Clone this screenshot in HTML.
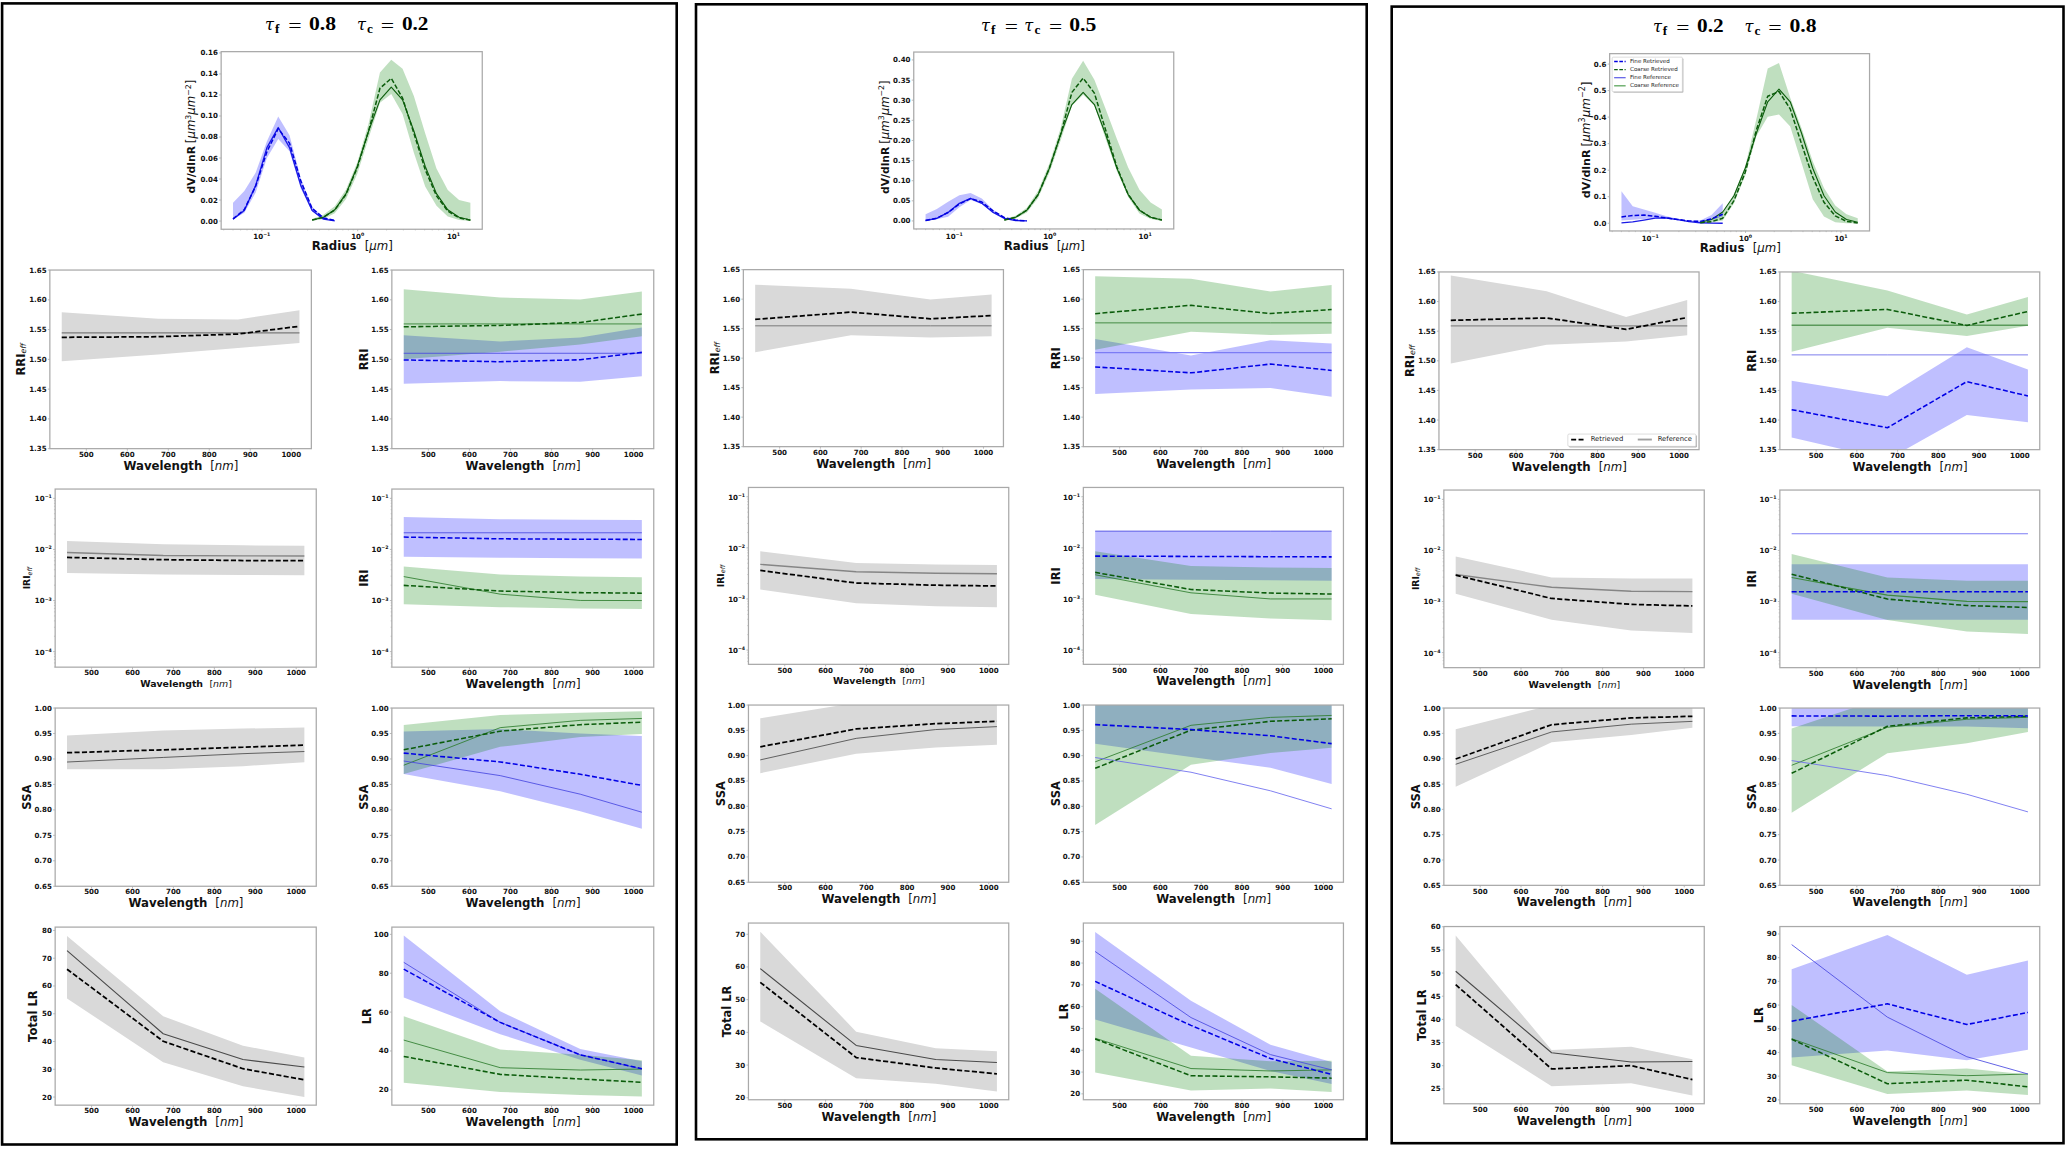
<!DOCTYPE html>
<html lang="en"><head><meta charset="utf-8"><title>Retrieval figure</title>
<style>html,body{margin:0;padding:0;background:#fff}svg{display:block}</style></head>
<body>
<svg width="2067" height="1149" viewBox="0 0 2067 1149">
<rect width="2067" height="1149" fill="#fff"/>
<defs><clipPath id="c1"><rect x="221.3" y="51.3" width="261.1" height="177.6"/></clipPath>
<clipPath id="c2"><rect x="50" y="269.7" width="261.5" height="178.6"/></clipPath>
<clipPath id="c3"><rect x="392" y="269.7" width="261.9" height="178.6"/></clipPath>
<clipPath id="c4"><rect x="55.3" y="488.7" width="261.1" height="178.1"/></clipPath>
<clipPath id="c5"><rect x="392" y="488.7" width="261.9" height="178.1"/></clipPath>
<clipPath id="c6"><rect x="55.3" y="707.7" width="261.1" height="178.2"/></clipPath>
<clipPath id="c7"><rect x="392" y="707.7" width="261.9" height="178.2"/></clipPath>
<clipPath id="c8"><rect x="55.3" y="926.75" width="261.1" height="178.05"/></clipPath>
<clipPath id="c9"><rect x="392" y="926.75" width="261.9" height="178.05"/></clipPath>
<clipPath id="c10"><rect x="913.9" y="51.7" width="260" height="176.9"/></clipPath>
<clipPath id="c11"><rect x="743.5" y="269.3" width="260.1" height="177"/></clipPath>
<clipPath id="c12"><rect x="1083.5" y="269.3" width="260.1" height="177"/></clipPath>
<clipPath id="c13"><rect x="748.6" y="487.1" width="260.3" height="176.9"/></clipPath>
<clipPath id="c14"><rect x="1083.5" y="487.1" width="260.1" height="176.9"/></clipPath>
<clipPath id="c15"><rect x="748.6" y="704.7" width="260.3" height="177.2"/></clipPath>
<clipPath id="c16"><rect x="1083.5" y="704.7" width="260.1" height="177.2"/></clipPath>
<clipPath id="c17"><rect x="748.6" y="922.7" width="260.3" height="176.7"/></clipPath>
<clipPath id="c18"><rect x="1083.5" y="922.7" width="260.1" height="176.7"/></clipPath>
<clipPath id="c19"><rect x="1609.8" y="53.3" width="259.9" height="177.3"/></clipPath>
<clipPath id="c20"><rect x="1439.1" y="271.6" width="260.1" height="177.7"/></clipPath>
<clipPath id="c21"><rect x="1780" y="271.6" width="259.9" height="177.7"/></clipPath>
<clipPath id="c22"><rect x="1444" y="489.7" width="260.4" height="177.6"/></clipPath>
<clipPath id="c23"><rect x="1780" y="489.7" width="259.9" height="177.6"/></clipPath>
<clipPath id="c24"><rect x="1444" y="707.7" width="260.4" height="177.3"/></clipPath>
<clipPath id="c25"><rect x="1780" y="707.7" width="259.9" height="177.3"/></clipPath>
<clipPath id="c26"><rect x="1444" y="926.2" width="260.4" height="177.2"/></clipPath>
<clipPath id="c27"><rect x="1780" y="926.2" width="259.9" height="177.2"/></clipPath></defs>
<rect x="2.1" y="3.4" width="674.6" height="1141.1" fill="none" stroke="#000" stroke-width="2.6"/>
<text x="265.1" y="30" font-family='"DejaVu Serif", "Liberation Serif", serif' font-size="16.8" font-weight="normal" font-style="italic" text-anchor="start" fill="#000" textLength="9.0" lengthAdjust="spacingAndGlyphs">τ</text>
<text x="275" y="33" font-family='"Liberation Serif", "DejaVu Serif", serif' font-size="13.2" font-weight="bold" font-style="normal" text-anchor="start" fill="#000">f</text>
<text x="288.2" y="31.6" font-family='"Liberation Serif", "DejaVu Serif", serif' font-size="19.5" font-weight="normal" font-style="normal" text-anchor="start" fill="#000" textLength="13.4" lengthAdjust="spacingAndGlyphs">=</text>
<text x="309" y="30" font-family='"Liberation Serif", "DejaVu Serif", serif' font-size="18.4" font-weight="bold" font-style="normal" text-anchor="start" fill="#000" textLength="27.1" lengthAdjust="spacingAndGlyphs">0.8</text>
<text x="357" y="30" font-family='"DejaVu Serif", "Liberation Serif", serif' font-size="16.8" font-weight="normal" font-style="italic" text-anchor="start" fill="#000" textLength="9.0" lengthAdjust="spacingAndGlyphs">τ</text>
<text x="367" y="33" font-family='"Liberation Serif", "DejaVu Serif", serif' font-size="13.2" font-weight="bold" font-style="normal" text-anchor="start" fill="#000">c</text>
<text x="380.7" y="31.6" font-family='"Liberation Serif", "DejaVu Serif", serif' font-size="19.5" font-weight="normal" font-style="normal" text-anchor="start" fill="#000" textLength="13.4" lengthAdjust="spacingAndGlyphs">=</text>
<text x="401.9" y="30" font-family='"Liberation Serif", "DejaVu Serif", serif' font-size="18.4" font-weight="bold" font-style="normal" text-anchor="start" fill="#000" textLength="26.6" lengthAdjust="spacingAndGlyphs">0.2</text>
<g transform="translate(-0.15 0.35)">
<g clip-path="url(#c1)"><polygon points="233.17,202.52 244.47,190.76 255.77,172.37 267.08,140.85 278.38,116.27 289.68,134.86 300.99,178.15 312.29,206.52 323.59,216.92 334.9,219.86 334.9,220.7 323.59,218.6 312.29,211.24 300.99,188.13 289.68,150.83 278.38,138.75 267.08,157.66 255.77,192.33 244.47,212.29 233.17,219.12" fill="#0000ff" fill-opacity="0.25"/><polygon points="312.29,218.6 323.59,214.4 334.9,205.99 346.2,189.18 357.5,161.86 368.8,122.99 380.11,72.14 391.41,59.43 402.71,68.36 414.02,95.68 425.32,132.87 436.62,168.17 447.93,189.71 459.23,199.69 470.53,202.52 470.53,220.7 459.23,219.65 447.93,216.18 436.62,205.47 425.32,186.03 414.02,152.41 402.71,113.54 391.41,93.57 380.11,102.5 368.8,137.7 357.5,173.42 346.2,198.64 334.9,212.82 323.59,218.6 312.29,220.38" fill="#008000" fill-opacity="0.25"/><polyline points="233.17,218.77 244.47,210.16 255.77,185.26 267.08,147.33 278.38,127.19 289.68,147.33 300.99,185.26 312.29,210.16 323.59,218.77 334.9,220.48" fill="none" stroke="#1a1ae6" stroke-width="1.3" stroke-linejoin="round"/><polyline points="312.29,219.66 323.59,216.93 334.9,209.47 346.2,193.3 357.5,165.85 368.8,130.66 380.11,99.48 391.41,86.85 402.71,99.48 414.02,130.66 425.32,165.85 436.62,193.3 447.93,209.47 459.23,216.93 470.53,219.66" fill="none" stroke="#0b5c0b" stroke-width="1.1" stroke-linejoin="round"/><polyline points="233.17,218.6 244.47,209.14 255.77,186.03 267.08,151.36 278.38,128.25 289.68,142.95 300.99,180.78 312.29,208.09 323.59,217.55 334.9,220.17" fill="none" stroke="#0000e0" stroke-width="1.5" stroke-linejoin="round" stroke-dasharray="4.6 2"/><polyline points="312.29,219.65 323.59,216.92 334.9,209.67 346.2,193.91 357.5,167.12 368.8,130.35 380.11,87.9 391.41,78.03 402.71,97.78 414.02,132.87 425.32,169.22 436.62,195.48 447.93,210.72 459.23,217.55 470.53,219.86" fill="none" stroke="#0b5c0b" stroke-width="1.5" stroke-linejoin="round" stroke-dasharray="4.6 2"/></g>
<rect x="221.3" y="51.3" width="261.1" height="177.6" fill="none" stroke="#a9a9a9" stroke-width="1.25"/>
<line x1="219.3" y1="220.7" x2="221.3" y2="220.7" stroke="#a9a9a9" stroke-width="0.8"/>
<text x="218" y="223.2" font-family='"DejaVu Sans", "Liberation Sans", sans-serif' font-size="7.05" font-weight="bold" font-style="normal" text-anchor="end" fill="#111">0.00</text>
<line x1="219.3" y1="199.69" x2="221.3" y2="199.69" stroke="#a9a9a9" stroke-width="0.8"/>
<text x="218" y="202.19" font-family='"DejaVu Sans", "Liberation Sans", sans-serif' font-size="7.05" font-weight="bold" font-style="normal" text-anchor="end" fill="#111">0.02</text>
<line x1="219.3" y1="178.67" x2="221.3" y2="178.67" stroke="#a9a9a9" stroke-width="0.8"/>
<text x="218" y="181.17" font-family='"DejaVu Sans", "Liberation Sans", sans-serif' font-size="7.05" font-weight="bold" font-style="normal" text-anchor="end" fill="#111">0.04</text>
<line x1="219.3" y1="157.66" x2="221.3" y2="157.66" stroke="#a9a9a9" stroke-width="0.8"/>
<text x="218" y="160.16" font-family='"DejaVu Sans", "Liberation Sans", sans-serif' font-size="7.05" font-weight="bold" font-style="normal" text-anchor="end" fill="#111">0.06</text>
<line x1="219.3" y1="136.65" x2="221.3" y2="136.65" stroke="#a9a9a9" stroke-width="0.8"/>
<text x="218" y="139.15" font-family='"DejaVu Sans", "Liberation Sans", sans-serif' font-size="7.05" font-weight="bold" font-style="normal" text-anchor="end" fill="#111">0.08</text>
<line x1="219.3" y1="115.64" x2="221.3" y2="115.64" stroke="#a9a9a9" stroke-width="0.8"/>
<text x="218" y="118.14" font-family='"DejaVu Sans", "Liberation Sans", sans-serif' font-size="7.05" font-weight="bold" font-style="normal" text-anchor="end" fill="#111">0.10</text>
<line x1="219.3" y1="94.62" x2="221.3" y2="94.62" stroke="#a9a9a9" stroke-width="0.8"/>
<text x="218" y="97.12" font-family='"DejaVu Sans", "Liberation Sans", sans-serif' font-size="7.05" font-weight="bold" font-style="normal" text-anchor="end" fill="#111">0.12</text>
<line x1="219.3" y1="73.61" x2="221.3" y2="73.61" stroke="#a9a9a9" stroke-width="0.8"/>
<text x="218" y="76.11" font-family='"DejaVu Sans", "Liberation Sans", sans-serif' font-size="7.05" font-weight="bold" font-style="normal" text-anchor="end" fill="#111">0.14</text>
<line x1="219.3" y1="52.6" x2="221.3" y2="52.6" stroke="#a9a9a9" stroke-width="0.8"/>
<text x="218" y="55.1" font-family='"DejaVu Sans", "Liberation Sans", sans-serif' font-size="7.05" font-weight="bold" font-style="normal" text-anchor="end" fill="#111">0.16</text>
<line x1="262.01" y1="228.9" x2="262.01" y2="230.9" stroke="#a9a9a9" stroke-width="0.8"/>
<text x="262.01" y="238.5" font-family='"DejaVu Sans", "Liberation Sans", sans-serif' font-size="7.05" font-weight="bold" font-style="normal" text-anchor="middle" fill="#111">10<tspan font-size="4.7" dy="-2.9">−1</tspan></text>
<line x1="357.84" y1="228.9" x2="357.84" y2="230.9" stroke="#a9a9a9" stroke-width="0.8"/>
<text x="357.84" y="238.5" font-family='"DejaVu Sans", "Liberation Sans", sans-serif' font-size="7.05" font-weight="bold" font-style="normal" text-anchor="middle" fill="#111">10<tspan font-size="4.7" dy="-2.9">0</tspan></text>
<line x1="453.66" y1="228.9" x2="453.66" y2="230.9" stroke="#a9a9a9" stroke-width="0.8"/>
<text x="453.66" y="238.5" font-family='"DejaVu Sans", "Liberation Sans", sans-serif' font-size="7.05" font-weight="bold" font-style="normal" text-anchor="middle" fill="#111">10<tspan font-size="4.7" dy="-2.9">1</tspan></text>
<line x1="223.88" y1="228.9" x2="223.88" y2="230.1" stroke="#a9a9a9" stroke-width="0.6"/>
<line x1="233.17" y1="228.9" x2="233.17" y2="230.1" stroke="#a9a9a9" stroke-width="0.6"/>
<line x1="240.76" y1="228.9" x2="240.76" y2="230.1" stroke="#a9a9a9" stroke-width="0.6"/>
<line x1="247.17" y1="228.9" x2="247.17" y2="230.1" stroke="#a9a9a9" stroke-width="0.6"/>
<line x1="252.73" y1="228.9" x2="252.73" y2="230.1" stroke="#a9a9a9" stroke-width="0.6"/>
<line x1="257.63" y1="228.9" x2="257.63" y2="230.1" stroke="#a9a9a9" stroke-width="0.6"/>
<line x1="290.86" y1="228.9" x2="290.86" y2="230.1" stroke="#a9a9a9" stroke-width="0.6"/>
<line x1="307.73" y1="228.9" x2="307.73" y2="230.1" stroke="#a9a9a9" stroke-width="0.6"/>
<line x1="319.7" y1="228.9" x2="319.7" y2="230.1" stroke="#a9a9a9" stroke-width="0.6"/>
<line x1="328.99" y1="228.9" x2="328.99" y2="230.1" stroke="#a9a9a9" stroke-width="0.6"/>
<line x1="336.58" y1="228.9" x2="336.58" y2="230.1" stroke="#a9a9a9" stroke-width="0.6"/>
<line x1="342.99" y1="228.9" x2="342.99" y2="230.1" stroke="#a9a9a9" stroke-width="0.6"/>
<line x1="348.55" y1="228.9" x2="348.55" y2="230.1" stroke="#a9a9a9" stroke-width="0.6"/>
<line x1="353.45" y1="228.9" x2="353.45" y2="230.1" stroke="#a9a9a9" stroke-width="0.6"/>
<line x1="386.68" y1="228.9" x2="386.68" y2="230.1" stroke="#a9a9a9" stroke-width="0.6"/>
<line x1="403.55" y1="228.9" x2="403.55" y2="230.1" stroke="#a9a9a9" stroke-width="0.6"/>
<line x1="415.53" y1="228.9" x2="415.53" y2="230.1" stroke="#a9a9a9" stroke-width="0.6"/>
<line x1="424.81" y1="228.9" x2="424.81" y2="230.1" stroke="#a9a9a9" stroke-width="0.6"/>
<line x1="432.4" y1="228.9" x2="432.4" y2="230.1" stroke="#a9a9a9" stroke-width="0.6"/>
<line x1="438.82" y1="228.9" x2="438.82" y2="230.1" stroke="#a9a9a9" stroke-width="0.6"/>
<line x1="444.37" y1="228.9" x2="444.37" y2="230.1" stroke="#a9a9a9" stroke-width="0.6"/>
<line x1="449.27" y1="228.9" x2="449.27" y2="230.1" stroke="#a9a9a9" stroke-width="0.6"/>
<text x="352.45" y="249.9" font-family='"DejaVu Sans", "Liberation Sans", sans-serif' font-size="11.75" font-weight="bold" font-style="normal" text-anchor="middle" fill="#111">Radius<tspan font-weight="normal" dx="8.2">[</tspan><tspan font-weight="normal" font-style="italic">µm</tspan><tspan font-weight="normal">]</tspan></text>
<text x="195.4" y="136.2" font-family='"DejaVu Sans", "Liberation Sans", sans-serif' font-size="11.75" font-weight="bold" font-style="normal" text-anchor="middle" fill="#111" transform="rotate(-90 195.4 136.2)"><tspan font-size="10.8">dV/dlnR</tspan> <tspan font-weight="normal" dx="-1.3">[</tspan><tspan font-weight="normal" font-style="italic">µm</tspan><tspan font-weight="normal" font-size="7.8" dy="-4.2">3</tspan><tspan font-weight="normal" font-style="italic" dy="4.2">µm</tspan><tspan font-weight="normal" font-size="7.8" dy="-4.2">−2</tspan><tspan font-weight="normal" dy="4.2">]</tspan></text>
<g clip-path="url(#c2)"><polygon points="61.89,311.97 158.21,318.52 238.13,319.11 299.61,309.83 299.61,342.57 238.13,347.69 158.21,354.24 61.89,360.79" fill="#d9d9d9"/><polyline points="61.89,332.51 158.21,332.51 238.13,332.51 299.61,332.51" fill="none" stroke="#7a7a7a" stroke-width="1.1" stroke-linejoin="round"/><polyline points="61.89,336.97 158.21,336.38 238.13,333.7 299.61,325.9" fill="none" stroke="#000" stroke-width="1.75" stroke-linejoin="round" stroke-dasharray="5.15 2.3"/></g>
<rect x="50" y="269.7" width="261.5" height="178.6" fill="none" stroke="#a9a9a9" stroke-width="1.25"/>
<line x1="48" y1="448.3" x2="50" y2="448.3" stroke="#a9a9a9" stroke-width="0.8"/>
<text x="46.7" y="450.8" font-family='"DejaVu Sans", "Liberation Sans", sans-serif' font-size="7.05" font-weight="bold" font-style="normal" text-anchor="end" fill="#111">1.35</text>
<line x1="48" y1="418.53" x2="50" y2="418.53" stroke="#a9a9a9" stroke-width="0.8"/>
<text x="46.7" y="421.03" font-family='"DejaVu Sans", "Liberation Sans", sans-serif' font-size="7.05" font-weight="bold" font-style="normal" text-anchor="end" fill="#111">1.40</text>
<line x1="48" y1="388.77" x2="50" y2="388.77" stroke="#a9a9a9" stroke-width="0.8"/>
<text x="46.7" y="391.27" font-family='"DejaVu Sans", "Liberation Sans", sans-serif' font-size="7.05" font-weight="bold" font-style="normal" text-anchor="end" fill="#111">1.45</text>
<line x1="48" y1="359" x2="50" y2="359" stroke="#a9a9a9" stroke-width="0.8"/>
<text x="46.7" y="361.5" font-family='"DejaVu Sans", "Liberation Sans", sans-serif' font-size="7.05" font-weight="bold" font-style="normal" text-anchor="end" fill="#111">1.50</text>
<line x1="48" y1="329.23" x2="50" y2="329.23" stroke="#a9a9a9" stroke-width="0.8"/>
<text x="46.7" y="331.73" font-family='"DejaVu Sans", "Liberation Sans", sans-serif' font-size="7.05" font-weight="bold" font-style="normal" text-anchor="end" fill="#111">1.55</text>
<line x1="48" y1="299.47" x2="50" y2="299.47" stroke="#a9a9a9" stroke-width="0.8"/>
<text x="46.7" y="301.97" font-family='"DejaVu Sans", "Liberation Sans", sans-serif' font-size="7.05" font-weight="bold" font-style="normal" text-anchor="end" fill="#111">1.60</text>
<line x1="48" y1="269.7" x2="50" y2="269.7" stroke="#a9a9a9" stroke-width="0.8"/>
<text x="46.7" y="272.2" font-family='"DejaVu Sans", "Liberation Sans", sans-serif' font-size="7.05" font-weight="bold" font-style="normal" text-anchor="end" fill="#111">1.65</text>
<line x1="86.48" y1="448.3" x2="86.48" y2="450.3" stroke="#a9a9a9" stroke-width="0.8"/>
<text x="86.48" y="456.5" font-family='"DejaVu Sans", "Liberation Sans", sans-serif' font-size="7.05" font-weight="bold" font-style="normal" text-anchor="middle" fill="#111">500</text>
<line x1="127.47" y1="448.3" x2="127.47" y2="450.3" stroke="#a9a9a9" stroke-width="0.8"/>
<text x="127.47" y="456.5" font-family='"DejaVu Sans", "Liberation Sans", sans-serif' font-size="7.05" font-weight="bold" font-style="normal" text-anchor="middle" fill="#111">600</text>
<line x1="168.45" y1="448.3" x2="168.45" y2="450.3" stroke="#a9a9a9" stroke-width="0.8"/>
<text x="168.45" y="456.5" font-family='"DejaVu Sans", "Liberation Sans", sans-serif' font-size="7.05" font-weight="bold" font-style="normal" text-anchor="middle" fill="#111">700</text>
<line x1="209.44" y1="448.3" x2="209.44" y2="450.3" stroke="#a9a9a9" stroke-width="0.8"/>
<text x="209.44" y="456.5" font-family='"DejaVu Sans", "Liberation Sans", sans-serif' font-size="7.05" font-weight="bold" font-style="normal" text-anchor="middle" fill="#111">800</text>
<line x1="250.43" y1="448.3" x2="250.43" y2="450.3" stroke="#a9a9a9" stroke-width="0.8"/>
<text x="250.43" y="456.5" font-family='"DejaVu Sans", "Liberation Sans", sans-serif' font-size="7.05" font-weight="bold" font-style="normal" text-anchor="middle" fill="#111">900</text>
<line x1="291.42" y1="448.3" x2="291.42" y2="450.3" stroke="#a9a9a9" stroke-width="0.8"/>
<text x="291.42" y="456.5" font-family='"DejaVu Sans", "Liberation Sans", sans-serif' font-size="7.05" font-weight="bold" font-style="normal" text-anchor="middle" fill="#111">1000</text>
<text x="181.05" y="469.4" font-family='"DejaVu Sans", "Liberation Sans", sans-serif' font-size="11.75" font-weight="bold" font-style="normal" text-anchor="middle" fill="#111">Wavelength<tspan font-weight="normal" dx="7.99">[</tspan><tspan font-weight="normal" font-style="italic">nm</tspan><tspan font-weight="normal">]</tspan></text>
<text x="24.7" y="359" font-family='"DejaVu Sans", "Liberation Sans", sans-serif' font-size="11.5" font-weight="bold" font-style="normal" text-anchor="middle" fill="#111" transform="rotate(-90 24.7 359)">RRI<tspan font-weight="normal" font-style="italic" font-size="7.8" dy="1.6">eff</tspan></text>
<g clip-path="url(#c3)"><polygon points="403.9,334.89 500.37,341.14 580.42,337.27 642,327.09 642,375.85 580.42,381.33 500.37,380.73 403.9,383.29" fill="#0000ff" fill-opacity="0.25"/><polygon points="403.9,288.87 500.37,297.09 580.42,299.05 642,291.25 642,335.9 580.42,344.12 500.37,351.38 403.9,358.82" fill="#008000" fill-opacity="0.25"/><polyline points="403.9,323.58 500.37,323.58 580.42,323.58 642,323.58" fill="none" stroke="#2e7d2e" stroke-width="0.85" stroke-linejoin="round"/><polyline points="403.9,352.93 500.37,352.93 580.42,352.93 642,352.93" fill="none" stroke="#4848e0" stroke-width="0.85" stroke-linejoin="round"/><polyline points="403.9,326.49 500.37,325.07 580.42,322.09 642,313.75" fill="none" stroke="#0b5c0b" stroke-width="1.55" stroke-linejoin="round" stroke-dasharray="5 2.3"/><polyline points="403.9,359.6 500.37,361.38 580.42,359.42 642,351.98" fill="none" stroke="#0000e6" stroke-width="1.55" stroke-linejoin="round" stroke-dasharray="5 2.3"/></g>
<rect x="392" y="269.7" width="261.9" height="178.6" fill="none" stroke="#a9a9a9" stroke-width="1.25"/>
<line x1="390" y1="448.3" x2="392" y2="448.3" stroke="#a9a9a9" stroke-width="0.8"/>
<text x="388.7" y="450.8" font-family='"DejaVu Sans", "Liberation Sans", sans-serif' font-size="7.05" font-weight="bold" font-style="normal" text-anchor="end" fill="#111">1.35</text>
<line x1="390" y1="418.53" x2="392" y2="418.53" stroke="#a9a9a9" stroke-width="0.8"/>
<text x="388.7" y="421.03" font-family='"DejaVu Sans", "Liberation Sans", sans-serif' font-size="7.05" font-weight="bold" font-style="normal" text-anchor="end" fill="#111">1.40</text>
<line x1="390" y1="388.77" x2="392" y2="388.77" stroke="#a9a9a9" stroke-width="0.8"/>
<text x="388.7" y="391.27" font-family='"DejaVu Sans", "Liberation Sans", sans-serif' font-size="7.05" font-weight="bold" font-style="normal" text-anchor="end" fill="#111">1.45</text>
<line x1="390" y1="359" x2="392" y2="359" stroke="#a9a9a9" stroke-width="0.8"/>
<text x="388.7" y="361.5" font-family='"DejaVu Sans", "Liberation Sans", sans-serif' font-size="7.05" font-weight="bold" font-style="normal" text-anchor="end" fill="#111">1.50</text>
<line x1="390" y1="329.23" x2="392" y2="329.23" stroke="#a9a9a9" stroke-width="0.8"/>
<text x="388.7" y="331.73" font-family='"DejaVu Sans", "Liberation Sans", sans-serif' font-size="7.05" font-weight="bold" font-style="normal" text-anchor="end" fill="#111">1.55</text>
<line x1="390" y1="299.47" x2="392" y2="299.47" stroke="#a9a9a9" stroke-width="0.8"/>
<text x="388.7" y="301.97" font-family='"DejaVu Sans", "Liberation Sans", sans-serif' font-size="7.05" font-weight="bold" font-style="normal" text-anchor="end" fill="#111">1.60</text>
<line x1="390" y1="269.7" x2="392" y2="269.7" stroke="#a9a9a9" stroke-width="0.8"/>
<text x="388.7" y="272.2" font-family='"DejaVu Sans", "Liberation Sans", sans-serif' font-size="7.05" font-weight="bold" font-style="normal" text-anchor="end" fill="#111">1.65</text>
<line x1="428.53" y1="448.3" x2="428.53" y2="450.3" stroke="#a9a9a9" stroke-width="0.8"/>
<text x="428.53" y="456.5" font-family='"DejaVu Sans", "Liberation Sans", sans-serif' font-size="7.05" font-weight="bold" font-style="normal" text-anchor="middle" fill="#111">500</text>
<line x1="469.58" y1="448.3" x2="469.58" y2="450.3" stroke="#a9a9a9" stroke-width="0.8"/>
<text x="469.58" y="456.5" font-family='"DejaVu Sans", "Liberation Sans", sans-serif' font-size="7.05" font-weight="bold" font-style="normal" text-anchor="middle" fill="#111">600</text>
<line x1="510.63" y1="448.3" x2="510.63" y2="450.3" stroke="#a9a9a9" stroke-width="0.8"/>
<text x="510.63" y="456.5" font-family='"DejaVu Sans", "Liberation Sans", sans-serif' font-size="7.05" font-weight="bold" font-style="normal" text-anchor="middle" fill="#111">700</text>
<line x1="551.69" y1="448.3" x2="551.69" y2="450.3" stroke="#a9a9a9" stroke-width="0.8"/>
<text x="551.69" y="456.5" font-family='"DejaVu Sans", "Liberation Sans", sans-serif' font-size="7.05" font-weight="bold" font-style="normal" text-anchor="middle" fill="#111">800</text>
<line x1="592.74" y1="448.3" x2="592.74" y2="450.3" stroke="#a9a9a9" stroke-width="0.8"/>
<text x="592.74" y="456.5" font-family='"DejaVu Sans", "Liberation Sans", sans-serif' font-size="7.05" font-weight="bold" font-style="normal" text-anchor="middle" fill="#111">900</text>
<line x1="633.79" y1="448.3" x2="633.79" y2="450.3" stroke="#a9a9a9" stroke-width="0.8"/>
<text x="633.79" y="456.5" font-family='"DejaVu Sans", "Liberation Sans", sans-serif' font-size="7.05" font-weight="bold" font-style="normal" text-anchor="middle" fill="#111">1000</text>
<text x="523.25" y="469.4" font-family='"DejaVu Sans", "Liberation Sans", sans-serif' font-size="11.75" font-weight="bold" font-style="normal" text-anchor="middle" fill="#111">Wavelength<tspan font-weight="normal" dx="7.99">[</tspan><tspan font-weight="normal" font-style="italic">nm</tspan><tspan font-weight="normal">]</tspan></text>
<text x="368" y="359" font-family='"DejaVu Sans", "Liberation Sans", sans-serif' font-size="11.5" font-weight="bold" font-style="normal" text-anchor="middle" fill="#111" transform="rotate(-90 368 359)">RRI</text>
<g clip-path="url(#c4)"><polygon points="67.17,540.67 163.34,543.99 243.14,545.01 304.53,545.52 304.53,574.85 243.14,574.65 163.34,574.09 67.17,572.71" fill="#d9d9d9"/><polyline points="67.17,552.17 163.34,555.08 243.14,555.49 304.53,555.69" fill="none" stroke="#858585" stroke-width="1.4" stroke-linejoin="round"/><polyline points="67.17,557.07 163.34,559.32 243.14,560.19 304.53,560.34" fill="none" stroke="#000" stroke-width="1.75" stroke-linejoin="round" stroke-dasharray="5.15 2.3"/></g>
<rect x="55.3" y="488.7" width="261.1" height="178.1" fill="none" stroke="#a9a9a9" stroke-width="1.25"/>
<line x1="53.3" y1="498" x2="55.3" y2="498" stroke="#a9a9a9" stroke-width="0.8"/>
<text x="52" y="500.9" font-family='"DejaVu Sans", "Liberation Sans", sans-serif' font-size="7.05" font-weight="bold" font-style="normal" text-anchor="end" fill="#111">10<tspan font-size="4.7" dy="-2.9">−1</tspan></text>
<line x1="53.3" y1="549.1" x2="55.3" y2="549.1" stroke="#a9a9a9" stroke-width="0.8"/>
<text x="52" y="552" font-family='"DejaVu Sans", "Liberation Sans", sans-serif' font-size="7.05" font-weight="bold" font-style="normal" text-anchor="end" fill="#111">10<tspan font-size="4.7" dy="-2.9">−2</tspan></text>
<line x1="53.3" y1="600.2" x2="55.3" y2="600.2" stroke="#a9a9a9" stroke-width="0.8"/>
<text x="52" y="603.1" font-family='"DejaVu Sans", "Liberation Sans", sans-serif' font-size="7.05" font-weight="bold" font-style="normal" text-anchor="end" fill="#111">10<tspan font-size="4.7" dy="-2.9">−3</tspan></text>
<line x1="53.3" y1="651.3" x2="55.3" y2="651.3" stroke="#a9a9a9" stroke-width="0.8"/>
<text x="52" y="654.2" font-family='"DejaVu Sans", "Liberation Sans", sans-serif' font-size="7.05" font-weight="bold" font-style="normal" text-anchor="end" fill="#111">10<tspan font-size="4.7" dy="-2.9">−4</tspan></text>
<line x1="54.1" y1="666.68" x2="55.3" y2="666.68" stroke="#a9a9a9" stroke-width="0.6"/>
<line x1="54.1" y1="662.64" x2="55.3" y2="662.64" stroke="#a9a9a9" stroke-width="0.6"/>
<line x1="54.1" y1="659.22" x2="55.3" y2="659.22" stroke="#a9a9a9" stroke-width="0.6"/>
<line x1="54.1" y1="656.25" x2="55.3" y2="656.25" stroke="#a9a9a9" stroke-width="0.6"/>
<line x1="54.1" y1="653.64" x2="55.3" y2="653.64" stroke="#a9a9a9" stroke-width="0.6"/>
<line x1="54.1" y1="635.92" x2="55.3" y2="635.92" stroke="#a9a9a9" stroke-width="0.6"/>
<line x1="54.1" y1="626.92" x2="55.3" y2="626.92" stroke="#a9a9a9" stroke-width="0.6"/>
<line x1="54.1" y1="620.53" x2="55.3" y2="620.53" stroke="#a9a9a9" stroke-width="0.6"/>
<line x1="54.1" y1="615.58" x2="55.3" y2="615.58" stroke="#a9a9a9" stroke-width="0.6"/>
<line x1="54.1" y1="611.54" x2="55.3" y2="611.54" stroke="#a9a9a9" stroke-width="0.6"/>
<line x1="54.1" y1="608.12" x2="55.3" y2="608.12" stroke="#a9a9a9" stroke-width="0.6"/>
<line x1="54.1" y1="605.15" x2="55.3" y2="605.15" stroke="#a9a9a9" stroke-width="0.6"/>
<line x1="54.1" y1="602.54" x2="55.3" y2="602.54" stroke="#a9a9a9" stroke-width="0.6"/>
<line x1="54.1" y1="584.82" x2="55.3" y2="584.82" stroke="#a9a9a9" stroke-width="0.6"/>
<line x1="54.1" y1="575.82" x2="55.3" y2="575.82" stroke="#a9a9a9" stroke-width="0.6"/>
<line x1="54.1" y1="569.43" x2="55.3" y2="569.43" stroke="#a9a9a9" stroke-width="0.6"/>
<line x1="54.1" y1="564.48" x2="55.3" y2="564.48" stroke="#a9a9a9" stroke-width="0.6"/>
<line x1="54.1" y1="560.44" x2="55.3" y2="560.44" stroke="#a9a9a9" stroke-width="0.6"/>
<line x1="54.1" y1="557.02" x2="55.3" y2="557.02" stroke="#a9a9a9" stroke-width="0.6"/>
<line x1="54.1" y1="554.05" x2="55.3" y2="554.05" stroke="#a9a9a9" stroke-width="0.6"/>
<line x1="54.1" y1="551.44" x2="55.3" y2="551.44" stroke="#a9a9a9" stroke-width="0.6"/>
<line x1="54.1" y1="533.72" x2="55.3" y2="533.72" stroke="#a9a9a9" stroke-width="0.6"/>
<line x1="54.1" y1="524.72" x2="55.3" y2="524.72" stroke="#a9a9a9" stroke-width="0.6"/>
<line x1="54.1" y1="518.33" x2="55.3" y2="518.33" stroke="#a9a9a9" stroke-width="0.6"/>
<line x1="54.1" y1="513.38" x2="55.3" y2="513.38" stroke="#a9a9a9" stroke-width="0.6"/>
<line x1="54.1" y1="509.34" x2="55.3" y2="509.34" stroke="#a9a9a9" stroke-width="0.6"/>
<line x1="54.1" y1="505.92" x2="55.3" y2="505.92" stroke="#a9a9a9" stroke-width="0.6"/>
<line x1="54.1" y1="502.95" x2="55.3" y2="502.95" stroke="#a9a9a9" stroke-width="0.6"/>
<line x1="54.1" y1="500.34" x2="55.3" y2="500.34" stroke="#a9a9a9" stroke-width="0.6"/>
<line x1="91.72" y1="666.8" x2="91.72" y2="668.8" stroke="#a9a9a9" stroke-width="0.8"/>
<text x="91.72" y="675" font-family='"DejaVu Sans", "Liberation Sans", sans-serif' font-size="7.05" font-weight="bold" font-style="normal" text-anchor="middle" fill="#111">500</text>
<line x1="132.65" y1="666.8" x2="132.65" y2="668.8" stroke="#a9a9a9" stroke-width="0.8"/>
<text x="132.65" y="675" font-family='"DejaVu Sans", "Liberation Sans", sans-serif' font-size="7.05" font-weight="bold" font-style="normal" text-anchor="middle" fill="#111">600</text>
<line x1="173.57" y1="666.8" x2="173.57" y2="668.8" stroke="#a9a9a9" stroke-width="0.8"/>
<text x="173.57" y="675" font-family='"DejaVu Sans", "Liberation Sans", sans-serif' font-size="7.05" font-weight="bold" font-style="normal" text-anchor="middle" fill="#111">700</text>
<line x1="214.5" y1="666.8" x2="214.5" y2="668.8" stroke="#a9a9a9" stroke-width="0.8"/>
<text x="214.5" y="675" font-family='"DejaVu Sans", "Liberation Sans", sans-serif' font-size="7.05" font-weight="bold" font-style="normal" text-anchor="middle" fill="#111">800</text>
<line x1="255.42" y1="666.8" x2="255.42" y2="668.8" stroke="#a9a9a9" stroke-width="0.8"/>
<text x="255.42" y="675" font-family='"DejaVu Sans", "Liberation Sans", sans-serif' font-size="7.05" font-weight="bold" font-style="normal" text-anchor="middle" fill="#111">900</text>
<line x1="296.35" y1="666.8" x2="296.35" y2="668.8" stroke="#a9a9a9" stroke-width="0.8"/>
<text x="296.35" y="675" font-family='"DejaVu Sans", "Liberation Sans", sans-serif' font-size="7.05" font-weight="bold" font-style="normal" text-anchor="middle" fill="#111">1000</text>
<text x="186.15" y="686.7" font-family='"DejaVu Sans", "Liberation Sans", sans-serif' font-size="9.4" font-weight="bold" font-style="normal" text-anchor="middle" fill="#111">Wavelength<tspan font-weight="normal" dx="6.39">[</tspan><tspan font-weight="normal" font-style="italic">nm</tspan><tspan font-weight="normal">]</tspan></text>
<text x="30.4" y="577.75" font-family='"DejaVu Sans", "Liberation Sans", sans-serif' font-size="9.2" font-weight="bold" font-style="normal" text-anchor="middle" fill="#111" transform="rotate(-90 30.4 577.75)">IRI<tspan font-weight="normal" font-style="italic" font-size="6.4" dy="1.3">eff</tspan></text>
<g clip-path="url(#c5)"><polygon points="403.9,516.58 500.37,518.95 580.42,519.51 642,519.72 642,558.04 580.42,557.84 500.37,557.43 403.9,556.46" fill="#0000ff" fill-opacity="0.25"/><polygon points="403.9,566.25 500.37,574.27 580.42,576.23 642,577 642,608.68 580.42,608.27 500.37,606.84 403.9,603.98" fill="#008000" fill-opacity="0.25"/><polyline points="403.9,576.23 500.37,593.81 580.42,600.1 642,600.2" fill="none" stroke="#2e7d2e" stroke-width="0.85" stroke-linejoin="round"/><polyline points="403.9,532.42 500.37,532.42 580.42,532.42 642,532.42" fill="none" stroke="#4848e0" stroke-width="0.85" stroke-linejoin="round"/><polyline points="403.9,585.02 500.37,590.7 580.42,592.28 642,592.84" fill="none" stroke="#0b5c0b" stroke-width="1.55" stroke-linejoin="round" stroke-dasharray="5 2.3"/><polyline points="403.9,536.73 500.37,538.47 580.42,538.88 642,539.08" fill="none" stroke="#0000e6" stroke-width="1.55" stroke-linejoin="round" stroke-dasharray="5 2.3"/></g>
<rect x="392" y="488.7" width="261.9" height="178.1" fill="none" stroke="#a9a9a9" stroke-width="1.25"/>
<line x1="390" y1="498" x2="392" y2="498" stroke="#a9a9a9" stroke-width="0.8"/>
<text x="388.7" y="500.9" font-family='"DejaVu Sans", "Liberation Sans", sans-serif' font-size="7.05" font-weight="bold" font-style="normal" text-anchor="end" fill="#111">10<tspan font-size="4.7" dy="-2.9">−1</tspan></text>
<line x1="390" y1="549.1" x2="392" y2="549.1" stroke="#a9a9a9" stroke-width="0.8"/>
<text x="388.7" y="552" font-family='"DejaVu Sans", "Liberation Sans", sans-serif' font-size="7.05" font-weight="bold" font-style="normal" text-anchor="end" fill="#111">10<tspan font-size="4.7" dy="-2.9">−2</tspan></text>
<line x1="390" y1="600.2" x2="392" y2="600.2" stroke="#a9a9a9" stroke-width="0.8"/>
<text x="388.7" y="603.1" font-family='"DejaVu Sans", "Liberation Sans", sans-serif' font-size="7.05" font-weight="bold" font-style="normal" text-anchor="end" fill="#111">10<tspan font-size="4.7" dy="-2.9">−3</tspan></text>
<line x1="390" y1="651.3" x2="392" y2="651.3" stroke="#a9a9a9" stroke-width="0.8"/>
<text x="388.7" y="654.2" font-family='"DejaVu Sans", "Liberation Sans", sans-serif' font-size="7.05" font-weight="bold" font-style="normal" text-anchor="end" fill="#111">10<tspan font-size="4.7" dy="-2.9">−4</tspan></text>
<line x1="390.8" y1="666.68" x2="392" y2="666.68" stroke="#a9a9a9" stroke-width="0.6"/>
<line x1="390.8" y1="662.64" x2="392" y2="662.64" stroke="#a9a9a9" stroke-width="0.6"/>
<line x1="390.8" y1="659.22" x2="392" y2="659.22" stroke="#a9a9a9" stroke-width="0.6"/>
<line x1="390.8" y1="656.25" x2="392" y2="656.25" stroke="#a9a9a9" stroke-width="0.6"/>
<line x1="390.8" y1="653.64" x2="392" y2="653.64" stroke="#a9a9a9" stroke-width="0.6"/>
<line x1="390.8" y1="635.92" x2="392" y2="635.92" stroke="#a9a9a9" stroke-width="0.6"/>
<line x1="390.8" y1="626.92" x2="392" y2="626.92" stroke="#a9a9a9" stroke-width="0.6"/>
<line x1="390.8" y1="620.53" x2="392" y2="620.53" stroke="#a9a9a9" stroke-width="0.6"/>
<line x1="390.8" y1="615.58" x2="392" y2="615.58" stroke="#a9a9a9" stroke-width="0.6"/>
<line x1="390.8" y1="611.54" x2="392" y2="611.54" stroke="#a9a9a9" stroke-width="0.6"/>
<line x1="390.8" y1="608.12" x2="392" y2="608.12" stroke="#a9a9a9" stroke-width="0.6"/>
<line x1="390.8" y1="605.15" x2="392" y2="605.15" stroke="#a9a9a9" stroke-width="0.6"/>
<line x1="390.8" y1="602.54" x2="392" y2="602.54" stroke="#a9a9a9" stroke-width="0.6"/>
<line x1="390.8" y1="584.82" x2="392" y2="584.82" stroke="#a9a9a9" stroke-width="0.6"/>
<line x1="390.8" y1="575.82" x2="392" y2="575.82" stroke="#a9a9a9" stroke-width="0.6"/>
<line x1="390.8" y1="569.43" x2="392" y2="569.43" stroke="#a9a9a9" stroke-width="0.6"/>
<line x1="390.8" y1="564.48" x2="392" y2="564.48" stroke="#a9a9a9" stroke-width="0.6"/>
<line x1="390.8" y1="560.44" x2="392" y2="560.44" stroke="#a9a9a9" stroke-width="0.6"/>
<line x1="390.8" y1="557.02" x2="392" y2="557.02" stroke="#a9a9a9" stroke-width="0.6"/>
<line x1="390.8" y1="554.05" x2="392" y2="554.05" stroke="#a9a9a9" stroke-width="0.6"/>
<line x1="390.8" y1="551.44" x2="392" y2="551.44" stroke="#a9a9a9" stroke-width="0.6"/>
<line x1="390.8" y1="533.72" x2="392" y2="533.72" stroke="#a9a9a9" stroke-width="0.6"/>
<line x1="390.8" y1="524.72" x2="392" y2="524.72" stroke="#a9a9a9" stroke-width="0.6"/>
<line x1="390.8" y1="518.33" x2="392" y2="518.33" stroke="#a9a9a9" stroke-width="0.6"/>
<line x1="390.8" y1="513.38" x2="392" y2="513.38" stroke="#a9a9a9" stroke-width="0.6"/>
<line x1="390.8" y1="509.34" x2="392" y2="509.34" stroke="#a9a9a9" stroke-width="0.6"/>
<line x1="390.8" y1="505.92" x2="392" y2="505.92" stroke="#a9a9a9" stroke-width="0.6"/>
<line x1="390.8" y1="502.95" x2="392" y2="502.95" stroke="#a9a9a9" stroke-width="0.6"/>
<line x1="390.8" y1="500.34" x2="392" y2="500.34" stroke="#a9a9a9" stroke-width="0.6"/>
<line x1="428.53" y1="666.8" x2="428.53" y2="668.8" stroke="#a9a9a9" stroke-width="0.8"/>
<text x="428.53" y="675" font-family='"DejaVu Sans", "Liberation Sans", sans-serif' font-size="7.05" font-weight="bold" font-style="normal" text-anchor="middle" fill="#111">500</text>
<line x1="469.58" y1="666.8" x2="469.58" y2="668.8" stroke="#a9a9a9" stroke-width="0.8"/>
<text x="469.58" y="675" font-family='"DejaVu Sans", "Liberation Sans", sans-serif' font-size="7.05" font-weight="bold" font-style="normal" text-anchor="middle" fill="#111">600</text>
<line x1="510.63" y1="666.8" x2="510.63" y2="668.8" stroke="#a9a9a9" stroke-width="0.8"/>
<text x="510.63" y="675" font-family='"DejaVu Sans", "Liberation Sans", sans-serif' font-size="7.05" font-weight="bold" font-style="normal" text-anchor="middle" fill="#111">700</text>
<line x1="551.69" y1="666.8" x2="551.69" y2="668.8" stroke="#a9a9a9" stroke-width="0.8"/>
<text x="551.69" y="675" font-family='"DejaVu Sans", "Liberation Sans", sans-serif' font-size="7.05" font-weight="bold" font-style="normal" text-anchor="middle" fill="#111">800</text>
<line x1="592.74" y1="666.8" x2="592.74" y2="668.8" stroke="#a9a9a9" stroke-width="0.8"/>
<text x="592.74" y="675" font-family='"DejaVu Sans", "Liberation Sans", sans-serif' font-size="7.05" font-weight="bold" font-style="normal" text-anchor="middle" fill="#111">900</text>
<line x1="633.79" y1="666.8" x2="633.79" y2="668.8" stroke="#a9a9a9" stroke-width="0.8"/>
<text x="633.79" y="675" font-family='"DejaVu Sans", "Liberation Sans", sans-serif' font-size="7.05" font-weight="bold" font-style="normal" text-anchor="middle" fill="#111">1000</text>
<text x="523.25" y="687.9" font-family='"DejaVu Sans", "Liberation Sans", sans-serif' font-size="11.75" font-weight="bold" font-style="normal" text-anchor="middle" fill="#111">Wavelength<tspan font-weight="normal" dx="7.99">[</tspan><tspan font-weight="normal" font-style="italic">nm</tspan><tspan font-weight="normal">]</tspan></text>
<text x="368" y="577.75" font-family='"DejaVu Sans", "Liberation Sans", sans-serif' font-size="11.5" font-weight="bold" font-style="normal" text-anchor="middle" fill="#111" transform="rotate(-90 368 577.75)">IRI</text>
<g clip-path="url(#c6)"><polygon points="67.17,735.19 163.34,730.2 243.14,728.27 304.53,727.05 304.53,761.92 243.14,765.84 163.34,768.8 67.17,768.8" fill="#d9d9d9"/><polyline points="67.17,761.67 163.34,757.09 243.14,753.32 304.53,751.18" fill="none" stroke="#5a5a5a" stroke-width="0.95" stroke-linejoin="round"/><polyline points="67.17,752.35 163.34,749.45 243.14,746.9 304.53,744.71" fill="none" stroke="#000" stroke-width="1.75" stroke-linejoin="round" stroke-dasharray="5.15 2.3"/></g>
<rect x="55.3" y="707.7" width="261.1" height="178.2" fill="none" stroke="#a9a9a9" stroke-width="1.25"/>
<line x1="53.3" y1="885.9" x2="55.3" y2="885.9" stroke="#a9a9a9" stroke-width="0.8"/>
<text x="52" y="888.4" font-family='"DejaVu Sans", "Liberation Sans", sans-serif' font-size="7.05" font-weight="bold" font-style="normal" text-anchor="end" fill="#111">0.65</text>
<line x1="53.3" y1="860.44" x2="55.3" y2="860.44" stroke="#a9a9a9" stroke-width="0.8"/>
<text x="52" y="862.94" font-family='"DejaVu Sans", "Liberation Sans", sans-serif' font-size="7.05" font-weight="bold" font-style="normal" text-anchor="end" fill="#111">0.70</text>
<line x1="53.3" y1="834.99" x2="55.3" y2="834.99" stroke="#a9a9a9" stroke-width="0.8"/>
<text x="52" y="837.49" font-family='"DejaVu Sans", "Liberation Sans", sans-serif' font-size="7.05" font-weight="bold" font-style="normal" text-anchor="end" fill="#111">0.75</text>
<line x1="53.3" y1="809.53" x2="55.3" y2="809.53" stroke="#a9a9a9" stroke-width="0.8"/>
<text x="52" y="812.03" font-family='"DejaVu Sans", "Liberation Sans", sans-serif' font-size="7.05" font-weight="bold" font-style="normal" text-anchor="end" fill="#111">0.80</text>
<line x1="53.3" y1="784.07" x2="55.3" y2="784.07" stroke="#a9a9a9" stroke-width="0.8"/>
<text x="52" y="786.57" font-family='"DejaVu Sans", "Liberation Sans", sans-serif' font-size="7.05" font-weight="bold" font-style="normal" text-anchor="end" fill="#111">0.85</text>
<line x1="53.3" y1="758.61" x2="55.3" y2="758.61" stroke="#a9a9a9" stroke-width="0.8"/>
<text x="52" y="761.11" font-family='"DejaVu Sans", "Liberation Sans", sans-serif' font-size="7.05" font-weight="bold" font-style="normal" text-anchor="end" fill="#111">0.90</text>
<line x1="53.3" y1="733.16" x2="55.3" y2="733.16" stroke="#a9a9a9" stroke-width="0.8"/>
<text x="52" y="735.66" font-family='"DejaVu Sans", "Liberation Sans", sans-serif' font-size="7.05" font-weight="bold" font-style="normal" text-anchor="end" fill="#111">0.95</text>
<line x1="53.3" y1="707.7" x2="55.3" y2="707.7" stroke="#a9a9a9" stroke-width="0.8"/>
<text x="52" y="710.2" font-family='"DejaVu Sans", "Liberation Sans", sans-serif' font-size="7.05" font-weight="bold" font-style="normal" text-anchor="end" fill="#111">1.00</text>
<line x1="91.72" y1="885.9" x2="91.72" y2="887.9" stroke="#a9a9a9" stroke-width="0.8"/>
<text x="91.72" y="894.1" font-family='"DejaVu Sans", "Liberation Sans", sans-serif' font-size="7.05" font-weight="bold" font-style="normal" text-anchor="middle" fill="#111">500</text>
<line x1="132.65" y1="885.9" x2="132.65" y2="887.9" stroke="#a9a9a9" stroke-width="0.8"/>
<text x="132.65" y="894.1" font-family='"DejaVu Sans", "Liberation Sans", sans-serif' font-size="7.05" font-weight="bold" font-style="normal" text-anchor="middle" fill="#111">600</text>
<line x1="173.57" y1="885.9" x2="173.57" y2="887.9" stroke="#a9a9a9" stroke-width="0.8"/>
<text x="173.57" y="894.1" font-family='"DejaVu Sans", "Liberation Sans", sans-serif' font-size="7.05" font-weight="bold" font-style="normal" text-anchor="middle" fill="#111">700</text>
<line x1="214.5" y1="885.9" x2="214.5" y2="887.9" stroke="#a9a9a9" stroke-width="0.8"/>
<text x="214.5" y="894.1" font-family='"DejaVu Sans", "Liberation Sans", sans-serif' font-size="7.05" font-weight="bold" font-style="normal" text-anchor="middle" fill="#111">800</text>
<line x1="255.42" y1="885.9" x2="255.42" y2="887.9" stroke="#a9a9a9" stroke-width="0.8"/>
<text x="255.42" y="894.1" font-family='"DejaVu Sans", "Liberation Sans", sans-serif' font-size="7.05" font-weight="bold" font-style="normal" text-anchor="middle" fill="#111">900</text>
<line x1="296.35" y1="885.9" x2="296.35" y2="887.9" stroke="#a9a9a9" stroke-width="0.8"/>
<text x="296.35" y="894.1" font-family='"DejaVu Sans", "Liberation Sans", sans-serif' font-size="7.05" font-weight="bold" font-style="normal" text-anchor="middle" fill="#111">1000</text>
<text x="186.15" y="907" font-family='"DejaVu Sans", "Liberation Sans", sans-serif' font-size="11.75" font-weight="bold" font-style="normal" text-anchor="middle" fill="#111">Wavelength<tspan font-weight="normal" dx="7.99">[</tspan><tspan font-weight="normal" font-style="italic">nm</tspan><tspan font-weight="normal">]</tspan></text>
<text x="30.8" y="796.8" font-family='"DejaVu Sans", "Liberation Sans", sans-serif' font-size="11.5" font-weight="bold" font-style="normal" text-anchor="middle" fill="#111" transform="rotate(-90 30.8 796.8)">SSA</text>
<g clip-path="url(#c7)"><polygon points="403.9,731.22 500.37,728.68 580.42,733.16 642,735.7 642,828.52 580.42,810.9 500.37,790.94 403.9,773.68" fill="#0000ff" fill-opacity="0.25"/><polygon points="403.9,724.76 500.37,714.57 580.42,712.28 642,711.01 642,733.56 580.42,736.72 500.37,746.5 403.9,773.68" fill="#008000" fill-opacity="0.25"/><polyline points="403.9,764.88 500.37,727.3 580.42,720.02 642,718.09" fill="none" stroke="#2e7d2e" stroke-width="0.85" stroke-linejoin="round"/><polyline points="403.9,760.65 500.37,775.26 580.42,793.85 642,811.87" fill="none" stroke="#4848e0" stroke-width="0.85" stroke-linejoin="round"/><polyline points="403.9,749.45 500.37,730.82 580.42,724.35 642,721.8" fill="none" stroke="#0b5c0b" stroke-width="1.55" stroke-linejoin="round" stroke-dasharray="5 2.3"/><polyline points="403.9,752.76 500.37,761.57 580.42,773.89 642,785.09" fill="none" stroke="#0000e6" stroke-width="1.55" stroke-linejoin="round" stroke-dasharray="5 2.3"/></g>
<rect x="392" y="707.7" width="261.9" height="178.2" fill="none" stroke="#a9a9a9" stroke-width="1.25"/>
<line x1="390" y1="885.9" x2="392" y2="885.9" stroke="#a9a9a9" stroke-width="0.8"/>
<text x="388.7" y="888.4" font-family='"DejaVu Sans", "Liberation Sans", sans-serif' font-size="7.05" font-weight="bold" font-style="normal" text-anchor="end" fill="#111">0.65</text>
<line x1="390" y1="860.44" x2="392" y2="860.44" stroke="#a9a9a9" stroke-width="0.8"/>
<text x="388.7" y="862.94" font-family='"DejaVu Sans", "Liberation Sans", sans-serif' font-size="7.05" font-weight="bold" font-style="normal" text-anchor="end" fill="#111">0.70</text>
<line x1="390" y1="834.99" x2="392" y2="834.99" stroke="#a9a9a9" stroke-width="0.8"/>
<text x="388.7" y="837.49" font-family='"DejaVu Sans", "Liberation Sans", sans-serif' font-size="7.05" font-weight="bold" font-style="normal" text-anchor="end" fill="#111">0.75</text>
<line x1="390" y1="809.53" x2="392" y2="809.53" stroke="#a9a9a9" stroke-width="0.8"/>
<text x="388.7" y="812.03" font-family='"DejaVu Sans", "Liberation Sans", sans-serif' font-size="7.05" font-weight="bold" font-style="normal" text-anchor="end" fill="#111">0.80</text>
<line x1="390" y1="784.07" x2="392" y2="784.07" stroke="#a9a9a9" stroke-width="0.8"/>
<text x="388.7" y="786.57" font-family='"DejaVu Sans", "Liberation Sans", sans-serif' font-size="7.05" font-weight="bold" font-style="normal" text-anchor="end" fill="#111">0.85</text>
<line x1="390" y1="758.61" x2="392" y2="758.61" stroke="#a9a9a9" stroke-width="0.8"/>
<text x="388.7" y="761.11" font-family='"DejaVu Sans", "Liberation Sans", sans-serif' font-size="7.05" font-weight="bold" font-style="normal" text-anchor="end" fill="#111">0.90</text>
<line x1="390" y1="733.16" x2="392" y2="733.16" stroke="#a9a9a9" stroke-width="0.8"/>
<text x="388.7" y="735.66" font-family='"DejaVu Sans", "Liberation Sans", sans-serif' font-size="7.05" font-weight="bold" font-style="normal" text-anchor="end" fill="#111">0.95</text>
<line x1="390" y1="707.7" x2="392" y2="707.7" stroke="#a9a9a9" stroke-width="0.8"/>
<text x="388.7" y="710.2" font-family='"DejaVu Sans", "Liberation Sans", sans-serif' font-size="7.05" font-weight="bold" font-style="normal" text-anchor="end" fill="#111">1.00</text>
<line x1="428.53" y1="885.9" x2="428.53" y2="887.9" stroke="#a9a9a9" stroke-width="0.8"/>
<text x="428.53" y="894.1" font-family='"DejaVu Sans", "Liberation Sans", sans-serif' font-size="7.05" font-weight="bold" font-style="normal" text-anchor="middle" fill="#111">500</text>
<line x1="469.58" y1="885.9" x2="469.58" y2="887.9" stroke="#a9a9a9" stroke-width="0.8"/>
<text x="469.58" y="894.1" font-family='"DejaVu Sans", "Liberation Sans", sans-serif' font-size="7.05" font-weight="bold" font-style="normal" text-anchor="middle" fill="#111">600</text>
<line x1="510.63" y1="885.9" x2="510.63" y2="887.9" stroke="#a9a9a9" stroke-width="0.8"/>
<text x="510.63" y="894.1" font-family='"DejaVu Sans", "Liberation Sans", sans-serif' font-size="7.05" font-weight="bold" font-style="normal" text-anchor="middle" fill="#111">700</text>
<line x1="551.69" y1="885.9" x2="551.69" y2="887.9" stroke="#a9a9a9" stroke-width="0.8"/>
<text x="551.69" y="894.1" font-family='"DejaVu Sans", "Liberation Sans", sans-serif' font-size="7.05" font-weight="bold" font-style="normal" text-anchor="middle" fill="#111">800</text>
<line x1="592.74" y1="885.9" x2="592.74" y2="887.9" stroke="#a9a9a9" stroke-width="0.8"/>
<text x="592.74" y="894.1" font-family='"DejaVu Sans", "Liberation Sans", sans-serif' font-size="7.05" font-weight="bold" font-style="normal" text-anchor="middle" fill="#111">900</text>
<line x1="633.79" y1="885.9" x2="633.79" y2="887.9" stroke="#a9a9a9" stroke-width="0.8"/>
<text x="633.79" y="894.1" font-family='"DejaVu Sans", "Liberation Sans", sans-serif' font-size="7.05" font-weight="bold" font-style="normal" text-anchor="middle" fill="#111">1000</text>
<text x="523.25" y="907" font-family='"DejaVu Sans", "Liberation Sans", sans-serif' font-size="11.75" font-weight="bold" font-style="normal" text-anchor="middle" fill="#111">Wavelength<tspan font-weight="normal" dx="7.99">[</tspan><tspan font-weight="normal" font-style="italic">nm</tspan><tspan font-weight="normal">]</tspan></text>
<text x="368" y="796.8" font-family='"DejaVu Sans", "Liberation Sans", sans-serif' font-size="11.5" font-weight="bold" font-style="normal" text-anchor="middle" fill="#111" transform="rotate(-90 368 796.8)">SSA</text>
<g clip-path="url(#c8)"><polygon points="67.17,935.65 163.34,1015.9 243.14,1045.33 304.53,1057.27 304.53,1096.7 243.14,1085.87 163.34,1061.85 67.17,998.13" fill="#d9d9d9"/><polyline points="67.17,950.23 163.34,1033.39 243.14,1059.22 304.53,1066.71" fill="none" stroke="#4a4a4a" stroke-width="1.1" stroke-linejoin="round"/><polyline points="67.17,968.83 163.34,1040.89 243.14,1068.38 304.53,1079.48" fill="none" stroke="#000" stroke-width="1.75" stroke-linejoin="round" stroke-dasharray="5.15 2.3"/></g>
<rect x="55.3" y="926.75" width="261.1" height="178.05" fill="none" stroke="#a9a9a9" stroke-width="1.25"/>
<line x1="53.3" y1="1096.7" x2="55.3" y2="1096.7" stroke="#a9a9a9" stroke-width="0.8"/>
<text x="52" y="1099.2" font-family='"DejaVu Sans", "Liberation Sans", sans-serif' font-size="7.05" font-weight="bold" font-style="normal" text-anchor="end" fill="#111">20</text>
<line x1="53.3" y1="1068.93" x2="55.3" y2="1068.93" stroke="#a9a9a9" stroke-width="0.8"/>
<text x="52" y="1071.43" font-family='"DejaVu Sans", "Liberation Sans", sans-serif' font-size="7.05" font-weight="bold" font-style="normal" text-anchor="end" fill="#111">30</text>
<line x1="53.3" y1="1041.17" x2="55.3" y2="1041.17" stroke="#a9a9a9" stroke-width="0.8"/>
<text x="52" y="1043.67" font-family='"DejaVu Sans", "Liberation Sans", sans-serif' font-size="7.05" font-weight="bold" font-style="normal" text-anchor="end" fill="#111">40</text>
<line x1="53.3" y1="1013.4" x2="55.3" y2="1013.4" stroke="#a9a9a9" stroke-width="0.8"/>
<text x="52" y="1015.9" font-family='"DejaVu Sans", "Liberation Sans", sans-serif' font-size="7.05" font-weight="bold" font-style="normal" text-anchor="end" fill="#111">50</text>
<line x1="53.3" y1="985.63" x2="55.3" y2="985.63" stroke="#a9a9a9" stroke-width="0.8"/>
<text x="52" y="988.13" font-family='"DejaVu Sans", "Liberation Sans", sans-serif' font-size="7.05" font-weight="bold" font-style="normal" text-anchor="end" fill="#111">60</text>
<line x1="53.3" y1="957.87" x2="55.3" y2="957.87" stroke="#a9a9a9" stroke-width="0.8"/>
<text x="52" y="960.37" font-family='"DejaVu Sans", "Liberation Sans", sans-serif' font-size="7.05" font-weight="bold" font-style="normal" text-anchor="end" fill="#111">70</text>
<line x1="53.3" y1="930.1" x2="55.3" y2="930.1" stroke="#a9a9a9" stroke-width="0.8"/>
<text x="52" y="932.6" font-family='"DejaVu Sans", "Liberation Sans", sans-serif' font-size="7.05" font-weight="bold" font-style="normal" text-anchor="end" fill="#111">80</text>
<line x1="91.72" y1="1104.8" x2="91.72" y2="1106.8" stroke="#a9a9a9" stroke-width="0.8"/>
<text x="91.72" y="1113" font-family='"DejaVu Sans", "Liberation Sans", sans-serif' font-size="7.05" font-weight="bold" font-style="normal" text-anchor="middle" fill="#111">500</text>
<line x1="132.65" y1="1104.8" x2="132.65" y2="1106.8" stroke="#a9a9a9" stroke-width="0.8"/>
<text x="132.65" y="1113" font-family='"DejaVu Sans", "Liberation Sans", sans-serif' font-size="7.05" font-weight="bold" font-style="normal" text-anchor="middle" fill="#111">600</text>
<line x1="173.57" y1="1104.8" x2="173.57" y2="1106.8" stroke="#a9a9a9" stroke-width="0.8"/>
<text x="173.57" y="1113" font-family='"DejaVu Sans", "Liberation Sans", sans-serif' font-size="7.05" font-weight="bold" font-style="normal" text-anchor="middle" fill="#111">700</text>
<line x1="214.5" y1="1104.8" x2="214.5" y2="1106.8" stroke="#a9a9a9" stroke-width="0.8"/>
<text x="214.5" y="1113" font-family='"DejaVu Sans", "Liberation Sans", sans-serif' font-size="7.05" font-weight="bold" font-style="normal" text-anchor="middle" fill="#111">800</text>
<line x1="255.42" y1="1104.8" x2="255.42" y2="1106.8" stroke="#a9a9a9" stroke-width="0.8"/>
<text x="255.42" y="1113" font-family='"DejaVu Sans", "Liberation Sans", sans-serif' font-size="7.05" font-weight="bold" font-style="normal" text-anchor="middle" fill="#111">900</text>
<line x1="296.35" y1="1104.8" x2="296.35" y2="1106.8" stroke="#a9a9a9" stroke-width="0.8"/>
<text x="296.35" y="1113" font-family='"DejaVu Sans", "Liberation Sans", sans-serif' font-size="7.05" font-weight="bold" font-style="normal" text-anchor="middle" fill="#111">1000</text>
<text x="186.15" y="1125.9" font-family='"DejaVu Sans", "Liberation Sans", sans-serif' font-size="11.75" font-weight="bold" font-style="normal" text-anchor="middle" fill="#111">Wavelength<tspan font-weight="normal" dx="7.99">[</tspan><tspan font-weight="normal" font-style="italic">nm</tspan><tspan font-weight="normal">]</tspan></text>
<text x="37.3" y="1015.77" font-family='"DejaVu Sans", "Liberation Sans", sans-serif' font-size="11.5" font-weight="bold" font-style="normal" text-anchor="middle" fill="#111" transform="rotate(-90 37.3 1015.77)">Total LR</text>
<g clip-path="url(#c9)"><polygon points="403.9,935.17 500.37,1010.97 580.42,1048.56 642,1060.93 642,1075.12 580.42,1059.37 500.37,1033.91 403.9,997.17" fill="#0000ff" fill-opacity="0.25"/><polygon points="403.9,1015.83 500.37,1049.15 580.42,1054.51 642,1059.95 642,1096.11 580.42,1094.75 500.37,1091.64 403.9,1082.5" fill="#008000" fill-opacity="0.25"/><polyline points="403.9,1039.74 500.37,1067.34 580.42,1069.67 642,1068.7" fill="none" stroke="#2e7d2e" stroke-width="0.85" stroke-linejoin="round"/><polyline points="403.9,961.99 500.37,1022.05 580.42,1054.51 642,1068.7" fill="none" stroke="#4848e0" stroke-width="0.85" stroke-linejoin="round"/><polyline points="403.9,1056.07 500.37,1074.03 580.42,1078.62 642,1081.92" fill="none" stroke="#0b5c0b" stroke-width="1.55" stroke-linejoin="round" stroke-dasharray="5 2.3"/><polyline points="403.9,968.79 500.37,1022.05 580.42,1054.51 642,1068.31" fill="none" stroke="#0000e6" stroke-width="1.55" stroke-linejoin="round" stroke-dasharray="5 2.3"/></g>
<rect x="392" y="926.75" width="261.9" height="178.05" fill="none" stroke="#a9a9a9" stroke-width="1.25"/>
<line x1="390" y1="1089.5" x2="392" y2="1089.5" stroke="#a9a9a9" stroke-width="0.8"/>
<text x="388.7" y="1092" font-family='"DejaVu Sans", "Liberation Sans", sans-serif' font-size="7.05" font-weight="bold" font-style="normal" text-anchor="end" fill="#111">20</text>
<line x1="390" y1="1050.62" x2="392" y2="1050.62" stroke="#a9a9a9" stroke-width="0.8"/>
<text x="388.7" y="1053.12" font-family='"DejaVu Sans", "Liberation Sans", sans-serif' font-size="7.05" font-weight="bold" font-style="normal" text-anchor="end" fill="#111">40</text>
<line x1="390" y1="1011.75" x2="392" y2="1011.75" stroke="#a9a9a9" stroke-width="0.8"/>
<text x="388.7" y="1014.25" font-family='"DejaVu Sans", "Liberation Sans", sans-serif' font-size="7.05" font-weight="bold" font-style="normal" text-anchor="end" fill="#111">60</text>
<line x1="390" y1="972.88" x2="392" y2="972.88" stroke="#a9a9a9" stroke-width="0.8"/>
<text x="388.7" y="975.38" font-family='"DejaVu Sans", "Liberation Sans", sans-serif' font-size="7.05" font-weight="bold" font-style="normal" text-anchor="end" fill="#111">80</text>
<line x1="390" y1="934" x2="392" y2="934" stroke="#a9a9a9" stroke-width="0.8"/>
<text x="388.7" y="936.5" font-family='"DejaVu Sans", "Liberation Sans", sans-serif' font-size="7.05" font-weight="bold" font-style="normal" text-anchor="end" fill="#111">100</text>
<line x1="428.53" y1="1104.8" x2="428.53" y2="1106.8" stroke="#a9a9a9" stroke-width="0.8"/>
<text x="428.53" y="1113" font-family='"DejaVu Sans", "Liberation Sans", sans-serif' font-size="7.05" font-weight="bold" font-style="normal" text-anchor="middle" fill="#111">500</text>
<line x1="469.58" y1="1104.8" x2="469.58" y2="1106.8" stroke="#a9a9a9" stroke-width="0.8"/>
<text x="469.58" y="1113" font-family='"DejaVu Sans", "Liberation Sans", sans-serif' font-size="7.05" font-weight="bold" font-style="normal" text-anchor="middle" fill="#111">600</text>
<line x1="510.63" y1="1104.8" x2="510.63" y2="1106.8" stroke="#a9a9a9" stroke-width="0.8"/>
<text x="510.63" y="1113" font-family='"DejaVu Sans", "Liberation Sans", sans-serif' font-size="7.05" font-weight="bold" font-style="normal" text-anchor="middle" fill="#111">700</text>
<line x1="551.69" y1="1104.8" x2="551.69" y2="1106.8" stroke="#a9a9a9" stroke-width="0.8"/>
<text x="551.69" y="1113" font-family='"DejaVu Sans", "Liberation Sans", sans-serif' font-size="7.05" font-weight="bold" font-style="normal" text-anchor="middle" fill="#111">800</text>
<line x1="592.74" y1="1104.8" x2="592.74" y2="1106.8" stroke="#a9a9a9" stroke-width="0.8"/>
<text x="592.74" y="1113" font-family='"DejaVu Sans", "Liberation Sans", sans-serif' font-size="7.05" font-weight="bold" font-style="normal" text-anchor="middle" fill="#111">900</text>
<line x1="633.79" y1="1104.8" x2="633.79" y2="1106.8" stroke="#a9a9a9" stroke-width="0.8"/>
<text x="633.79" y="1113" font-family='"DejaVu Sans", "Liberation Sans", sans-serif' font-size="7.05" font-weight="bold" font-style="normal" text-anchor="middle" fill="#111">1000</text>
<text x="523.25" y="1125.9" font-family='"DejaVu Sans", "Liberation Sans", sans-serif' font-size="11.75" font-weight="bold" font-style="normal" text-anchor="middle" fill="#111">Wavelength<tspan font-weight="normal" dx="7.99">[</tspan><tspan font-weight="normal" font-style="italic">nm</tspan><tspan font-weight="normal">]</tspan></text>
<text x="370.9" y="1015.77" font-family='"DejaVu Sans", "Liberation Sans", sans-serif' font-size="11.5" font-weight="bold" font-style="normal" text-anchor="middle" fill="#111" transform="rotate(-90 370.9 1015.77)">LR</text>
</g>
<rect x="696" y="4.3" width="670.7" height="1135" fill="none" stroke="#000" stroke-width="2.6"/>
<text x="981.1" y="31" font-family='"DejaVu Serif", "Liberation Serif", serif' font-size="16.8" font-weight="normal" font-style="italic" text-anchor="start" fill="#000" textLength="9.0" lengthAdjust="spacingAndGlyphs">τ</text>
<text x="991" y="34" font-family='"Liberation Serif", "DejaVu Serif", serif' font-size="13.2" font-weight="bold" font-style="normal" text-anchor="start" fill="#000">f</text>
<text x="1004.8" y="32.6" font-family='"Liberation Serif", "DejaVu Serif", serif' font-size="19.5" font-weight="normal" font-style="normal" text-anchor="start" fill="#000" textLength="13.2" lengthAdjust="spacingAndGlyphs">=</text>
<text x="1024.2" y="31" font-family='"DejaVu Serif", "Liberation Serif", serif' font-size="16.8" font-weight="normal" font-style="italic" text-anchor="start" fill="#000" textLength="9.0" lengthAdjust="spacingAndGlyphs">τ</text>
<text x="1034.5" y="34" font-family='"Liberation Serif", "DejaVu Serif", serif' font-size="13.2" font-weight="bold" font-style="normal" text-anchor="start" fill="#000">c</text>
<text x="1048.9" y="32.6" font-family='"Liberation Serif", "DejaVu Serif", serif' font-size="19.5" font-weight="normal" font-style="normal" text-anchor="start" fill="#000" textLength="13.2" lengthAdjust="spacingAndGlyphs">=</text>
<text x="1069.2" y="31" font-family='"Liberation Serif", "DejaVu Serif", serif' font-size="18.4" font-weight="bold" font-style="normal" text-anchor="start" fill="#000" textLength="27.1" lengthAdjust="spacingAndGlyphs">0.5</text>
<g transform="translate(-0.15 0.35)">
<g clip-path="url(#c10)"><polygon points="925.72,213.96 936.97,208.53 948.23,201.28 959.48,194.96 970.74,192.59 982,198.06 993.25,209.33 1004.51,216.78 1015.76,219.47 1027.02,220.28 1027.02,220.6 1015.76,220.2 1004.51,217.98 993.25,211.95 982,203.69 970.74,199.67 959.48,206.91 948.23,216.33 936.97,218.99 925.72,220.28" fill="#0000ff" fill-opacity="0.25"/><polygon points="1004.51,218.59 1015.76,215.37 1027.02,207.32 1038.27,190.41 1049.53,163.04 1060.78,128.02 1072.04,78.52 1083.29,60.4 1094.55,79.32 1105.8,108.7 1117.06,138.73 1128.32,167.23 1139.57,189.41 1150.83,202.08 1162.08,209.21 1162.08,220.6 1150.83,218.59 1139.57,213.15 1128.32,196.53 1117.06,170.85 1105.8,138.73 1094.55,105.48 1083.29,94.42 1072.04,105.48 1060.78,140.1 1049.53,172.3 1038.27,197.66 1027.02,212.15 1015.76,218.19 1004.51,220.2" fill="#008000" fill-opacity="0.25"/><polyline points="925.72,220.14 936.97,218.06 948.23,212.07 959.48,202.95 970.74,198.1 982,202.95 993.25,212.07 1004.51,218.06 1015.76,220.14 1027.02,220.55" fill="none" stroke="#1a1ae6" stroke-width="1.3" stroke-linejoin="round"/><polyline points="1004.51,219.6 1015.76,216.98 1027.02,209.82 1038.27,194.28 1049.53,167.92 1060.78,134.12 1072.04,104.17 1083.29,92.04 1094.55,104.17 1105.8,134.12 1117.06,167.92 1128.32,194.28 1139.57,209.82 1150.83,216.98 1162.08,219.6" fill="none" stroke="#0b5c0b" stroke-width="1.1" stroke-linejoin="round"/><polyline points="925.72,220.08 936.97,217.86 948.23,212.15 959.48,203.69 970.74,198.26 982,201.68 993.25,210.54 1004.51,217.18 1015.76,219.79 1027.02,220.48" fill="none" stroke="#0000e0" stroke-width="1.5" stroke-linejoin="round" stroke-dasharray="4.6 2"/><polyline points="1004.51,219.59 1015.76,216.98 1027.02,209.81 1038.27,194.28 1049.53,167.87 1060.78,134.06 1072.04,92.04 1083.29,77.79 1094.55,92.81 1105.8,129.63 1117.06,166.66 1128.32,194.03 1139.57,209.73 1150.83,216.98 1162.08,219.59" fill="none" stroke="#0b5c0b" stroke-width="1.5" stroke-linejoin="round" stroke-dasharray="4.6 2"/></g>
<rect x="913.9" y="51.7" width="260" height="176.9" fill="none" stroke="#a9a9a9" stroke-width="1.25"/>
<line x1="911.9" y1="220.6" x2="913.9" y2="220.6" stroke="#a9a9a9" stroke-width="0.8"/>
<text x="910.6" y="223.1" font-family='"DejaVu Sans", "Liberation Sans", sans-serif' font-size="7.05" font-weight="bold" font-style="normal" text-anchor="end" fill="#111">0.00</text>
<line x1="911.9" y1="200.47" x2="913.9" y2="200.47" stroke="#a9a9a9" stroke-width="0.8"/>
<text x="910.6" y="202.97" font-family='"DejaVu Sans", "Liberation Sans", sans-serif' font-size="7.05" font-weight="bold" font-style="normal" text-anchor="end" fill="#111">0.05</text>
<line x1="911.9" y1="180.35" x2="913.9" y2="180.35" stroke="#a9a9a9" stroke-width="0.8"/>
<text x="910.6" y="182.85" font-family='"DejaVu Sans", "Liberation Sans", sans-serif' font-size="7.05" font-weight="bold" font-style="normal" text-anchor="end" fill="#111">0.10</text>
<line x1="911.9" y1="160.22" x2="913.9" y2="160.22" stroke="#a9a9a9" stroke-width="0.8"/>
<text x="910.6" y="162.72" font-family='"DejaVu Sans", "Liberation Sans", sans-serif' font-size="7.05" font-weight="bold" font-style="normal" text-anchor="end" fill="#111">0.15</text>
<line x1="911.9" y1="140.1" x2="913.9" y2="140.1" stroke="#a9a9a9" stroke-width="0.8"/>
<text x="910.6" y="142.6" font-family='"DejaVu Sans", "Liberation Sans", sans-serif' font-size="7.05" font-weight="bold" font-style="normal" text-anchor="end" fill="#111">0.20</text>
<line x1="911.9" y1="119.97" x2="913.9" y2="119.97" stroke="#a9a9a9" stroke-width="0.8"/>
<text x="910.6" y="122.47" font-family='"DejaVu Sans", "Liberation Sans", sans-serif' font-size="7.05" font-weight="bold" font-style="normal" text-anchor="end" fill="#111">0.25</text>
<line x1="911.9" y1="99.85" x2="913.9" y2="99.85" stroke="#a9a9a9" stroke-width="0.8"/>
<text x="910.6" y="102.35" font-family='"DejaVu Sans", "Liberation Sans", sans-serif' font-size="7.05" font-weight="bold" font-style="normal" text-anchor="end" fill="#111">0.30</text>
<line x1="911.9" y1="79.72" x2="913.9" y2="79.72" stroke="#a9a9a9" stroke-width="0.8"/>
<text x="910.6" y="82.22" font-family='"DejaVu Sans", "Liberation Sans", sans-serif' font-size="7.05" font-weight="bold" font-style="normal" text-anchor="end" fill="#111">0.35</text>
<line x1="911.9" y1="59.6" x2="913.9" y2="59.6" stroke="#a9a9a9" stroke-width="0.8"/>
<text x="910.6" y="62.1" font-family='"DejaVu Sans", "Liberation Sans", sans-serif' font-size="7.05" font-weight="bold" font-style="normal" text-anchor="end" fill="#111">0.40</text>
<line x1="954.44" y1="228.6" x2="954.44" y2="230.6" stroke="#a9a9a9" stroke-width="0.8"/>
<text x="954.44" y="238.2" font-family='"DejaVu Sans", "Liberation Sans", sans-serif' font-size="7.05" font-weight="bold" font-style="normal" text-anchor="middle" fill="#111">10<tspan font-size="4.7" dy="-2.9">−1</tspan></text>
<line x1="1049.86" y1="228.6" x2="1049.86" y2="230.6" stroke="#a9a9a9" stroke-width="0.8"/>
<text x="1049.86" y="238.2" font-family='"DejaVu Sans", "Liberation Sans", sans-serif' font-size="7.05" font-weight="bold" font-style="normal" text-anchor="middle" fill="#111">10<tspan font-size="4.7" dy="-2.9">0</tspan></text>
<line x1="1145.28" y1="228.6" x2="1145.28" y2="230.6" stroke="#a9a9a9" stroke-width="0.8"/>
<text x="1145.28" y="238.2" font-family='"DejaVu Sans", "Liberation Sans", sans-serif' font-size="7.05" font-weight="bold" font-style="normal" text-anchor="middle" fill="#111">10<tspan font-size="4.7" dy="-2.9">1</tspan></text>
<line x1="916.47" y1="228.6" x2="916.47" y2="229.8" stroke="#a9a9a9" stroke-width="0.6"/>
<line x1="925.72" y1="228.6" x2="925.72" y2="229.8" stroke="#a9a9a9" stroke-width="0.6"/>
<line x1="933.27" y1="228.6" x2="933.27" y2="229.8" stroke="#a9a9a9" stroke-width="0.6"/>
<line x1="939.66" y1="228.6" x2="939.66" y2="229.8" stroke="#a9a9a9" stroke-width="0.6"/>
<line x1="945.2" y1="228.6" x2="945.2" y2="229.8" stroke="#a9a9a9" stroke-width="0.6"/>
<line x1="950.08" y1="228.6" x2="950.08" y2="229.8" stroke="#a9a9a9" stroke-width="0.6"/>
<line x1="983.17" y1="228.6" x2="983.17" y2="229.8" stroke="#a9a9a9" stroke-width="0.6"/>
<line x1="999.97" y1="228.6" x2="999.97" y2="229.8" stroke="#a9a9a9" stroke-width="0.6"/>
<line x1="1011.89" y1="228.6" x2="1011.89" y2="229.8" stroke="#a9a9a9" stroke-width="0.6"/>
<line x1="1021.14" y1="228.6" x2="1021.14" y2="229.8" stroke="#a9a9a9" stroke-width="0.6"/>
<line x1="1028.69" y1="228.6" x2="1028.69" y2="229.8" stroke="#a9a9a9" stroke-width="0.6"/>
<line x1="1035.08" y1="228.6" x2="1035.08" y2="229.8" stroke="#a9a9a9" stroke-width="0.6"/>
<line x1="1040.61" y1="228.6" x2="1040.61" y2="229.8" stroke="#a9a9a9" stroke-width="0.6"/>
<line x1="1045.49" y1="228.6" x2="1045.49" y2="229.8" stroke="#a9a9a9" stroke-width="0.6"/>
<line x1="1078.58" y1="228.6" x2="1078.58" y2="229.8" stroke="#a9a9a9" stroke-width="0.6"/>
<line x1="1095.39" y1="228.6" x2="1095.39" y2="229.8" stroke="#a9a9a9" stroke-width="0.6"/>
<line x1="1107.31" y1="228.6" x2="1107.31" y2="229.8" stroke="#a9a9a9" stroke-width="0.6"/>
<line x1="1116.56" y1="228.6" x2="1116.56" y2="229.8" stroke="#a9a9a9" stroke-width="0.6"/>
<line x1="1124.11" y1="228.6" x2="1124.11" y2="229.8" stroke="#a9a9a9" stroke-width="0.6"/>
<line x1="1130.5" y1="228.6" x2="1130.5" y2="229.8" stroke="#a9a9a9" stroke-width="0.6"/>
<line x1="1136.03" y1="228.6" x2="1136.03" y2="229.8" stroke="#a9a9a9" stroke-width="0.6"/>
<line x1="1140.91" y1="228.6" x2="1140.91" y2="229.8" stroke="#a9a9a9" stroke-width="0.6"/>
<text x="1044.5" y="249.6" font-family='"DejaVu Sans", "Liberation Sans", sans-serif' font-size="11.75" font-weight="bold" font-style="normal" text-anchor="middle" fill="#111">Radius<tspan font-weight="normal" dx="8.2">[</tspan><tspan font-weight="normal" font-style="italic">µm</tspan><tspan font-weight="normal">]</tspan></text>
<text x="888.7" y="136.85" font-family='"DejaVu Sans", "Liberation Sans", sans-serif' font-size="11.75" font-weight="bold" font-style="normal" text-anchor="middle" fill="#111" transform="rotate(-90 888.7 136.85)"><tspan font-size="10.8">dV/dlnR</tspan> <tspan font-weight="normal" dx="-1.3">[</tspan><tspan font-weight="normal" font-style="italic">µm</tspan><tspan font-weight="normal" font-size="7.8" dy="-4.2">3</tspan><tspan font-weight="normal" font-style="italic" dy="4.2">µm</tspan><tspan font-weight="normal" font-size="7.8" dy="-4.2">−2</tspan><tspan font-weight="normal" dy="4.2">]</tspan></text>
<g clip-path="url(#c11)"><polygon points="755.32,284.34 851.13,288.3 930.63,299.04 991.78,294.14 991.78,335.85 930.63,337.21 851.13,334.91 755.32,351.9" fill="#d9d9d9"/><polyline points="755.32,325.47 851.13,325.47 930.63,325.47 991.78,325.47" fill="none" stroke="#707070" stroke-width="0.9" stroke-linejoin="round"/><polyline points="755.32,319.04 851.13,311.78 930.63,318.45 991.78,315.32" fill="none" stroke="#000" stroke-width="1.75" stroke-linejoin="round" stroke-dasharray="5.15 2.3"/></g>
<rect x="743.5" y="269.3" width="260.1" height="177" fill="none" stroke="#a9a9a9" stroke-width="1.25"/>
<line x1="741.5" y1="446.3" x2="743.5" y2="446.3" stroke="#a9a9a9" stroke-width="0.8"/>
<text x="740.2" y="448.8" font-family='"DejaVu Sans", "Liberation Sans", sans-serif' font-size="7.05" font-weight="bold" font-style="normal" text-anchor="end" fill="#111">1.35</text>
<line x1="741.5" y1="416.8" x2="743.5" y2="416.8" stroke="#a9a9a9" stroke-width="0.8"/>
<text x="740.2" y="419.3" font-family='"DejaVu Sans", "Liberation Sans", sans-serif' font-size="7.05" font-weight="bold" font-style="normal" text-anchor="end" fill="#111">1.40</text>
<line x1="741.5" y1="387.3" x2="743.5" y2="387.3" stroke="#a9a9a9" stroke-width="0.8"/>
<text x="740.2" y="389.8" font-family='"DejaVu Sans", "Liberation Sans", sans-serif' font-size="7.05" font-weight="bold" font-style="normal" text-anchor="end" fill="#111">1.45</text>
<line x1="741.5" y1="357.8" x2="743.5" y2="357.8" stroke="#a9a9a9" stroke-width="0.8"/>
<text x="740.2" y="360.3" font-family='"DejaVu Sans", "Liberation Sans", sans-serif' font-size="7.05" font-weight="bold" font-style="normal" text-anchor="end" fill="#111">1.50</text>
<line x1="741.5" y1="328.3" x2="743.5" y2="328.3" stroke="#a9a9a9" stroke-width="0.8"/>
<text x="740.2" y="330.8" font-family='"DejaVu Sans", "Liberation Sans", sans-serif' font-size="7.05" font-weight="bold" font-style="normal" text-anchor="end" fill="#111">1.55</text>
<line x1="741.5" y1="298.8" x2="743.5" y2="298.8" stroke="#a9a9a9" stroke-width="0.8"/>
<text x="740.2" y="301.3" font-family='"DejaVu Sans", "Liberation Sans", sans-serif' font-size="7.05" font-weight="bold" font-style="normal" text-anchor="end" fill="#111">1.60</text>
<line x1="741.5" y1="269.3" x2="743.5" y2="269.3" stroke="#a9a9a9" stroke-width="0.8"/>
<text x="740.2" y="271.8" font-family='"DejaVu Sans", "Liberation Sans", sans-serif' font-size="7.05" font-weight="bold" font-style="normal" text-anchor="end" fill="#111">1.65</text>
<line x1="779.78" y1="446.3" x2="779.78" y2="448.3" stroke="#a9a9a9" stroke-width="0.8"/>
<text x="779.78" y="454.5" font-family='"DejaVu Sans", "Liberation Sans", sans-serif' font-size="7.05" font-weight="bold" font-style="normal" text-anchor="middle" fill="#111">500</text>
<line x1="820.55" y1="446.3" x2="820.55" y2="448.3" stroke="#a9a9a9" stroke-width="0.8"/>
<text x="820.55" y="454.5" font-family='"DejaVu Sans", "Liberation Sans", sans-serif' font-size="7.05" font-weight="bold" font-style="normal" text-anchor="middle" fill="#111">600</text>
<line x1="861.32" y1="446.3" x2="861.32" y2="448.3" stroke="#a9a9a9" stroke-width="0.8"/>
<text x="861.32" y="454.5" font-family='"DejaVu Sans", "Liberation Sans", sans-serif' font-size="7.05" font-weight="bold" font-style="normal" text-anchor="middle" fill="#111">700</text>
<line x1="902.09" y1="446.3" x2="902.09" y2="448.3" stroke="#a9a9a9" stroke-width="0.8"/>
<text x="902.09" y="454.5" font-family='"DejaVu Sans", "Liberation Sans", sans-serif' font-size="7.05" font-weight="bold" font-style="normal" text-anchor="middle" fill="#111">800</text>
<line x1="942.86" y1="446.3" x2="942.86" y2="448.3" stroke="#a9a9a9" stroke-width="0.8"/>
<text x="942.86" y="454.5" font-family='"DejaVu Sans", "Liberation Sans", sans-serif' font-size="7.05" font-weight="bold" font-style="normal" text-anchor="middle" fill="#111">900</text>
<line x1="983.62" y1="446.3" x2="983.62" y2="448.3" stroke="#a9a9a9" stroke-width="0.8"/>
<text x="983.62" y="454.5" font-family='"DejaVu Sans", "Liberation Sans", sans-serif' font-size="7.05" font-weight="bold" font-style="normal" text-anchor="middle" fill="#111">1000</text>
<text x="873.85" y="467.4" font-family='"DejaVu Sans", "Liberation Sans", sans-serif' font-size="11.75" font-weight="bold" font-style="normal" text-anchor="middle" fill="#111">Wavelength<tspan font-weight="normal" dx="7.99">[</tspan><tspan font-weight="normal" font-style="italic">nm</tspan><tspan font-weight="normal">]</tspan></text>
<text x="719" y="357.8" font-family='"DejaVu Sans", "Liberation Sans", sans-serif' font-size="11.5" font-weight="bold" font-style="normal" text-anchor="middle" fill="#111" transform="rotate(-90 719 357.8)">RRI<tspan font-weight="normal" font-style="italic" font-size="7.8" dy="1.6">eff</tspan></text>
<g clip-path="url(#c12)"><polygon points="1095.32,338.62 1191.13,355.26 1270.63,339.81 1331.78,343.11 1331.78,396.39 1270.63,387.54 1191.13,389.13 1095.32,393.61" fill="#0000ff" fill-opacity="0.25"/><polygon points="1095.32,275.91 1191.13,278.5 1270.63,291.19 1331.78,284.76 1331.78,333.31 1270.63,334.67 1191.13,331.37 1095.32,349.36" fill="#008000" fill-opacity="0.25"/><polyline points="1095.32,322.52 1191.13,322.52 1270.63,322.52 1331.78,322.52" fill="none" stroke="#2e7d2e" stroke-width="0.85" stroke-linejoin="round"/><polyline points="1095.32,352.31 1191.13,352.31 1270.63,352.31 1331.78,352.31" fill="none" stroke="#7c7cf5" stroke-width="1.2" stroke-linejoin="round"/><polyline points="1095.32,313.31 1191.13,304.94 1270.63,313.14 1331.78,309.24" fill="none" stroke="#0b5c0b" stroke-width="1.55" stroke-linejoin="round" stroke-dasharray="5 2.3"/><polyline points="1095.32,366.59 1191.13,372.49 1270.63,363.7 1331.78,370.13" fill="none" stroke="#0000e6" stroke-width="1.55" stroke-linejoin="round" stroke-dasharray="5 2.3"/></g>
<rect x="1083.5" y="269.3" width="260.1" height="177" fill="none" stroke="#a9a9a9" stroke-width="1.25"/>
<line x1="1081.5" y1="446.3" x2="1083.5" y2="446.3" stroke="#a9a9a9" stroke-width="0.8"/>
<text x="1080.2" y="448.8" font-family='"DejaVu Sans", "Liberation Sans", sans-serif' font-size="7.05" font-weight="bold" font-style="normal" text-anchor="end" fill="#111">1.35</text>
<line x1="1081.5" y1="416.8" x2="1083.5" y2="416.8" stroke="#a9a9a9" stroke-width="0.8"/>
<text x="1080.2" y="419.3" font-family='"DejaVu Sans", "Liberation Sans", sans-serif' font-size="7.05" font-weight="bold" font-style="normal" text-anchor="end" fill="#111">1.40</text>
<line x1="1081.5" y1="387.3" x2="1083.5" y2="387.3" stroke="#a9a9a9" stroke-width="0.8"/>
<text x="1080.2" y="389.8" font-family='"DejaVu Sans", "Liberation Sans", sans-serif' font-size="7.05" font-weight="bold" font-style="normal" text-anchor="end" fill="#111">1.45</text>
<line x1="1081.5" y1="357.8" x2="1083.5" y2="357.8" stroke="#a9a9a9" stroke-width="0.8"/>
<text x="1080.2" y="360.3" font-family='"DejaVu Sans", "Liberation Sans", sans-serif' font-size="7.05" font-weight="bold" font-style="normal" text-anchor="end" fill="#111">1.50</text>
<line x1="1081.5" y1="328.3" x2="1083.5" y2="328.3" stroke="#a9a9a9" stroke-width="0.8"/>
<text x="1080.2" y="330.8" font-family='"DejaVu Sans", "Liberation Sans", sans-serif' font-size="7.05" font-weight="bold" font-style="normal" text-anchor="end" fill="#111">1.55</text>
<line x1="1081.5" y1="298.8" x2="1083.5" y2="298.8" stroke="#a9a9a9" stroke-width="0.8"/>
<text x="1080.2" y="301.3" font-family='"DejaVu Sans", "Liberation Sans", sans-serif' font-size="7.05" font-weight="bold" font-style="normal" text-anchor="end" fill="#111">1.60</text>
<line x1="1081.5" y1="269.3" x2="1083.5" y2="269.3" stroke="#a9a9a9" stroke-width="0.8"/>
<text x="1080.2" y="271.8" font-family='"DejaVu Sans", "Liberation Sans", sans-serif' font-size="7.05" font-weight="bold" font-style="normal" text-anchor="end" fill="#111">1.65</text>
<line x1="1119.78" y1="446.3" x2="1119.78" y2="448.3" stroke="#a9a9a9" stroke-width="0.8"/>
<text x="1119.78" y="454.5" font-family='"DejaVu Sans", "Liberation Sans", sans-serif' font-size="7.05" font-weight="bold" font-style="normal" text-anchor="middle" fill="#111">500</text>
<line x1="1160.55" y1="446.3" x2="1160.55" y2="448.3" stroke="#a9a9a9" stroke-width="0.8"/>
<text x="1160.55" y="454.5" font-family='"DejaVu Sans", "Liberation Sans", sans-serif' font-size="7.05" font-weight="bold" font-style="normal" text-anchor="middle" fill="#111">600</text>
<line x1="1201.32" y1="446.3" x2="1201.32" y2="448.3" stroke="#a9a9a9" stroke-width="0.8"/>
<text x="1201.32" y="454.5" font-family='"DejaVu Sans", "Liberation Sans", sans-serif' font-size="7.05" font-weight="bold" font-style="normal" text-anchor="middle" fill="#111">700</text>
<line x1="1242.09" y1="446.3" x2="1242.09" y2="448.3" stroke="#a9a9a9" stroke-width="0.8"/>
<text x="1242.09" y="454.5" font-family='"DejaVu Sans", "Liberation Sans", sans-serif' font-size="7.05" font-weight="bold" font-style="normal" text-anchor="middle" fill="#111">800</text>
<line x1="1282.86" y1="446.3" x2="1282.86" y2="448.3" stroke="#a9a9a9" stroke-width="0.8"/>
<text x="1282.86" y="454.5" font-family='"DejaVu Sans", "Liberation Sans", sans-serif' font-size="7.05" font-weight="bold" font-style="normal" text-anchor="middle" fill="#111">900</text>
<line x1="1323.62" y1="446.3" x2="1323.62" y2="448.3" stroke="#a9a9a9" stroke-width="0.8"/>
<text x="1323.62" y="454.5" font-family='"DejaVu Sans", "Liberation Sans", sans-serif' font-size="7.05" font-weight="bold" font-style="normal" text-anchor="middle" fill="#111">1000</text>
<text x="1213.85" y="467.4" font-family='"DejaVu Sans", "Liberation Sans", sans-serif' font-size="11.75" font-weight="bold" font-style="normal" text-anchor="middle" fill="#111">Wavelength<tspan font-weight="normal" dx="7.99">[</tspan><tspan font-weight="normal" font-style="italic">nm</tspan><tspan font-weight="normal">]</tspan></text>
<text x="1060.1" y="357.8" font-family='"DejaVu Sans", "Liberation Sans", sans-serif' font-size="11.5" font-weight="bold" font-style="normal" text-anchor="middle" fill="#111" transform="rotate(-90 1060.1 357.8)">RRI</text>
<g clip-path="url(#c13)"><polygon points="760.43,550.82 856.31,562.63 935.87,564.21 997.07,564.62 997.07,606.88 935.87,605.86 856.31,602.94 760.43,589.15" fill="#d9d9d9"/><polyline points="760.43,564.01 856.31,571.47 935.87,572.85 997.07,573.46" fill="none" stroke="#858585" stroke-width="1.4" stroke-linejoin="round"/><polyline points="760.43,570.09 856.31,582.66 935.87,584.85 997.07,585.62" fill="none" stroke="#000" stroke-width="1.75" stroke-linejoin="round" stroke-dasharray="5.15 2.3"/></g>
<rect x="748.6" y="487.1" width="260.3" height="176.9" fill="none" stroke="#a9a9a9" stroke-width="1.25"/>
<line x1="746.6" y1="496.4" x2="748.6" y2="496.4" stroke="#a9a9a9" stroke-width="0.8"/>
<text x="745.3" y="499.3" font-family='"DejaVu Sans", "Liberation Sans", sans-serif' font-size="7.05" font-weight="bold" font-style="normal" text-anchor="end" fill="#111">10<tspan font-size="4.7" dy="-2.9">−1</tspan></text>
<line x1="746.6" y1="547.5" x2="748.6" y2="547.5" stroke="#a9a9a9" stroke-width="0.8"/>
<text x="745.3" y="550.4" font-family='"DejaVu Sans", "Liberation Sans", sans-serif' font-size="7.05" font-weight="bold" font-style="normal" text-anchor="end" fill="#111">10<tspan font-size="4.7" dy="-2.9">−2</tspan></text>
<line x1="746.6" y1="598.6" x2="748.6" y2="598.6" stroke="#a9a9a9" stroke-width="0.8"/>
<text x="745.3" y="601.5" font-family='"DejaVu Sans", "Liberation Sans", sans-serif' font-size="7.05" font-weight="bold" font-style="normal" text-anchor="end" fill="#111">10<tspan font-size="4.7" dy="-2.9">−3</tspan></text>
<line x1="746.6" y1="649.7" x2="748.6" y2="649.7" stroke="#a9a9a9" stroke-width="0.8"/>
<text x="745.3" y="652.6" font-family='"DejaVu Sans", "Liberation Sans", sans-serif' font-size="7.05" font-weight="bold" font-style="normal" text-anchor="end" fill="#111">10<tspan font-size="4.7" dy="-2.9">−4</tspan></text>
<line x1="747.4" y1="661.04" x2="748.6" y2="661.04" stroke="#a9a9a9" stroke-width="0.6"/>
<line x1="747.4" y1="657.62" x2="748.6" y2="657.62" stroke="#a9a9a9" stroke-width="0.6"/>
<line x1="747.4" y1="654.65" x2="748.6" y2="654.65" stroke="#a9a9a9" stroke-width="0.6"/>
<line x1="747.4" y1="652.04" x2="748.6" y2="652.04" stroke="#a9a9a9" stroke-width="0.6"/>
<line x1="747.4" y1="634.32" x2="748.6" y2="634.32" stroke="#a9a9a9" stroke-width="0.6"/>
<line x1="747.4" y1="625.32" x2="748.6" y2="625.32" stroke="#a9a9a9" stroke-width="0.6"/>
<line x1="747.4" y1="618.93" x2="748.6" y2="618.93" stroke="#a9a9a9" stroke-width="0.6"/>
<line x1="747.4" y1="613.98" x2="748.6" y2="613.98" stroke="#a9a9a9" stroke-width="0.6"/>
<line x1="747.4" y1="609.94" x2="748.6" y2="609.94" stroke="#a9a9a9" stroke-width="0.6"/>
<line x1="747.4" y1="606.52" x2="748.6" y2="606.52" stroke="#a9a9a9" stroke-width="0.6"/>
<line x1="747.4" y1="603.55" x2="748.6" y2="603.55" stroke="#a9a9a9" stroke-width="0.6"/>
<line x1="747.4" y1="600.94" x2="748.6" y2="600.94" stroke="#a9a9a9" stroke-width="0.6"/>
<line x1="747.4" y1="583.22" x2="748.6" y2="583.22" stroke="#a9a9a9" stroke-width="0.6"/>
<line x1="747.4" y1="574.22" x2="748.6" y2="574.22" stroke="#a9a9a9" stroke-width="0.6"/>
<line x1="747.4" y1="567.83" x2="748.6" y2="567.83" stroke="#a9a9a9" stroke-width="0.6"/>
<line x1="747.4" y1="562.88" x2="748.6" y2="562.88" stroke="#a9a9a9" stroke-width="0.6"/>
<line x1="747.4" y1="558.84" x2="748.6" y2="558.84" stroke="#a9a9a9" stroke-width="0.6"/>
<line x1="747.4" y1="555.42" x2="748.6" y2="555.42" stroke="#a9a9a9" stroke-width="0.6"/>
<line x1="747.4" y1="552.45" x2="748.6" y2="552.45" stroke="#a9a9a9" stroke-width="0.6"/>
<line x1="747.4" y1="549.84" x2="748.6" y2="549.84" stroke="#a9a9a9" stroke-width="0.6"/>
<line x1="747.4" y1="532.12" x2="748.6" y2="532.12" stroke="#a9a9a9" stroke-width="0.6"/>
<line x1="747.4" y1="523.12" x2="748.6" y2="523.12" stroke="#a9a9a9" stroke-width="0.6"/>
<line x1="747.4" y1="516.73" x2="748.6" y2="516.73" stroke="#a9a9a9" stroke-width="0.6"/>
<line x1="747.4" y1="511.78" x2="748.6" y2="511.78" stroke="#a9a9a9" stroke-width="0.6"/>
<line x1="747.4" y1="507.74" x2="748.6" y2="507.74" stroke="#a9a9a9" stroke-width="0.6"/>
<line x1="747.4" y1="504.32" x2="748.6" y2="504.32" stroke="#a9a9a9" stroke-width="0.6"/>
<line x1="747.4" y1="501.35" x2="748.6" y2="501.35" stroke="#a9a9a9" stroke-width="0.6"/>
<line x1="747.4" y1="498.74" x2="748.6" y2="498.74" stroke="#a9a9a9" stroke-width="0.6"/>
<line x1="784.91" y1="664" x2="784.91" y2="666" stroke="#a9a9a9" stroke-width="0.8"/>
<text x="784.91" y="672.2" font-family='"DejaVu Sans", "Liberation Sans", sans-serif' font-size="7.05" font-weight="bold" font-style="normal" text-anchor="middle" fill="#111">500</text>
<line x1="825.71" y1="664" x2="825.71" y2="666" stroke="#a9a9a9" stroke-width="0.8"/>
<text x="825.71" y="672.2" font-family='"DejaVu Sans", "Liberation Sans", sans-serif' font-size="7.05" font-weight="bold" font-style="normal" text-anchor="middle" fill="#111">600</text>
<line x1="866.51" y1="664" x2="866.51" y2="666" stroke="#a9a9a9" stroke-width="0.8"/>
<text x="866.51" y="672.2" font-family='"DejaVu Sans", "Liberation Sans", sans-serif' font-size="7.05" font-weight="bold" font-style="normal" text-anchor="middle" fill="#111">700</text>
<line x1="907.31" y1="664" x2="907.31" y2="666" stroke="#a9a9a9" stroke-width="0.8"/>
<text x="907.31" y="672.2" font-family='"DejaVu Sans", "Liberation Sans", sans-serif' font-size="7.05" font-weight="bold" font-style="normal" text-anchor="middle" fill="#111">800</text>
<line x1="948.11" y1="664" x2="948.11" y2="666" stroke="#a9a9a9" stroke-width="0.8"/>
<text x="948.11" y="672.2" font-family='"DejaVu Sans", "Liberation Sans", sans-serif' font-size="7.05" font-weight="bold" font-style="normal" text-anchor="middle" fill="#111">900</text>
<line x1="988.91" y1="664" x2="988.91" y2="666" stroke="#a9a9a9" stroke-width="0.8"/>
<text x="988.91" y="672.2" font-family='"DejaVu Sans", "Liberation Sans", sans-serif' font-size="7.05" font-weight="bold" font-style="normal" text-anchor="middle" fill="#111">1000</text>
<text x="879.05" y="683.9" font-family='"DejaVu Sans", "Liberation Sans", sans-serif' font-size="9.4" font-weight="bold" font-style="normal" text-anchor="middle" fill="#111">Wavelength<tspan font-weight="normal" dx="6.39">[</tspan><tspan font-weight="normal" font-style="italic">nm</tspan><tspan font-weight="normal">]</tspan></text>
<text x="723.7" y="575.55" font-family='"DejaVu Sans", "Liberation Sans", sans-serif' font-size="9.2" font-weight="bold" font-style="normal" text-anchor="middle" fill="#111" transform="rotate(-90 723.7 575.55)">IRI<tspan font-weight="normal" font-style="italic" font-size="6.4" dy="1.3">eff</tspan></text>
<g clip-path="url(#c14)"><polygon points="1095.32,530.53 1191.13,530.53 1270.63,530.53 1331.78,530.53 1331.78,580.31 1270.63,579.95 1191.13,579.34 1095.32,578.67" fill="#0000ff" fill-opacity="0.25"/><polygon points="1095.32,550.82 1191.13,565.59 1270.63,567.17 1331.78,567.53 1331.78,620.01 1270.63,618.27 1191.13,613.73 1095.32,594.46" fill="#008000" fill-opacity="0.25"/><polyline points="1095.32,574.43 1191.13,592.47 1270.63,598.6 1331.78,598.6" fill="none" stroke="#2e7d2e" stroke-width="0.85" stroke-linejoin="round"/><polyline points="1095.32,530.79 1191.13,530.79 1270.63,530.79 1331.78,530.79" fill="none" stroke="#4848e0" stroke-width="0.85" stroke-linejoin="round"/><polyline points="1095.32,572.03 1191.13,589.15 1270.63,592.72 1331.78,593.69" fill="none" stroke="#0b5c0b" stroke-width="1.55" stroke-linejoin="round" stroke-dasharray="5 2.3"/><polyline points="1095.32,555.75 1191.13,556.08 1270.63,556.34 1331.78,556.54" fill="none" stroke="#0000e6" stroke-width="1.55" stroke-linejoin="round" stroke-dasharray="5 2.3"/></g>
<rect x="1083.5" y="487.1" width="260.1" height="176.9" fill="none" stroke="#a9a9a9" stroke-width="1.25"/>
<line x1="1081.5" y1="496.4" x2="1083.5" y2="496.4" stroke="#a9a9a9" stroke-width="0.8"/>
<text x="1080.2" y="499.3" font-family='"DejaVu Sans", "Liberation Sans", sans-serif' font-size="7.05" font-weight="bold" font-style="normal" text-anchor="end" fill="#111">10<tspan font-size="4.7" dy="-2.9">−1</tspan></text>
<line x1="1081.5" y1="547.5" x2="1083.5" y2="547.5" stroke="#a9a9a9" stroke-width="0.8"/>
<text x="1080.2" y="550.4" font-family='"DejaVu Sans", "Liberation Sans", sans-serif' font-size="7.05" font-weight="bold" font-style="normal" text-anchor="end" fill="#111">10<tspan font-size="4.7" dy="-2.9">−2</tspan></text>
<line x1="1081.5" y1="598.6" x2="1083.5" y2="598.6" stroke="#a9a9a9" stroke-width="0.8"/>
<text x="1080.2" y="601.5" font-family='"DejaVu Sans", "Liberation Sans", sans-serif' font-size="7.05" font-weight="bold" font-style="normal" text-anchor="end" fill="#111">10<tspan font-size="4.7" dy="-2.9">−3</tspan></text>
<line x1="1081.5" y1="649.7" x2="1083.5" y2="649.7" stroke="#a9a9a9" stroke-width="0.8"/>
<text x="1080.2" y="652.6" font-family='"DejaVu Sans", "Liberation Sans", sans-serif' font-size="7.05" font-weight="bold" font-style="normal" text-anchor="end" fill="#111">10<tspan font-size="4.7" dy="-2.9">−4</tspan></text>
<line x1="1082.3" y1="661.04" x2="1083.5" y2="661.04" stroke="#a9a9a9" stroke-width="0.6"/>
<line x1="1082.3" y1="657.62" x2="1083.5" y2="657.62" stroke="#a9a9a9" stroke-width="0.6"/>
<line x1="1082.3" y1="654.65" x2="1083.5" y2="654.65" stroke="#a9a9a9" stroke-width="0.6"/>
<line x1="1082.3" y1="652.04" x2="1083.5" y2="652.04" stroke="#a9a9a9" stroke-width="0.6"/>
<line x1="1082.3" y1="634.32" x2="1083.5" y2="634.32" stroke="#a9a9a9" stroke-width="0.6"/>
<line x1="1082.3" y1="625.32" x2="1083.5" y2="625.32" stroke="#a9a9a9" stroke-width="0.6"/>
<line x1="1082.3" y1="618.93" x2="1083.5" y2="618.93" stroke="#a9a9a9" stroke-width="0.6"/>
<line x1="1082.3" y1="613.98" x2="1083.5" y2="613.98" stroke="#a9a9a9" stroke-width="0.6"/>
<line x1="1082.3" y1="609.94" x2="1083.5" y2="609.94" stroke="#a9a9a9" stroke-width="0.6"/>
<line x1="1082.3" y1="606.52" x2="1083.5" y2="606.52" stroke="#a9a9a9" stroke-width="0.6"/>
<line x1="1082.3" y1="603.55" x2="1083.5" y2="603.55" stroke="#a9a9a9" stroke-width="0.6"/>
<line x1="1082.3" y1="600.94" x2="1083.5" y2="600.94" stroke="#a9a9a9" stroke-width="0.6"/>
<line x1="1082.3" y1="583.22" x2="1083.5" y2="583.22" stroke="#a9a9a9" stroke-width="0.6"/>
<line x1="1082.3" y1="574.22" x2="1083.5" y2="574.22" stroke="#a9a9a9" stroke-width="0.6"/>
<line x1="1082.3" y1="567.83" x2="1083.5" y2="567.83" stroke="#a9a9a9" stroke-width="0.6"/>
<line x1="1082.3" y1="562.88" x2="1083.5" y2="562.88" stroke="#a9a9a9" stroke-width="0.6"/>
<line x1="1082.3" y1="558.84" x2="1083.5" y2="558.84" stroke="#a9a9a9" stroke-width="0.6"/>
<line x1="1082.3" y1="555.42" x2="1083.5" y2="555.42" stroke="#a9a9a9" stroke-width="0.6"/>
<line x1="1082.3" y1="552.45" x2="1083.5" y2="552.45" stroke="#a9a9a9" stroke-width="0.6"/>
<line x1="1082.3" y1="549.84" x2="1083.5" y2="549.84" stroke="#a9a9a9" stroke-width="0.6"/>
<line x1="1082.3" y1="532.12" x2="1083.5" y2="532.12" stroke="#a9a9a9" stroke-width="0.6"/>
<line x1="1082.3" y1="523.12" x2="1083.5" y2="523.12" stroke="#a9a9a9" stroke-width="0.6"/>
<line x1="1082.3" y1="516.73" x2="1083.5" y2="516.73" stroke="#a9a9a9" stroke-width="0.6"/>
<line x1="1082.3" y1="511.78" x2="1083.5" y2="511.78" stroke="#a9a9a9" stroke-width="0.6"/>
<line x1="1082.3" y1="507.74" x2="1083.5" y2="507.74" stroke="#a9a9a9" stroke-width="0.6"/>
<line x1="1082.3" y1="504.32" x2="1083.5" y2="504.32" stroke="#a9a9a9" stroke-width="0.6"/>
<line x1="1082.3" y1="501.35" x2="1083.5" y2="501.35" stroke="#a9a9a9" stroke-width="0.6"/>
<line x1="1082.3" y1="498.74" x2="1083.5" y2="498.74" stroke="#a9a9a9" stroke-width="0.6"/>
<line x1="1119.78" y1="664" x2="1119.78" y2="666" stroke="#a9a9a9" stroke-width="0.8"/>
<text x="1119.78" y="672.2" font-family='"DejaVu Sans", "Liberation Sans", sans-serif' font-size="7.05" font-weight="bold" font-style="normal" text-anchor="middle" fill="#111">500</text>
<line x1="1160.55" y1="664" x2="1160.55" y2="666" stroke="#a9a9a9" stroke-width="0.8"/>
<text x="1160.55" y="672.2" font-family='"DejaVu Sans", "Liberation Sans", sans-serif' font-size="7.05" font-weight="bold" font-style="normal" text-anchor="middle" fill="#111">600</text>
<line x1="1201.32" y1="664" x2="1201.32" y2="666" stroke="#a9a9a9" stroke-width="0.8"/>
<text x="1201.32" y="672.2" font-family='"DejaVu Sans", "Liberation Sans", sans-serif' font-size="7.05" font-weight="bold" font-style="normal" text-anchor="middle" fill="#111">700</text>
<line x1="1242.09" y1="664" x2="1242.09" y2="666" stroke="#a9a9a9" stroke-width="0.8"/>
<text x="1242.09" y="672.2" font-family='"DejaVu Sans", "Liberation Sans", sans-serif' font-size="7.05" font-weight="bold" font-style="normal" text-anchor="middle" fill="#111">800</text>
<line x1="1282.86" y1="664" x2="1282.86" y2="666" stroke="#a9a9a9" stroke-width="0.8"/>
<text x="1282.86" y="672.2" font-family='"DejaVu Sans", "Liberation Sans", sans-serif' font-size="7.05" font-weight="bold" font-style="normal" text-anchor="middle" fill="#111">900</text>
<line x1="1323.62" y1="664" x2="1323.62" y2="666" stroke="#a9a9a9" stroke-width="0.8"/>
<text x="1323.62" y="672.2" font-family='"DejaVu Sans", "Liberation Sans", sans-serif' font-size="7.05" font-weight="bold" font-style="normal" text-anchor="middle" fill="#111">1000</text>
<text x="1213.85" y="685.1" font-family='"DejaVu Sans", "Liberation Sans", sans-serif' font-size="11.75" font-weight="bold" font-style="normal" text-anchor="middle" fill="#111">Wavelength<tspan font-weight="normal" dx="7.99">[</tspan><tspan font-weight="normal" font-style="italic">nm</tspan><tspan font-weight="normal">]</tspan></text>
<text x="1060.1" y="575.55" font-family='"DejaVu Sans", "Liberation Sans", sans-serif' font-size="11.5" font-weight="bold" font-style="normal" text-anchor="middle" fill="#111" transform="rotate(-90 1060.1 575.55)">IRI</text>
<g clip-path="url(#c15)"><polygon points="760.43,718.02 856.31,702.37 935.87,698.62 997.07,697.11 997.07,744.29 935.87,747.23 856.31,753.3 760.43,772.85" fill="#d9d9d9"/><polyline points="760.43,759.53 856.31,738.01 935.87,729.2 997.07,726.27" fill="none" stroke="#5a5a5a" stroke-width="0.95" stroke-linejoin="round"/><polyline points="760.43,746.42 856.31,728.6 935.87,723.33 997.07,720.95" fill="none" stroke="#000" stroke-width="1.75" stroke-linejoin="round" stroke-dasharray="5.15 2.3"/></g>
<rect x="748.6" y="704.7" width="260.3" height="177.2" fill="none" stroke="#a9a9a9" stroke-width="1.25"/>
<line x1="746.6" y1="881.9" x2="748.6" y2="881.9" stroke="#a9a9a9" stroke-width="0.8"/>
<text x="745.3" y="884.4" font-family='"DejaVu Sans", "Liberation Sans", sans-serif' font-size="7.05" font-weight="bold" font-style="normal" text-anchor="end" fill="#111">0.65</text>
<line x1="746.6" y1="856.59" x2="748.6" y2="856.59" stroke="#a9a9a9" stroke-width="0.8"/>
<text x="745.3" y="859.09" font-family='"DejaVu Sans", "Liberation Sans", sans-serif' font-size="7.05" font-weight="bold" font-style="normal" text-anchor="end" fill="#111">0.70</text>
<line x1="746.6" y1="831.27" x2="748.6" y2="831.27" stroke="#a9a9a9" stroke-width="0.8"/>
<text x="745.3" y="833.77" font-family='"DejaVu Sans", "Liberation Sans", sans-serif' font-size="7.05" font-weight="bold" font-style="normal" text-anchor="end" fill="#111">0.75</text>
<line x1="746.6" y1="805.96" x2="748.6" y2="805.96" stroke="#a9a9a9" stroke-width="0.8"/>
<text x="745.3" y="808.46" font-family='"DejaVu Sans", "Liberation Sans", sans-serif' font-size="7.05" font-weight="bold" font-style="normal" text-anchor="end" fill="#111">0.80</text>
<line x1="746.6" y1="780.64" x2="748.6" y2="780.64" stroke="#a9a9a9" stroke-width="0.8"/>
<text x="745.3" y="783.14" font-family='"DejaVu Sans", "Liberation Sans", sans-serif' font-size="7.05" font-weight="bold" font-style="normal" text-anchor="end" fill="#111">0.85</text>
<line x1="746.6" y1="755.33" x2="748.6" y2="755.33" stroke="#a9a9a9" stroke-width="0.8"/>
<text x="745.3" y="757.83" font-family='"DejaVu Sans", "Liberation Sans", sans-serif' font-size="7.05" font-weight="bold" font-style="normal" text-anchor="end" fill="#111">0.90</text>
<line x1="746.6" y1="730.01" x2="748.6" y2="730.01" stroke="#a9a9a9" stroke-width="0.8"/>
<text x="745.3" y="732.51" font-family='"DejaVu Sans", "Liberation Sans", sans-serif' font-size="7.05" font-weight="bold" font-style="normal" text-anchor="end" fill="#111">0.95</text>
<line x1="746.6" y1="704.7" x2="748.6" y2="704.7" stroke="#a9a9a9" stroke-width="0.8"/>
<text x="745.3" y="707.2" font-family='"DejaVu Sans", "Liberation Sans", sans-serif' font-size="7.05" font-weight="bold" font-style="normal" text-anchor="end" fill="#111">1.00</text>
<line x1="784.91" y1="881.9" x2="784.91" y2="883.9" stroke="#a9a9a9" stroke-width="0.8"/>
<text x="784.91" y="890.1" font-family='"DejaVu Sans", "Liberation Sans", sans-serif' font-size="7.05" font-weight="bold" font-style="normal" text-anchor="middle" fill="#111">500</text>
<line x1="825.71" y1="881.9" x2="825.71" y2="883.9" stroke="#a9a9a9" stroke-width="0.8"/>
<text x="825.71" y="890.1" font-family='"DejaVu Sans", "Liberation Sans", sans-serif' font-size="7.05" font-weight="bold" font-style="normal" text-anchor="middle" fill="#111">600</text>
<line x1="866.51" y1="881.9" x2="866.51" y2="883.9" stroke="#a9a9a9" stroke-width="0.8"/>
<text x="866.51" y="890.1" font-family='"DejaVu Sans", "Liberation Sans", sans-serif' font-size="7.05" font-weight="bold" font-style="normal" text-anchor="middle" fill="#111">700</text>
<line x1="907.31" y1="881.9" x2="907.31" y2="883.9" stroke="#a9a9a9" stroke-width="0.8"/>
<text x="907.31" y="890.1" font-family='"DejaVu Sans", "Liberation Sans", sans-serif' font-size="7.05" font-weight="bold" font-style="normal" text-anchor="middle" fill="#111">800</text>
<line x1="948.11" y1="881.9" x2="948.11" y2="883.9" stroke="#a9a9a9" stroke-width="0.8"/>
<text x="948.11" y="890.1" font-family='"DejaVu Sans", "Liberation Sans", sans-serif' font-size="7.05" font-weight="bold" font-style="normal" text-anchor="middle" fill="#111">900</text>
<line x1="988.91" y1="881.9" x2="988.91" y2="883.9" stroke="#a9a9a9" stroke-width="0.8"/>
<text x="988.91" y="890.1" font-family='"DejaVu Sans", "Liberation Sans", sans-serif' font-size="7.05" font-weight="bold" font-style="normal" text-anchor="middle" fill="#111">1000</text>
<text x="879.05" y="903" font-family='"DejaVu Sans", "Liberation Sans", sans-serif' font-size="11.75" font-weight="bold" font-style="normal" text-anchor="middle" fill="#111">Wavelength<tspan font-weight="normal" dx="7.99">[</tspan><tspan font-weight="normal" font-style="italic">nm</tspan><tspan font-weight="normal">]</tspan></text>
<text x="725.2" y="793.3" font-family='"DejaVu Sans", "Liberation Sans", sans-serif' font-size="11.5" font-weight="bold" font-style="normal" text-anchor="middle" fill="#111" transform="rotate(-90 725.2 793.3)">SSA</text>
<g clip-path="url(#c16)"><polygon points="1095.32,699.64 1191.13,694.57 1270.63,694.57 1331.78,694.57 1331.78,783.63 1270.63,767.38 1191.13,756.59 1095.32,743.48" fill="#0000ff" fill-opacity="0.25"/><polygon points="1095.32,699.64 1191.13,694.57 1270.63,694.57 1331.78,694.57 1331.78,747.38 1270.63,752.7 1191.13,764.44 1095.32,824.74" fill="#008000" fill-opacity="0.25"/><polyline points="1095.32,761.51 1191.13,724.95 1270.63,717.05 1331.78,715.08" fill="none" stroke="#2e7d2e" stroke-width="0.85" stroke-linejoin="round"/><polyline points="1095.32,757.2 1191.13,771.88 1270.63,790.46 1331.78,808.49" fill="none" stroke="#6a6aee" stroke-width="0.85" stroke-linejoin="round"/><polyline points="1095.32,767.99 1191.13,729.76 1270.63,720.95 1331.78,718.42" fill="none" stroke="#0b5c0b" stroke-width="1.55" stroke-linejoin="round" stroke-dasharray="5 2.3"/><polyline points="1095.32,724.29 1191.13,729.2 1270.63,735.43 1331.78,743.28" fill="none" stroke="#0000e6" stroke-width="1.55" stroke-linejoin="round" stroke-dasharray="5 2.3"/></g>
<rect x="1083.5" y="704.7" width="260.1" height="177.2" fill="none" stroke="#a9a9a9" stroke-width="1.25"/>
<line x1="1081.5" y1="881.9" x2="1083.5" y2="881.9" stroke="#a9a9a9" stroke-width="0.8"/>
<text x="1080.2" y="884.4" font-family='"DejaVu Sans", "Liberation Sans", sans-serif' font-size="7.05" font-weight="bold" font-style="normal" text-anchor="end" fill="#111">0.65</text>
<line x1="1081.5" y1="856.59" x2="1083.5" y2="856.59" stroke="#a9a9a9" stroke-width="0.8"/>
<text x="1080.2" y="859.09" font-family='"DejaVu Sans", "Liberation Sans", sans-serif' font-size="7.05" font-weight="bold" font-style="normal" text-anchor="end" fill="#111">0.70</text>
<line x1="1081.5" y1="831.27" x2="1083.5" y2="831.27" stroke="#a9a9a9" stroke-width="0.8"/>
<text x="1080.2" y="833.77" font-family='"DejaVu Sans", "Liberation Sans", sans-serif' font-size="7.05" font-weight="bold" font-style="normal" text-anchor="end" fill="#111">0.75</text>
<line x1="1081.5" y1="805.96" x2="1083.5" y2="805.96" stroke="#a9a9a9" stroke-width="0.8"/>
<text x="1080.2" y="808.46" font-family='"DejaVu Sans", "Liberation Sans", sans-serif' font-size="7.05" font-weight="bold" font-style="normal" text-anchor="end" fill="#111">0.80</text>
<line x1="1081.5" y1="780.64" x2="1083.5" y2="780.64" stroke="#a9a9a9" stroke-width="0.8"/>
<text x="1080.2" y="783.14" font-family='"DejaVu Sans", "Liberation Sans", sans-serif' font-size="7.05" font-weight="bold" font-style="normal" text-anchor="end" fill="#111">0.85</text>
<line x1="1081.5" y1="755.33" x2="1083.5" y2="755.33" stroke="#a9a9a9" stroke-width="0.8"/>
<text x="1080.2" y="757.83" font-family='"DejaVu Sans", "Liberation Sans", sans-serif' font-size="7.05" font-weight="bold" font-style="normal" text-anchor="end" fill="#111">0.90</text>
<line x1="1081.5" y1="730.01" x2="1083.5" y2="730.01" stroke="#a9a9a9" stroke-width="0.8"/>
<text x="1080.2" y="732.51" font-family='"DejaVu Sans", "Liberation Sans", sans-serif' font-size="7.05" font-weight="bold" font-style="normal" text-anchor="end" fill="#111">0.95</text>
<line x1="1081.5" y1="704.7" x2="1083.5" y2="704.7" stroke="#a9a9a9" stroke-width="0.8"/>
<text x="1080.2" y="707.2" font-family='"DejaVu Sans", "Liberation Sans", sans-serif' font-size="7.05" font-weight="bold" font-style="normal" text-anchor="end" fill="#111">1.00</text>
<line x1="1119.78" y1="881.9" x2="1119.78" y2="883.9" stroke="#a9a9a9" stroke-width="0.8"/>
<text x="1119.78" y="890.1" font-family='"DejaVu Sans", "Liberation Sans", sans-serif' font-size="7.05" font-weight="bold" font-style="normal" text-anchor="middle" fill="#111">500</text>
<line x1="1160.55" y1="881.9" x2="1160.55" y2="883.9" stroke="#a9a9a9" stroke-width="0.8"/>
<text x="1160.55" y="890.1" font-family='"DejaVu Sans", "Liberation Sans", sans-serif' font-size="7.05" font-weight="bold" font-style="normal" text-anchor="middle" fill="#111">600</text>
<line x1="1201.32" y1="881.9" x2="1201.32" y2="883.9" stroke="#a9a9a9" stroke-width="0.8"/>
<text x="1201.32" y="890.1" font-family='"DejaVu Sans", "Liberation Sans", sans-serif' font-size="7.05" font-weight="bold" font-style="normal" text-anchor="middle" fill="#111">700</text>
<line x1="1242.09" y1="881.9" x2="1242.09" y2="883.9" stroke="#a9a9a9" stroke-width="0.8"/>
<text x="1242.09" y="890.1" font-family='"DejaVu Sans", "Liberation Sans", sans-serif' font-size="7.05" font-weight="bold" font-style="normal" text-anchor="middle" fill="#111">800</text>
<line x1="1282.86" y1="881.9" x2="1282.86" y2="883.9" stroke="#a9a9a9" stroke-width="0.8"/>
<text x="1282.86" y="890.1" font-family='"DejaVu Sans", "Liberation Sans", sans-serif' font-size="7.05" font-weight="bold" font-style="normal" text-anchor="middle" fill="#111">900</text>
<line x1="1323.62" y1="881.9" x2="1323.62" y2="883.9" stroke="#a9a9a9" stroke-width="0.8"/>
<text x="1323.62" y="890.1" font-family='"DejaVu Sans", "Liberation Sans", sans-serif' font-size="7.05" font-weight="bold" font-style="normal" text-anchor="middle" fill="#111">1000</text>
<text x="1213.85" y="903" font-family='"DejaVu Sans", "Liberation Sans", sans-serif' font-size="11.75" font-weight="bold" font-style="normal" text-anchor="middle" fill="#111">Wavelength<tspan font-weight="normal" dx="7.99">[</tspan><tspan font-weight="normal" font-style="italic">nm</tspan><tspan font-weight="normal">]</tspan></text>
<text x="1060.1" y="793.3" font-family='"DejaVu Sans", "Liberation Sans", sans-serif' font-size="11.5" font-weight="bold" font-style="normal" text-anchor="middle" fill="#111" transform="rotate(-90 1060.1 793.3)">SSA</text>
<g clip-path="url(#c17)"><polygon points="760.43,931.28 856.31,1031.35 935.87,1048.02 997.07,1050.97 997.07,1091.19 935.87,1083.34 856.31,1077.78 760.43,1021.05" fill="#d9d9d9"/><polyline points="760.43,968.24 856.31,1045.08 935.87,1059.14 997.07,1062.08" fill="none" stroke="#4a4a4a" stroke-width="1.1" stroke-linejoin="round"/><polyline points="760.43,981.97 856.31,1057.18 935.87,1067.64 997.07,1073.53" fill="none" stroke="#000" stroke-width="1.75" stroke-linejoin="round" stroke-dasharray="5.15 2.3"/></g>
<rect x="748.6" y="922.7" width="260.3" height="176.7" fill="none" stroke="#a9a9a9" stroke-width="1.25"/>
<line x1="746.6" y1="1097.4" x2="748.6" y2="1097.4" stroke="#a9a9a9" stroke-width="0.8"/>
<text x="745.3" y="1099.9" font-family='"DejaVu Sans", "Liberation Sans", sans-serif' font-size="7.05" font-weight="bold" font-style="normal" text-anchor="end" fill="#111">20</text>
<line x1="746.6" y1="1064.7" x2="748.6" y2="1064.7" stroke="#a9a9a9" stroke-width="0.8"/>
<text x="745.3" y="1067.2" font-family='"DejaVu Sans", "Liberation Sans", sans-serif' font-size="7.05" font-weight="bold" font-style="normal" text-anchor="end" fill="#111">30</text>
<line x1="746.6" y1="1032" x2="748.6" y2="1032" stroke="#a9a9a9" stroke-width="0.8"/>
<text x="745.3" y="1034.5" font-family='"DejaVu Sans", "Liberation Sans", sans-serif' font-size="7.05" font-weight="bold" font-style="normal" text-anchor="end" fill="#111">40</text>
<line x1="746.6" y1="999.3" x2="748.6" y2="999.3" stroke="#a9a9a9" stroke-width="0.8"/>
<text x="745.3" y="1001.8" font-family='"DejaVu Sans", "Liberation Sans", sans-serif' font-size="7.05" font-weight="bold" font-style="normal" text-anchor="end" fill="#111">50</text>
<line x1="746.6" y1="966.6" x2="748.6" y2="966.6" stroke="#a9a9a9" stroke-width="0.8"/>
<text x="745.3" y="969.1" font-family='"DejaVu Sans", "Liberation Sans", sans-serif' font-size="7.05" font-weight="bold" font-style="normal" text-anchor="end" fill="#111">60</text>
<line x1="746.6" y1="933.9" x2="748.6" y2="933.9" stroke="#a9a9a9" stroke-width="0.8"/>
<text x="745.3" y="936.4" font-family='"DejaVu Sans", "Liberation Sans", sans-serif' font-size="7.05" font-weight="bold" font-style="normal" text-anchor="end" fill="#111">70</text>
<line x1="784.91" y1="1099.4" x2="784.91" y2="1101.4" stroke="#a9a9a9" stroke-width="0.8"/>
<text x="784.91" y="1107.6" font-family='"DejaVu Sans", "Liberation Sans", sans-serif' font-size="7.05" font-weight="bold" font-style="normal" text-anchor="middle" fill="#111">500</text>
<line x1="825.71" y1="1099.4" x2="825.71" y2="1101.4" stroke="#a9a9a9" stroke-width="0.8"/>
<text x="825.71" y="1107.6" font-family='"DejaVu Sans", "Liberation Sans", sans-serif' font-size="7.05" font-weight="bold" font-style="normal" text-anchor="middle" fill="#111">600</text>
<line x1="866.51" y1="1099.4" x2="866.51" y2="1101.4" stroke="#a9a9a9" stroke-width="0.8"/>
<text x="866.51" y="1107.6" font-family='"DejaVu Sans", "Liberation Sans", sans-serif' font-size="7.05" font-weight="bold" font-style="normal" text-anchor="middle" fill="#111">700</text>
<line x1="907.31" y1="1099.4" x2="907.31" y2="1101.4" stroke="#a9a9a9" stroke-width="0.8"/>
<text x="907.31" y="1107.6" font-family='"DejaVu Sans", "Liberation Sans", sans-serif' font-size="7.05" font-weight="bold" font-style="normal" text-anchor="middle" fill="#111">800</text>
<line x1="948.11" y1="1099.4" x2="948.11" y2="1101.4" stroke="#a9a9a9" stroke-width="0.8"/>
<text x="948.11" y="1107.6" font-family='"DejaVu Sans", "Liberation Sans", sans-serif' font-size="7.05" font-weight="bold" font-style="normal" text-anchor="middle" fill="#111">900</text>
<line x1="988.91" y1="1099.4" x2="988.91" y2="1101.4" stroke="#a9a9a9" stroke-width="0.8"/>
<text x="988.91" y="1107.6" font-family='"DejaVu Sans", "Liberation Sans", sans-serif' font-size="7.05" font-weight="bold" font-style="normal" text-anchor="middle" fill="#111">1000</text>
<text x="879.05" y="1120.5" font-family='"DejaVu Sans", "Liberation Sans", sans-serif' font-size="11.75" font-weight="bold" font-style="normal" text-anchor="middle" fill="#111">Wavelength<tspan font-weight="normal" dx="7.99">[</tspan><tspan font-weight="normal" font-style="italic">nm</tspan><tspan font-weight="normal">]</tspan></text>
<text x="731.6" y="1011.05" font-family='"DejaVu Sans", "Liberation Sans", sans-serif' font-size="11.5" font-weight="bold" font-style="normal" text-anchor="middle" fill="#111" transform="rotate(-90 731.6 1011.05)">Total LR</text>
<g clip-path="url(#c18)"><polygon points="1095.32,931.53 1191.13,1000.41 1270.63,1044.45 1331.78,1061.67 1331.78,1083.69 1270.63,1070.61 1191.13,1047.07 1095.32,1019.16" fill="#0000ff" fill-opacity="0.25"/><polygon points="1095.32,988.42 1191.13,1055.35 1270.63,1060.8 1331.78,1060.36 1331.78,1091.76 1270.63,1088.27 1191.13,1090.23 1095.32,1072.14" fill="#008000" fill-opacity="0.25"/><polyline points="1095.32,1037.91 1191.13,1068.21 1270.63,1070.61 1331.78,1069.52" fill="none" stroke="#2e7d2e" stroke-width="0.85" stroke-linejoin="round"/><polyline points="1095.32,951.15 1191.13,1017.2 1270.63,1054.26 1331.78,1069.52" fill="none" stroke="#4848e0" stroke-width="0.85" stroke-linejoin="round"/><polyline points="1095.32,1038.56 1191.13,1075.41 1270.63,1076.5 1331.78,1077.8" fill="none" stroke="#0b5c0b" stroke-width="1.55" stroke-linejoin="round" stroke-dasharray="5 2.3"/><polyline points="1095.32,981.01 1191.13,1025.05 1270.63,1058.18 1331.78,1074.1" fill="none" stroke="#0000e6" stroke-width="1.55" stroke-linejoin="round" stroke-dasharray="5 2.3"/></g>
<rect x="1083.5" y="922.7" width="260.1" height="176.7" fill="none" stroke="#a9a9a9" stroke-width="1.25"/>
<line x1="1081.5" y1="1093.5" x2="1083.5" y2="1093.5" stroke="#a9a9a9" stroke-width="0.8"/>
<text x="1080.2" y="1096" font-family='"DejaVu Sans", "Liberation Sans", sans-serif' font-size="7.05" font-weight="bold" font-style="normal" text-anchor="end" fill="#111">20</text>
<line x1="1081.5" y1="1071.7" x2="1083.5" y2="1071.7" stroke="#a9a9a9" stroke-width="0.8"/>
<text x="1080.2" y="1074.2" font-family='"DejaVu Sans", "Liberation Sans", sans-serif' font-size="7.05" font-weight="bold" font-style="normal" text-anchor="end" fill="#111">30</text>
<line x1="1081.5" y1="1049.9" x2="1083.5" y2="1049.9" stroke="#a9a9a9" stroke-width="0.8"/>
<text x="1080.2" y="1052.4" font-family='"DejaVu Sans", "Liberation Sans", sans-serif' font-size="7.05" font-weight="bold" font-style="normal" text-anchor="end" fill="#111">40</text>
<line x1="1081.5" y1="1028.1" x2="1083.5" y2="1028.1" stroke="#a9a9a9" stroke-width="0.8"/>
<text x="1080.2" y="1030.6" font-family='"DejaVu Sans", "Liberation Sans", sans-serif' font-size="7.05" font-weight="bold" font-style="normal" text-anchor="end" fill="#111">50</text>
<line x1="1081.5" y1="1006.3" x2="1083.5" y2="1006.3" stroke="#a9a9a9" stroke-width="0.8"/>
<text x="1080.2" y="1008.8" font-family='"DejaVu Sans", "Liberation Sans", sans-serif' font-size="7.05" font-weight="bold" font-style="normal" text-anchor="end" fill="#111">60</text>
<line x1="1081.5" y1="984.5" x2="1083.5" y2="984.5" stroke="#a9a9a9" stroke-width="0.8"/>
<text x="1080.2" y="987" font-family='"DejaVu Sans", "Liberation Sans", sans-serif' font-size="7.05" font-weight="bold" font-style="normal" text-anchor="end" fill="#111">70</text>
<line x1="1081.5" y1="962.7" x2="1083.5" y2="962.7" stroke="#a9a9a9" stroke-width="0.8"/>
<text x="1080.2" y="965.2" font-family='"DejaVu Sans", "Liberation Sans", sans-serif' font-size="7.05" font-weight="bold" font-style="normal" text-anchor="end" fill="#111">80</text>
<line x1="1081.5" y1="940.9" x2="1083.5" y2="940.9" stroke="#a9a9a9" stroke-width="0.8"/>
<text x="1080.2" y="943.4" font-family='"DejaVu Sans", "Liberation Sans", sans-serif' font-size="7.05" font-weight="bold" font-style="normal" text-anchor="end" fill="#111">90</text>
<line x1="1119.78" y1="1099.4" x2="1119.78" y2="1101.4" stroke="#a9a9a9" stroke-width="0.8"/>
<text x="1119.78" y="1107.6" font-family='"DejaVu Sans", "Liberation Sans", sans-serif' font-size="7.05" font-weight="bold" font-style="normal" text-anchor="middle" fill="#111">500</text>
<line x1="1160.55" y1="1099.4" x2="1160.55" y2="1101.4" stroke="#a9a9a9" stroke-width="0.8"/>
<text x="1160.55" y="1107.6" font-family='"DejaVu Sans", "Liberation Sans", sans-serif' font-size="7.05" font-weight="bold" font-style="normal" text-anchor="middle" fill="#111">600</text>
<line x1="1201.32" y1="1099.4" x2="1201.32" y2="1101.4" stroke="#a9a9a9" stroke-width="0.8"/>
<text x="1201.32" y="1107.6" font-family='"DejaVu Sans", "Liberation Sans", sans-serif' font-size="7.05" font-weight="bold" font-style="normal" text-anchor="middle" fill="#111">700</text>
<line x1="1242.09" y1="1099.4" x2="1242.09" y2="1101.4" stroke="#a9a9a9" stroke-width="0.8"/>
<text x="1242.09" y="1107.6" font-family='"DejaVu Sans", "Liberation Sans", sans-serif' font-size="7.05" font-weight="bold" font-style="normal" text-anchor="middle" fill="#111">800</text>
<line x1="1282.86" y1="1099.4" x2="1282.86" y2="1101.4" stroke="#a9a9a9" stroke-width="0.8"/>
<text x="1282.86" y="1107.6" font-family='"DejaVu Sans", "Liberation Sans", sans-serif' font-size="7.05" font-weight="bold" font-style="normal" text-anchor="middle" fill="#111">900</text>
<line x1="1323.62" y1="1099.4" x2="1323.62" y2="1101.4" stroke="#a9a9a9" stroke-width="0.8"/>
<text x="1323.62" y="1107.6" font-family='"DejaVu Sans", "Liberation Sans", sans-serif' font-size="7.05" font-weight="bold" font-style="normal" text-anchor="middle" fill="#111">1000</text>
<text x="1213.85" y="1120.5" font-family='"DejaVu Sans", "Liberation Sans", sans-serif' font-size="11.75" font-weight="bold" font-style="normal" text-anchor="middle" fill="#111">Wavelength<tspan font-weight="normal" dx="7.99">[</tspan><tspan font-weight="normal" font-style="italic">nm</tspan><tspan font-weight="normal">]</tspan></text>
<text x="1067.8" y="1011.05" font-family='"DejaVu Sans", "Liberation Sans", sans-serif' font-size="11.5" font-weight="bold" font-style="normal" text-anchor="middle" fill="#111" transform="rotate(-90 1067.8 1011.05)">LR</text>
</g>
<rect x="1391.7" y="6.6" width="671.8" height="1136.6" fill="none" stroke="#000" stroke-width="2.6"/>
<text x="1653.1" y="32.4" font-family='"DejaVu Serif", "Liberation Serif", serif' font-size="16.8" font-weight="normal" font-style="italic" text-anchor="start" fill="#000" textLength="9.0" lengthAdjust="spacingAndGlyphs">τ</text>
<text x="1662.8" y="35.4" font-family='"Liberation Serif", "DejaVu Serif", serif' font-size="13.2" font-weight="bold" font-style="normal" text-anchor="start" fill="#000">f</text>
<text x="1676.3" y="34" font-family='"Liberation Serif", "DejaVu Serif", serif' font-size="19.5" font-weight="normal" font-style="normal" text-anchor="start" fill="#000" textLength="13.2" lengthAdjust="spacingAndGlyphs">=</text>
<text x="1697.1" y="32.4" font-family='"Liberation Serif", "DejaVu Serif", serif' font-size="18.4" font-weight="bold" font-style="normal" text-anchor="start" fill="#000" textLength="26.6" lengthAdjust="spacingAndGlyphs">0.2</text>
<text x="1744.6" y="32.4" font-family='"DejaVu Serif", "Liberation Serif", serif' font-size="16.8" font-weight="normal" font-style="italic" text-anchor="start" fill="#000" textLength="9.0" lengthAdjust="spacingAndGlyphs">τ</text>
<text x="1754.6" y="35.4" font-family='"Liberation Serif", "DejaVu Serif", serif' font-size="13.2" font-weight="bold" font-style="normal" text-anchor="start" fill="#000">c</text>
<text x="1768.2" y="34" font-family='"Liberation Serif", "DejaVu Serif", serif' font-size="19.5" font-weight="normal" font-style="normal" text-anchor="start" fill="#000" textLength="13.4" lengthAdjust="spacingAndGlyphs">=</text>
<text x="1789.5" y="32.4" font-family='"Liberation Serif", "DejaVu Serif", serif' font-size="18.4" font-weight="bold" font-style="normal" text-anchor="start" fill="#000" textLength="27.1" lengthAdjust="spacingAndGlyphs">0.8</text>
<g transform="translate(-0.15 0.35)">
<g clip-path="url(#c19)"><polygon points="1621.61,190.93 1632.86,205.92 1644.12,209.1 1655.37,212.29 1666.62,216 1677.87,218.39 1689.12,220.11 1700.37,220.25 1711.62,214.67 1722.87,202.79 1722.87,216.27 1711.62,220.25 1700.37,221.57 1689.12,221.04 1677.87,219.58 1666.62,218.26 1655.37,217.86 1644.12,218.65 1632.86,219.45 1621.61,220.25" fill="#0000ff" fill-opacity="0.25"/><polygon points="1700.37,221.31 1711.62,219.19 1722.87,212.29 1734.12,193.71 1745.38,165.85 1756.63,118.09 1767.88,68.21 1779.13,62.64 1790.38,97.5 1801.63,127.65 1812.88,160.81 1824.13,187.74 1835.38,205.18 1846.64,213.88 1857.89,217.86 1857.89,222.9 1846.64,222.9 1835.38,221.84 1824.13,216.27 1812.88,198.83 1801.63,162.4 1790.38,126.05 1779.13,114.11 1767.88,116.5 1756.63,135.61 1745.38,175.14 1734.12,203 1722.87,220.25 1711.62,222.1 1700.37,222.9" fill="#008000" fill-opacity="0.25"/><polyline points="1621.61,222.54 1632.86,221.58 1644.12,219.72 1655.37,217.86 1666.62,217.64 1677.87,219.29 1689.12,221.27 1700.37,222.41 1711.62,222.81 1722.87,222.89" fill="none" stroke="#1a1ae6" stroke-width="1.3" stroke-linejoin="round"/><polyline points="1700.37,221.86 1711.62,219.12 1722.87,211.65 1734.12,195.44 1745.38,167.94 1756.63,132.68 1767.88,101.43 1779.13,88.77 1790.38,101.43 1801.63,132.68 1812.88,167.94 1824.13,195.44 1835.38,211.65 1846.64,219.12 1857.89,221.86" fill="none" stroke="#0b5c0b" stroke-width="1.1" stroke-linejoin="round"/><polyline points="1621.61,216.56 1632.86,215.21 1644.12,214.67 1655.37,216 1666.62,217.59 1677.87,219.11 1689.12,220.67 1700.37,221.04 1711.62,218.65 1722.87,213.88" fill="none" stroke="#0000e0" stroke-width="1.5" stroke-linejoin="round" stroke-dasharray="4.6 2"/><polyline points="1700.37,222.37 1711.62,221.31 1722.87,217.86 1734.12,200.35 1745.38,171.96 1756.63,129.24 1767.88,95.91 1779.13,91.16 1790.38,108.54 1801.63,143.41 1812.88,176.73 1824.13,201.99 1835.38,215.47 1846.64,221.04 1857.89,222.63" fill="none" stroke="#0b5c0b" stroke-width="1.5" stroke-linejoin="round" stroke-dasharray="4.6 2"/></g>
<rect x="1609.8" y="53.3" width="259.9" height="177.3" fill="none" stroke="#a9a9a9" stroke-width="1.25"/>
<line x1="1607.8" y1="222.9" x2="1609.8" y2="222.9" stroke="#a9a9a9" stroke-width="0.8"/>
<text x="1606.5" y="225.4" font-family='"DejaVu Sans", "Liberation Sans", sans-serif' font-size="7.05" font-weight="bold" font-style="normal" text-anchor="end" fill="#111">0.0</text>
<line x1="1607.8" y1="196.37" x2="1609.8" y2="196.37" stroke="#a9a9a9" stroke-width="0.8"/>
<text x="1606.5" y="198.87" font-family='"DejaVu Sans", "Liberation Sans", sans-serif' font-size="7.05" font-weight="bold" font-style="normal" text-anchor="end" fill="#111">0.1</text>
<line x1="1607.8" y1="169.83" x2="1609.8" y2="169.83" stroke="#a9a9a9" stroke-width="0.8"/>
<text x="1606.5" y="172.33" font-family='"DejaVu Sans", "Liberation Sans", sans-serif' font-size="7.05" font-weight="bold" font-style="normal" text-anchor="end" fill="#111">0.2</text>
<line x1="1607.8" y1="143.3" x2="1609.8" y2="143.3" stroke="#a9a9a9" stroke-width="0.8"/>
<text x="1606.5" y="145.8" font-family='"DejaVu Sans", "Liberation Sans", sans-serif' font-size="7.05" font-weight="bold" font-style="normal" text-anchor="end" fill="#111">0.3</text>
<line x1="1607.8" y1="116.77" x2="1609.8" y2="116.77" stroke="#a9a9a9" stroke-width="0.8"/>
<text x="1606.5" y="119.27" font-family='"DejaVu Sans", "Liberation Sans", sans-serif' font-size="7.05" font-weight="bold" font-style="normal" text-anchor="end" fill="#111">0.4</text>
<line x1="1607.8" y1="90.23" x2="1609.8" y2="90.23" stroke="#a9a9a9" stroke-width="0.8"/>
<text x="1606.5" y="92.73" font-family='"DejaVu Sans", "Liberation Sans", sans-serif' font-size="7.05" font-weight="bold" font-style="normal" text-anchor="end" fill="#111">0.5</text>
<line x1="1607.8" y1="63.7" x2="1609.8" y2="63.7" stroke="#a9a9a9" stroke-width="0.8"/>
<text x="1606.5" y="66.2" font-family='"DejaVu Sans", "Liberation Sans", sans-serif' font-size="7.05" font-weight="bold" font-style="normal" text-anchor="end" fill="#111">0.6</text>
<line x1="1650.33" y1="230.6" x2="1650.33" y2="232.6" stroke="#a9a9a9" stroke-width="0.8"/>
<text x="1650.33" y="240.2" font-family='"DejaVu Sans", "Liberation Sans", sans-serif' font-size="7.05" font-weight="bold" font-style="normal" text-anchor="middle" fill="#111">10<tspan font-size="4.7" dy="-2.9">−1</tspan></text>
<line x1="1745.71" y1="230.6" x2="1745.71" y2="232.6" stroke="#a9a9a9" stroke-width="0.8"/>
<text x="1745.71" y="240.2" font-family='"DejaVu Sans", "Liberation Sans", sans-serif' font-size="7.05" font-weight="bold" font-style="normal" text-anchor="middle" fill="#111">10<tspan font-size="4.7" dy="-2.9">0</tspan></text>
<line x1="1841.09" y1="230.6" x2="1841.09" y2="232.6" stroke="#a9a9a9" stroke-width="0.8"/>
<text x="1841.09" y="240.2" font-family='"DejaVu Sans", "Liberation Sans", sans-serif' font-size="7.05" font-weight="bold" font-style="normal" text-anchor="middle" fill="#111">10<tspan font-size="4.7" dy="-2.9">1</tspan></text>
<line x1="1612.37" y1="230.6" x2="1612.37" y2="231.8" stroke="#a9a9a9" stroke-width="0.6"/>
<line x1="1621.61" y1="230.6" x2="1621.61" y2="231.8" stroke="#a9a9a9" stroke-width="0.6"/>
<line x1="1629.17" y1="230.6" x2="1629.17" y2="231.8" stroke="#a9a9a9" stroke-width="0.6"/>
<line x1="1635.55" y1="230.6" x2="1635.55" y2="231.8" stroke="#a9a9a9" stroke-width="0.6"/>
<line x1="1641.08" y1="230.6" x2="1641.08" y2="231.8" stroke="#a9a9a9" stroke-width="0.6"/>
<line x1="1645.96" y1="230.6" x2="1645.96" y2="231.8" stroke="#a9a9a9" stroke-width="0.6"/>
<line x1="1679.04" y1="230.6" x2="1679.04" y2="231.8" stroke="#a9a9a9" stroke-width="0.6"/>
<line x1="1695.84" y1="230.6" x2="1695.84" y2="231.8" stroke="#a9a9a9" stroke-width="0.6"/>
<line x1="1707.75" y1="230.6" x2="1707.75" y2="231.8" stroke="#a9a9a9" stroke-width="0.6"/>
<line x1="1717" y1="230.6" x2="1717" y2="231.8" stroke="#a9a9a9" stroke-width="0.6"/>
<line x1="1724.55" y1="230.6" x2="1724.55" y2="231.8" stroke="#a9a9a9" stroke-width="0.6"/>
<line x1="1730.93" y1="230.6" x2="1730.93" y2="231.8" stroke="#a9a9a9" stroke-width="0.6"/>
<line x1="1736.46" y1="230.6" x2="1736.46" y2="231.8" stroke="#a9a9a9" stroke-width="0.6"/>
<line x1="1741.34" y1="230.6" x2="1741.34" y2="231.8" stroke="#a9a9a9" stroke-width="0.6"/>
<line x1="1774.42" y1="230.6" x2="1774.42" y2="231.8" stroke="#a9a9a9" stroke-width="0.6"/>
<line x1="1791.22" y1="230.6" x2="1791.22" y2="231.8" stroke="#a9a9a9" stroke-width="0.6"/>
<line x1="1803.13" y1="230.6" x2="1803.13" y2="231.8" stroke="#a9a9a9" stroke-width="0.6"/>
<line x1="1812.38" y1="230.6" x2="1812.38" y2="231.8" stroke="#a9a9a9" stroke-width="0.6"/>
<line x1="1819.93" y1="230.6" x2="1819.93" y2="231.8" stroke="#a9a9a9" stroke-width="0.6"/>
<line x1="1826.32" y1="230.6" x2="1826.32" y2="231.8" stroke="#a9a9a9" stroke-width="0.6"/>
<line x1="1831.85" y1="230.6" x2="1831.85" y2="231.8" stroke="#a9a9a9" stroke-width="0.6"/>
<line x1="1836.73" y1="230.6" x2="1836.73" y2="231.8" stroke="#a9a9a9" stroke-width="0.6"/>
<text x="1740.35" y="251.6" font-family='"DejaVu Sans", "Liberation Sans", sans-serif' font-size="11.75" font-weight="bold" font-style="normal" text-anchor="middle" fill="#111">Radius<tspan font-weight="normal" dx="8.2">[</tspan><tspan font-weight="normal" font-style="italic">µm</tspan><tspan font-weight="normal">]</tspan></text>
<text x="1589.8" y="139.45" font-family='"DejaVu Sans", "Liberation Sans", sans-serif' font-size="12.06725" font-weight="bold" font-style="normal" text-anchor="middle" fill="#111" transform="rotate(-90 1589.8 139.45)"><tspan font-size="11.09">dV/dlnR</tspan> <tspan font-weight="normal" dx="-1.3">[</tspan><tspan font-weight="normal" font-style="italic">µm</tspan><tspan font-weight="normal" font-size="8.01" dy="-4.31">3</tspan><tspan font-weight="normal" font-style="italic" dy="4.31">µm</tspan><tspan font-weight="normal" font-size="8.01" dy="-4.31">−2</tspan><tspan font-weight="normal" dy="4.31">]</tspan></text>
<rect x="1613.4" y="57.9" width="70.2" height="34.5" rx="1" fill="#bdbdbd"/>
<rect x="1612.3" y="56.8" width="70.2" height="34.5" rx="1" fill="#fff" stroke="#cfcfcf" stroke-width="0.7"/>
<line x1="1614.3" y1="61.2" x2="1625.8" y2="61.2" stroke="#0000e0" stroke-width="1.4" stroke-dasharray="3.6 1.6"/>
<text x="1630.2" y="62.7" font-family='"DejaVu Sans", "Liberation Sans", sans-serif' font-size="5.55" font-weight="normal" font-style="normal" text-anchor="start" fill="#222">Fine Retrieved</text>
<line x1="1614.3" y1="69.3" x2="1625.8" y2="69.3" stroke="#0b5c0b" stroke-width="1.4" stroke-dasharray="3.6 1.6"/>
<text x="1630.2" y="70.8" font-family='"DejaVu Sans", "Liberation Sans", sans-serif' font-size="5.55" font-weight="normal" font-style="normal" text-anchor="start" fill="#222">Coarse Retrieved</text>
<line x1="1614.3" y1="77.4" x2="1625.8" y2="77.4" stroke="#3a3ae0" stroke-width="1.0"/>
<text x="1630.2" y="78.9" font-family='"DejaVu Sans", "Liberation Sans", sans-serif' font-size="5.55" font-weight="normal" font-style="normal" text-anchor="start" fill="#222">Fine Reference</text>
<line x1="1614.3" y1="85.5" x2="1625.8" y2="85.5" stroke="#2e8b2e" stroke-width="1.0"/>
<text x="1630.2" y="87" font-family='"DejaVu Sans", "Liberation Sans", sans-serif' font-size="5.55" font-weight="normal" font-style="normal" text-anchor="start" fill="#222">Coarse Reference</text>
<g clip-path="url(#c20)"><polygon points="1450.92,275.15 1546.73,290.79 1626.23,316.62 1687.38,299.62 1687.38,334.86 1626.23,341.14 1546.73,344.46 1450.92,363.12" fill="#d9d9d9"/><polyline points="1450.92,325.5 1546.73,325.5 1626.23,325.5 1687.38,325.5" fill="none" stroke="#888" stroke-width="1.25" stroke-linejoin="round"/><polyline points="1450.92,319.99 1546.73,317.62 1626.23,329 1687.38,317.21" fill="none" stroke="#000" stroke-width="1.75" stroke-linejoin="round" stroke-dasharray="5.15 2.3"/></g>
<rect x="1439.1" y="271.6" width="260.1" height="177.7" fill="none" stroke="#a9a9a9" stroke-width="1.25"/>
<line x1="1437.1" y1="449.3" x2="1439.1" y2="449.3" stroke="#a9a9a9" stroke-width="0.8"/>
<text x="1435.8" y="451.8" font-family='"DejaVu Sans", "Liberation Sans", sans-serif' font-size="7.05" font-weight="bold" font-style="normal" text-anchor="end" fill="#111">1.35</text>
<line x1="1437.1" y1="419.68" x2="1439.1" y2="419.68" stroke="#a9a9a9" stroke-width="0.8"/>
<text x="1435.8" y="422.18" font-family='"DejaVu Sans", "Liberation Sans", sans-serif' font-size="7.05" font-weight="bold" font-style="normal" text-anchor="end" fill="#111">1.40</text>
<line x1="1437.1" y1="390.07" x2="1439.1" y2="390.07" stroke="#a9a9a9" stroke-width="0.8"/>
<text x="1435.8" y="392.57" font-family='"DejaVu Sans", "Liberation Sans", sans-serif' font-size="7.05" font-weight="bold" font-style="normal" text-anchor="end" fill="#111">1.45</text>
<line x1="1437.1" y1="360.45" x2="1439.1" y2="360.45" stroke="#a9a9a9" stroke-width="0.8"/>
<text x="1435.8" y="362.95" font-family='"DejaVu Sans", "Liberation Sans", sans-serif' font-size="7.05" font-weight="bold" font-style="normal" text-anchor="end" fill="#111">1.50</text>
<line x1="1437.1" y1="330.83" x2="1439.1" y2="330.83" stroke="#a9a9a9" stroke-width="0.8"/>
<text x="1435.8" y="333.33" font-family='"DejaVu Sans", "Liberation Sans", sans-serif' font-size="7.05" font-weight="bold" font-style="normal" text-anchor="end" fill="#111">1.55</text>
<line x1="1437.1" y1="301.22" x2="1439.1" y2="301.22" stroke="#a9a9a9" stroke-width="0.8"/>
<text x="1435.8" y="303.72" font-family='"DejaVu Sans", "Liberation Sans", sans-serif' font-size="7.05" font-weight="bold" font-style="normal" text-anchor="end" fill="#111">1.60</text>
<line x1="1437.1" y1="271.6" x2="1439.1" y2="271.6" stroke="#a9a9a9" stroke-width="0.8"/>
<text x="1435.8" y="274.1" font-family='"DejaVu Sans", "Liberation Sans", sans-serif' font-size="7.05" font-weight="bold" font-style="normal" text-anchor="end" fill="#111">1.65</text>
<line x1="1475.38" y1="449.3" x2="1475.38" y2="451.3" stroke="#a9a9a9" stroke-width="0.8"/>
<text x="1475.38" y="457.5" font-family='"DejaVu Sans", "Liberation Sans", sans-serif' font-size="7.05" font-weight="bold" font-style="normal" text-anchor="middle" fill="#111">500</text>
<line x1="1516.15" y1="449.3" x2="1516.15" y2="451.3" stroke="#a9a9a9" stroke-width="0.8"/>
<text x="1516.15" y="457.5" font-family='"DejaVu Sans", "Liberation Sans", sans-serif' font-size="7.05" font-weight="bold" font-style="normal" text-anchor="middle" fill="#111">600</text>
<line x1="1556.92" y1="449.3" x2="1556.92" y2="451.3" stroke="#a9a9a9" stroke-width="0.8"/>
<text x="1556.92" y="457.5" font-family='"DejaVu Sans", "Liberation Sans", sans-serif' font-size="7.05" font-weight="bold" font-style="normal" text-anchor="middle" fill="#111">700</text>
<line x1="1597.69" y1="449.3" x2="1597.69" y2="451.3" stroke="#a9a9a9" stroke-width="0.8"/>
<text x="1597.69" y="457.5" font-family='"DejaVu Sans", "Liberation Sans", sans-serif' font-size="7.05" font-weight="bold" font-style="normal" text-anchor="middle" fill="#111">800</text>
<line x1="1638.46" y1="449.3" x2="1638.46" y2="451.3" stroke="#a9a9a9" stroke-width="0.8"/>
<text x="1638.46" y="457.5" font-family='"DejaVu Sans", "Liberation Sans", sans-serif' font-size="7.05" font-weight="bold" font-style="normal" text-anchor="middle" fill="#111">900</text>
<line x1="1679.22" y1="449.3" x2="1679.22" y2="451.3" stroke="#a9a9a9" stroke-width="0.8"/>
<text x="1679.22" y="457.5" font-family='"DejaVu Sans", "Liberation Sans", sans-serif' font-size="7.05" font-weight="bold" font-style="normal" text-anchor="middle" fill="#111">1000</text>
<text x="1569.45" y="470.4" font-family='"DejaVu Sans", "Liberation Sans", sans-serif' font-size="11.75" font-weight="bold" font-style="normal" text-anchor="middle" fill="#111">Wavelength<tspan font-weight="normal" dx="7.99">[</tspan><tspan font-weight="normal" font-style="italic">nm</tspan><tspan font-weight="normal">]</tspan></text>
<text x="1413.8" y="360.45" font-family='"DejaVu Sans", "Liberation Sans", sans-serif' font-size="11.5" font-weight="bold" font-style="normal" text-anchor="middle" fill="#111" transform="rotate(-90 1413.8 360.45)">RRI<tspan font-weight="normal" font-style="italic" font-size="7.8" dy="1.6">eff</tspan></text>
<rect x="1569.1" y="434.9" width="128" height="12.3" rx="1.2" fill="#b5b5b5"/>
<rect x="1568.0" y="433.7" width="128" height="12.3" rx="1.2" fill="#fff" stroke="#cfcfcf" stroke-width="0.7"/>
<line x1="1571.3" y1="439.2" x2="1584.2" y2="439.2" stroke="#000" stroke-width="1.8" stroke-dasharray="5 2.4"/>
<text x="1590.8" y="440.9" font-family='"DejaVu Sans", "Liberation Sans", sans-serif' font-size="6.8" font-weight="normal" font-style="normal" text-anchor="start" fill="#222">Retrieved</text>
<line x1="1637.9" y1="439.2" x2="1652" y2="439.2" stroke="#a0a0a0" stroke-width="1.9"/>
<text x="1657.8" y="440.9" font-family='"DejaVu Sans", "Liberation Sans", sans-serif' font-size="6.8" font-weight="normal" font-style="normal" text-anchor="start" fill="#222">Reference</text>
<g clip-path="url(#c21)"><polygon points="1791.81,380.35 1887.54,395.99 1966.98,347 2028.09,369.16 2028.09,421.87 1966.98,414.59 1887.54,459.31 1791.81,437.16" fill="#0000ff" fill-opacity="0.25"/><polygon points="1791.81,270.42 1887.54,290.2 1966.98,314.07 2028.09,296.66 2028.09,325.5 1966.98,335.63 1887.54,327.4 1791.81,351.33" fill="#008000" fill-opacity="0.25"/><polyline points="1791.81,324.91 1887.54,324.91 1966.98,324.91 2028.09,324.91" fill="none" stroke="#5a9a5a" stroke-width="1.3" stroke-linejoin="round"/><polyline points="1791.81,354.53 1887.54,354.53 1966.98,354.53 2028.09,354.53" fill="none" stroke="#5a5ae6" stroke-width="0.8" stroke-linejoin="round"/><polyline points="1791.81,312.94 1887.54,309.04 1966.98,325.09 2028.09,311.17" fill="none" stroke="#0b5c0b" stroke-width="1.55" stroke-linejoin="round" stroke-dasharray="5 2.3"/><polyline points="1791.81,409.32 1887.54,427.38 1966.98,381.3 2028.09,395.63" fill="none" stroke="#0000e6" stroke-width="1.55" stroke-linejoin="round" stroke-dasharray="5 2.3"/></g>
<rect x="1780" y="271.6" width="259.9" height="177.7" fill="none" stroke="#a9a9a9" stroke-width="1.25"/>
<line x1="1778" y1="449.3" x2="1780" y2="449.3" stroke="#a9a9a9" stroke-width="0.8"/>
<text x="1776.7" y="451.8" font-family='"DejaVu Sans", "Liberation Sans", sans-serif' font-size="7.05" font-weight="bold" font-style="normal" text-anchor="end" fill="#111">1.35</text>
<line x1="1778" y1="419.68" x2="1780" y2="419.68" stroke="#a9a9a9" stroke-width="0.8"/>
<text x="1776.7" y="422.18" font-family='"DejaVu Sans", "Liberation Sans", sans-serif' font-size="7.05" font-weight="bold" font-style="normal" text-anchor="end" fill="#111">1.40</text>
<line x1="1778" y1="390.07" x2="1780" y2="390.07" stroke="#a9a9a9" stroke-width="0.8"/>
<text x="1776.7" y="392.57" font-family='"DejaVu Sans", "Liberation Sans", sans-serif' font-size="7.05" font-weight="bold" font-style="normal" text-anchor="end" fill="#111">1.45</text>
<line x1="1778" y1="360.45" x2="1780" y2="360.45" stroke="#a9a9a9" stroke-width="0.8"/>
<text x="1776.7" y="362.95" font-family='"DejaVu Sans", "Liberation Sans", sans-serif' font-size="7.05" font-weight="bold" font-style="normal" text-anchor="end" fill="#111">1.50</text>
<line x1="1778" y1="330.83" x2="1780" y2="330.83" stroke="#a9a9a9" stroke-width="0.8"/>
<text x="1776.7" y="333.33" font-family='"DejaVu Sans", "Liberation Sans", sans-serif' font-size="7.05" font-weight="bold" font-style="normal" text-anchor="end" fill="#111">1.55</text>
<line x1="1778" y1="301.22" x2="1780" y2="301.22" stroke="#a9a9a9" stroke-width="0.8"/>
<text x="1776.7" y="303.72" font-family='"DejaVu Sans", "Liberation Sans", sans-serif' font-size="7.05" font-weight="bold" font-style="normal" text-anchor="end" fill="#111">1.60</text>
<line x1="1778" y1="271.6" x2="1780" y2="271.6" stroke="#a9a9a9" stroke-width="0.8"/>
<text x="1776.7" y="274.1" font-family='"DejaVu Sans", "Liberation Sans", sans-serif' font-size="7.05" font-weight="bold" font-style="normal" text-anchor="end" fill="#111">1.65</text>
<line x1="1816.26" y1="449.3" x2="1816.26" y2="451.3" stroke="#a9a9a9" stroke-width="0.8"/>
<text x="1816.26" y="457.5" font-family='"DejaVu Sans", "Liberation Sans", sans-serif' font-size="7.05" font-weight="bold" font-style="normal" text-anchor="middle" fill="#111">500</text>
<line x1="1856.99" y1="449.3" x2="1856.99" y2="451.3" stroke="#a9a9a9" stroke-width="0.8"/>
<text x="1856.99" y="457.5" font-family='"DejaVu Sans", "Liberation Sans", sans-serif' font-size="7.05" font-weight="bold" font-style="normal" text-anchor="middle" fill="#111">600</text>
<line x1="1897.73" y1="449.3" x2="1897.73" y2="451.3" stroke="#a9a9a9" stroke-width="0.8"/>
<text x="1897.73" y="457.5" font-family='"DejaVu Sans", "Liberation Sans", sans-serif' font-size="7.05" font-weight="bold" font-style="normal" text-anchor="middle" fill="#111">700</text>
<line x1="1938.47" y1="449.3" x2="1938.47" y2="451.3" stroke="#a9a9a9" stroke-width="0.8"/>
<text x="1938.47" y="457.5" font-family='"DejaVu Sans", "Liberation Sans", sans-serif' font-size="7.05" font-weight="bold" font-style="normal" text-anchor="middle" fill="#111">800</text>
<line x1="1979.2" y1="449.3" x2="1979.2" y2="451.3" stroke="#a9a9a9" stroke-width="0.8"/>
<text x="1979.2" y="457.5" font-family='"DejaVu Sans", "Liberation Sans", sans-serif' font-size="7.05" font-weight="bold" font-style="normal" text-anchor="middle" fill="#111">900</text>
<line x1="2019.94" y1="449.3" x2="2019.94" y2="451.3" stroke="#a9a9a9" stroke-width="0.8"/>
<text x="2019.94" y="457.5" font-family='"DejaVu Sans", "Liberation Sans", sans-serif' font-size="7.05" font-weight="bold" font-style="normal" text-anchor="middle" fill="#111">1000</text>
<text x="1910.25" y="470.4" font-family='"DejaVu Sans", "Liberation Sans", sans-serif' font-size="11.75" font-weight="bold" font-style="normal" text-anchor="middle" fill="#111">Wavelength<tspan font-weight="normal" dx="7.99">[</tspan><tspan font-weight="normal" font-style="italic">nm</tspan><tspan font-weight="normal">]</tspan></text>
<text x="1756" y="360.45" font-family='"DejaVu Sans", "Liberation Sans", sans-serif' font-size="11.5" font-weight="bold" font-style="normal" text-anchor="middle" fill="#111" transform="rotate(-90 1756 360.45)">RRI</text>
<g clip-path="url(#c22)"><polygon points="1455.84,556.13 1551.75,577.13 1631.34,578.1 1692.56,578.1 1692.56,632.68 1631.34,630.12 1551.75,619.34 1455.84,593.43" fill="#d9d9d9"/><polyline points="1455.84,574.17 1551.75,586.94 1631.34,590.88 1692.56,591.29" fill="none" stroke="#858585" stroke-width="1.4" stroke-linejoin="round"/><polyline points="1455.84,574.78 1551.75,598.13 1631.34,604.01 1692.56,605.59" fill="none" stroke="#000" stroke-width="1.75" stroke-linejoin="round" stroke-dasharray="5.15 2.3"/></g>
<rect x="1444" y="489.7" width="260.4" height="177.6" fill="none" stroke="#a9a9a9" stroke-width="1.25"/>
<line x1="1442" y1="499" x2="1444" y2="499" stroke="#a9a9a9" stroke-width="0.8"/>
<text x="1440.7" y="501.9" font-family='"DejaVu Sans", "Liberation Sans", sans-serif' font-size="7.05" font-weight="bold" font-style="normal" text-anchor="end" fill="#111">10<tspan font-size="4.7" dy="-2.9">−1</tspan></text>
<line x1="1442" y1="550.1" x2="1444" y2="550.1" stroke="#a9a9a9" stroke-width="0.8"/>
<text x="1440.7" y="553" font-family='"DejaVu Sans", "Liberation Sans", sans-serif' font-size="7.05" font-weight="bold" font-style="normal" text-anchor="end" fill="#111">10<tspan font-size="4.7" dy="-2.9">−2</tspan></text>
<line x1="1442" y1="601.2" x2="1444" y2="601.2" stroke="#a9a9a9" stroke-width="0.8"/>
<text x="1440.7" y="604.1" font-family='"DejaVu Sans", "Liberation Sans", sans-serif' font-size="7.05" font-weight="bold" font-style="normal" text-anchor="end" fill="#111">10<tspan font-size="4.7" dy="-2.9">−3</tspan></text>
<line x1="1442" y1="652.3" x2="1444" y2="652.3" stroke="#a9a9a9" stroke-width="0.8"/>
<text x="1440.7" y="655.2" font-family='"DejaVu Sans", "Liberation Sans", sans-serif' font-size="7.05" font-weight="bold" font-style="normal" text-anchor="end" fill="#111">10<tspan font-size="4.7" dy="-2.9">−4</tspan></text>
<line x1="1442.8" y1="663.64" x2="1444" y2="663.64" stroke="#a9a9a9" stroke-width="0.6"/>
<line x1="1442.8" y1="660.22" x2="1444" y2="660.22" stroke="#a9a9a9" stroke-width="0.6"/>
<line x1="1442.8" y1="657.25" x2="1444" y2="657.25" stroke="#a9a9a9" stroke-width="0.6"/>
<line x1="1442.8" y1="654.64" x2="1444" y2="654.64" stroke="#a9a9a9" stroke-width="0.6"/>
<line x1="1442.8" y1="636.92" x2="1444" y2="636.92" stroke="#a9a9a9" stroke-width="0.6"/>
<line x1="1442.8" y1="627.92" x2="1444" y2="627.92" stroke="#a9a9a9" stroke-width="0.6"/>
<line x1="1442.8" y1="621.53" x2="1444" y2="621.53" stroke="#a9a9a9" stroke-width="0.6"/>
<line x1="1442.8" y1="616.58" x2="1444" y2="616.58" stroke="#a9a9a9" stroke-width="0.6"/>
<line x1="1442.8" y1="612.54" x2="1444" y2="612.54" stroke="#a9a9a9" stroke-width="0.6"/>
<line x1="1442.8" y1="609.12" x2="1444" y2="609.12" stroke="#a9a9a9" stroke-width="0.6"/>
<line x1="1442.8" y1="606.15" x2="1444" y2="606.15" stroke="#a9a9a9" stroke-width="0.6"/>
<line x1="1442.8" y1="603.54" x2="1444" y2="603.54" stroke="#a9a9a9" stroke-width="0.6"/>
<line x1="1442.8" y1="585.82" x2="1444" y2="585.82" stroke="#a9a9a9" stroke-width="0.6"/>
<line x1="1442.8" y1="576.82" x2="1444" y2="576.82" stroke="#a9a9a9" stroke-width="0.6"/>
<line x1="1442.8" y1="570.43" x2="1444" y2="570.43" stroke="#a9a9a9" stroke-width="0.6"/>
<line x1="1442.8" y1="565.48" x2="1444" y2="565.48" stroke="#a9a9a9" stroke-width="0.6"/>
<line x1="1442.8" y1="561.44" x2="1444" y2="561.44" stroke="#a9a9a9" stroke-width="0.6"/>
<line x1="1442.8" y1="558.02" x2="1444" y2="558.02" stroke="#a9a9a9" stroke-width="0.6"/>
<line x1="1442.8" y1="555.05" x2="1444" y2="555.05" stroke="#a9a9a9" stroke-width="0.6"/>
<line x1="1442.8" y1="552.44" x2="1444" y2="552.44" stroke="#a9a9a9" stroke-width="0.6"/>
<line x1="1442.8" y1="534.72" x2="1444" y2="534.72" stroke="#a9a9a9" stroke-width="0.6"/>
<line x1="1442.8" y1="525.72" x2="1444" y2="525.72" stroke="#a9a9a9" stroke-width="0.6"/>
<line x1="1442.8" y1="519.33" x2="1444" y2="519.33" stroke="#a9a9a9" stroke-width="0.6"/>
<line x1="1442.8" y1="514.38" x2="1444" y2="514.38" stroke="#a9a9a9" stroke-width="0.6"/>
<line x1="1442.8" y1="510.34" x2="1444" y2="510.34" stroke="#a9a9a9" stroke-width="0.6"/>
<line x1="1442.8" y1="506.92" x2="1444" y2="506.92" stroke="#a9a9a9" stroke-width="0.6"/>
<line x1="1442.8" y1="503.95" x2="1444" y2="503.95" stroke="#a9a9a9" stroke-width="0.6"/>
<line x1="1442.8" y1="501.34" x2="1444" y2="501.34" stroke="#a9a9a9" stroke-width="0.6"/>
<line x1="1480.33" y1="667.3" x2="1480.33" y2="669.3" stroke="#a9a9a9" stroke-width="0.8"/>
<text x="1480.33" y="675.5" font-family='"DejaVu Sans", "Liberation Sans", sans-serif' font-size="7.05" font-weight="bold" font-style="normal" text-anchor="middle" fill="#111">500</text>
<line x1="1521.14" y1="667.3" x2="1521.14" y2="669.3" stroke="#a9a9a9" stroke-width="0.8"/>
<text x="1521.14" y="675.5" font-family='"DejaVu Sans", "Liberation Sans", sans-serif' font-size="7.05" font-weight="bold" font-style="normal" text-anchor="middle" fill="#111">600</text>
<line x1="1561.96" y1="667.3" x2="1561.96" y2="669.3" stroke="#a9a9a9" stroke-width="0.8"/>
<text x="1561.96" y="675.5" font-family='"DejaVu Sans", "Liberation Sans", sans-serif' font-size="7.05" font-weight="bold" font-style="normal" text-anchor="middle" fill="#111">700</text>
<line x1="1602.77" y1="667.3" x2="1602.77" y2="669.3" stroke="#a9a9a9" stroke-width="0.8"/>
<text x="1602.77" y="675.5" font-family='"DejaVu Sans", "Liberation Sans", sans-serif' font-size="7.05" font-weight="bold" font-style="normal" text-anchor="middle" fill="#111">800</text>
<line x1="1643.59" y1="667.3" x2="1643.59" y2="669.3" stroke="#a9a9a9" stroke-width="0.8"/>
<text x="1643.59" y="675.5" font-family='"DejaVu Sans", "Liberation Sans", sans-serif' font-size="7.05" font-weight="bold" font-style="normal" text-anchor="middle" fill="#111">900</text>
<line x1="1684.4" y1="667.3" x2="1684.4" y2="669.3" stroke="#a9a9a9" stroke-width="0.8"/>
<text x="1684.4" y="675.5" font-family='"DejaVu Sans", "Liberation Sans", sans-serif' font-size="7.05" font-weight="bold" font-style="normal" text-anchor="middle" fill="#111">1000</text>
<text x="1574.5" y="687.2" font-family='"DejaVu Sans", "Liberation Sans", sans-serif' font-size="9.4" font-weight="bold" font-style="normal" text-anchor="middle" fill="#111">Wavelength<tspan font-weight="normal" dx="6.39">[</tspan><tspan font-weight="normal" font-style="italic">nm</tspan><tspan font-weight="normal">]</tspan></text>
<text x="1419.1" y="578.5" font-family='"DejaVu Sans", "Liberation Sans", sans-serif' font-size="9.2" font-weight="bold" font-style="normal" text-anchor="middle" fill="#111" transform="rotate(-90 1419.1 578.5)">IRI<tspan font-weight="normal" font-style="italic" font-size="6.4" dy="1.3">eff</tspan></text>
<g clip-path="url(#c23)"><polygon points="1791.81,563.79 1887.54,563.79 1966.98,563.79 2028.09,563.79 2028.09,619.34 1966.98,619.34 1887.54,619.34 1791.81,619.34" fill="#0000ff" fill-opacity="0.25"/><polygon points="1791.81,553.57 1887.54,577.13 1966.98,580.45 2028.09,580.45 2028.09,633.65 1966.98,631.09 1887.54,619.75 1791.81,593.43" fill="#008000" fill-opacity="0.25"/><polyline points="1791.81,577.13 1887.54,594.81 1966.98,601.1 2028.09,601.2" fill="none" stroke="#3f8a3f" stroke-width="1.2" stroke-linejoin="round"/><polyline points="1791.81,533.34 1887.54,533.34 1966.98,533.34 2028.09,533.34" fill="none" stroke="#7c7cf5" stroke-width="1.1" stroke-linejoin="round"/><polyline points="1791.81,573.81 1887.54,598.75 1966.98,605.19 2028.09,607.18" fill="none" stroke="#0b5c0b" stroke-width="1.55" stroke-linejoin="round" stroke-dasharray="5 2.3"/><polyline points="1791.81,591.44 1887.54,591.44 1966.98,591.44 2028.09,591.44" fill="none" stroke="#0000e6" stroke-width="1.55" stroke-linejoin="round" stroke-dasharray="5 2.3"/></g>
<rect x="1780" y="489.7" width="259.9" height="177.6" fill="none" stroke="#a9a9a9" stroke-width="1.25"/>
<line x1="1778" y1="499" x2="1780" y2="499" stroke="#a9a9a9" stroke-width="0.8"/>
<text x="1776.7" y="501.9" font-family='"DejaVu Sans", "Liberation Sans", sans-serif' font-size="7.05" font-weight="bold" font-style="normal" text-anchor="end" fill="#111">10<tspan font-size="4.7" dy="-2.9">−1</tspan></text>
<line x1="1778" y1="550.1" x2="1780" y2="550.1" stroke="#a9a9a9" stroke-width="0.8"/>
<text x="1776.7" y="553" font-family='"DejaVu Sans", "Liberation Sans", sans-serif' font-size="7.05" font-weight="bold" font-style="normal" text-anchor="end" fill="#111">10<tspan font-size="4.7" dy="-2.9">−2</tspan></text>
<line x1="1778" y1="601.2" x2="1780" y2="601.2" stroke="#a9a9a9" stroke-width="0.8"/>
<text x="1776.7" y="604.1" font-family='"DejaVu Sans", "Liberation Sans", sans-serif' font-size="7.05" font-weight="bold" font-style="normal" text-anchor="end" fill="#111">10<tspan font-size="4.7" dy="-2.9">−3</tspan></text>
<line x1="1778" y1="652.3" x2="1780" y2="652.3" stroke="#a9a9a9" stroke-width="0.8"/>
<text x="1776.7" y="655.2" font-family='"DejaVu Sans", "Liberation Sans", sans-serif' font-size="7.05" font-weight="bold" font-style="normal" text-anchor="end" fill="#111">10<tspan font-size="4.7" dy="-2.9">−4</tspan></text>
<line x1="1778.8" y1="663.64" x2="1780" y2="663.64" stroke="#a9a9a9" stroke-width="0.6"/>
<line x1="1778.8" y1="660.22" x2="1780" y2="660.22" stroke="#a9a9a9" stroke-width="0.6"/>
<line x1="1778.8" y1="657.25" x2="1780" y2="657.25" stroke="#a9a9a9" stroke-width="0.6"/>
<line x1="1778.8" y1="654.64" x2="1780" y2="654.64" stroke="#a9a9a9" stroke-width="0.6"/>
<line x1="1778.8" y1="636.92" x2="1780" y2="636.92" stroke="#a9a9a9" stroke-width="0.6"/>
<line x1="1778.8" y1="627.92" x2="1780" y2="627.92" stroke="#a9a9a9" stroke-width="0.6"/>
<line x1="1778.8" y1="621.53" x2="1780" y2="621.53" stroke="#a9a9a9" stroke-width="0.6"/>
<line x1="1778.8" y1="616.58" x2="1780" y2="616.58" stroke="#a9a9a9" stroke-width="0.6"/>
<line x1="1778.8" y1="612.54" x2="1780" y2="612.54" stroke="#a9a9a9" stroke-width="0.6"/>
<line x1="1778.8" y1="609.12" x2="1780" y2="609.12" stroke="#a9a9a9" stroke-width="0.6"/>
<line x1="1778.8" y1="606.15" x2="1780" y2="606.15" stroke="#a9a9a9" stroke-width="0.6"/>
<line x1="1778.8" y1="603.54" x2="1780" y2="603.54" stroke="#a9a9a9" stroke-width="0.6"/>
<line x1="1778.8" y1="585.82" x2="1780" y2="585.82" stroke="#a9a9a9" stroke-width="0.6"/>
<line x1="1778.8" y1="576.82" x2="1780" y2="576.82" stroke="#a9a9a9" stroke-width="0.6"/>
<line x1="1778.8" y1="570.43" x2="1780" y2="570.43" stroke="#a9a9a9" stroke-width="0.6"/>
<line x1="1778.8" y1="565.48" x2="1780" y2="565.48" stroke="#a9a9a9" stroke-width="0.6"/>
<line x1="1778.8" y1="561.44" x2="1780" y2="561.44" stroke="#a9a9a9" stroke-width="0.6"/>
<line x1="1778.8" y1="558.02" x2="1780" y2="558.02" stroke="#a9a9a9" stroke-width="0.6"/>
<line x1="1778.8" y1="555.05" x2="1780" y2="555.05" stroke="#a9a9a9" stroke-width="0.6"/>
<line x1="1778.8" y1="552.44" x2="1780" y2="552.44" stroke="#a9a9a9" stroke-width="0.6"/>
<line x1="1778.8" y1="534.72" x2="1780" y2="534.72" stroke="#a9a9a9" stroke-width="0.6"/>
<line x1="1778.8" y1="525.72" x2="1780" y2="525.72" stroke="#a9a9a9" stroke-width="0.6"/>
<line x1="1778.8" y1="519.33" x2="1780" y2="519.33" stroke="#a9a9a9" stroke-width="0.6"/>
<line x1="1778.8" y1="514.38" x2="1780" y2="514.38" stroke="#a9a9a9" stroke-width="0.6"/>
<line x1="1778.8" y1="510.34" x2="1780" y2="510.34" stroke="#a9a9a9" stroke-width="0.6"/>
<line x1="1778.8" y1="506.92" x2="1780" y2="506.92" stroke="#a9a9a9" stroke-width="0.6"/>
<line x1="1778.8" y1="503.95" x2="1780" y2="503.95" stroke="#a9a9a9" stroke-width="0.6"/>
<line x1="1778.8" y1="501.34" x2="1780" y2="501.34" stroke="#a9a9a9" stroke-width="0.6"/>
<line x1="1816.26" y1="667.3" x2="1816.26" y2="669.3" stroke="#a9a9a9" stroke-width="0.8"/>
<text x="1816.26" y="675.5" font-family='"DejaVu Sans", "Liberation Sans", sans-serif' font-size="7.05" font-weight="bold" font-style="normal" text-anchor="middle" fill="#111">500</text>
<line x1="1856.99" y1="667.3" x2="1856.99" y2="669.3" stroke="#a9a9a9" stroke-width="0.8"/>
<text x="1856.99" y="675.5" font-family='"DejaVu Sans", "Liberation Sans", sans-serif' font-size="7.05" font-weight="bold" font-style="normal" text-anchor="middle" fill="#111">600</text>
<line x1="1897.73" y1="667.3" x2="1897.73" y2="669.3" stroke="#a9a9a9" stroke-width="0.8"/>
<text x="1897.73" y="675.5" font-family='"DejaVu Sans", "Liberation Sans", sans-serif' font-size="7.05" font-weight="bold" font-style="normal" text-anchor="middle" fill="#111">700</text>
<line x1="1938.47" y1="667.3" x2="1938.47" y2="669.3" stroke="#a9a9a9" stroke-width="0.8"/>
<text x="1938.47" y="675.5" font-family='"DejaVu Sans", "Liberation Sans", sans-serif' font-size="7.05" font-weight="bold" font-style="normal" text-anchor="middle" fill="#111">800</text>
<line x1="1979.2" y1="667.3" x2="1979.2" y2="669.3" stroke="#a9a9a9" stroke-width="0.8"/>
<text x="1979.2" y="675.5" font-family='"DejaVu Sans", "Liberation Sans", sans-serif' font-size="7.05" font-weight="bold" font-style="normal" text-anchor="middle" fill="#111">900</text>
<line x1="2019.94" y1="667.3" x2="2019.94" y2="669.3" stroke="#a9a9a9" stroke-width="0.8"/>
<text x="2019.94" y="675.5" font-family='"DejaVu Sans", "Liberation Sans", sans-serif' font-size="7.05" font-weight="bold" font-style="normal" text-anchor="middle" fill="#111">1000</text>
<text x="1910.25" y="688.4" font-family='"DejaVu Sans", "Liberation Sans", sans-serif' font-size="11.75" font-weight="bold" font-style="normal" text-anchor="middle" fill="#111">Wavelength<tspan font-weight="normal" dx="7.99">[</tspan><tspan font-weight="normal" font-style="italic">nm</tspan><tspan font-weight="normal">]</tspan></text>
<text x="1756" y="578.5" font-family='"DejaVu Sans", "Liberation Sans", sans-serif' font-size="11.5" font-weight="bold" font-style="normal" text-anchor="middle" fill="#111" transform="rotate(-90 1756 578.5)">IRI</text>
<g clip-path="url(#c24)"><polygon points="1455.84,728.87 1551.75,704.66 1631.34,701.62 1692.56,701.62 1692.56,727.3 1631.34,734.75 1551.75,741.99 1455.84,786.47" fill="#d9d9d9"/><polyline points="1455.84,763.93 1551.75,731.61 1631.34,723.81 1692.56,721.02" fill="none" stroke="#5a5a5a" stroke-width="0.95" stroke-linejoin="round"/><polyline points="1455.84,758.66 1551.75,724.37 1631.34,717.53 1692.56,715.96" fill="none" stroke="#000" stroke-width="1.75" stroke-linejoin="round" stroke-dasharray="5.15 2.3"/></g>
<rect x="1444" y="707.7" width="260.4" height="177.3" fill="none" stroke="#a9a9a9" stroke-width="1.25"/>
<line x1="1442" y1="885" x2="1444" y2="885" stroke="#a9a9a9" stroke-width="0.8"/>
<text x="1440.7" y="887.5" font-family='"DejaVu Sans", "Liberation Sans", sans-serif' font-size="7.05" font-weight="bold" font-style="normal" text-anchor="end" fill="#111">0.65</text>
<line x1="1442" y1="859.67" x2="1444" y2="859.67" stroke="#a9a9a9" stroke-width="0.8"/>
<text x="1440.7" y="862.17" font-family='"DejaVu Sans", "Liberation Sans", sans-serif' font-size="7.05" font-weight="bold" font-style="normal" text-anchor="end" fill="#111">0.70</text>
<line x1="1442" y1="834.34" x2="1444" y2="834.34" stroke="#a9a9a9" stroke-width="0.8"/>
<text x="1440.7" y="836.84" font-family='"DejaVu Sans", "Liberation Sans", sans-serif' font-size="7.05" font-weight="bold" font-style="normal" text-anchor="end" fill="#111">0.75</text>
<line x1="1442" y1="809.01" x2="1444" y2="809.01" stroke="#a9a9a9" stroke-width="0.8"/>
<text x="1440.7" y="811.51" font-family='"DejaVu Sans", "Liberation Sans", sans-serif' font-size="7.05" font-weight="bold" font-style="normal" text-anchor="end" fill="#111">0.80</text>
<line x1="1442" y1="783.69" x2="1444" y2="783.69" stroke="#a9a9a9" stroke-width="0.8"/>
<text x="1440.7" y="786.19" font-family='"DejaVu Sans", "Liberation Sans", sans-serif' font-size="7.05" font-weight="bold" font-style="normal" text-anchor="end" fill="#111">0.85</text>
<line x1="1442" y1="758.36" x2="1444" y2="758.36" stroke="#a9a9a9" stroke-width="0.8"/>
<text x="1440.7" y="760.86" font-family='"DejaVu Sans", "Liberation Sans", sans-serif' font-size="7.05" font-weight="bold" font-style="normal" text-anchor="end" fill="#111">0.90</text>
<line x1="1442" y1="733.03" x2="1444" y2="733.03" stroke="#a9a9a9" stroke-width="0.8"/>
<text x="1440.7" y="735.53" font-family='"DejaVu Sans", "Liberation Sans", sans-serif' font-size="7.05" font-weight="bold" font-style="normal" text-anchor="end" fill="#111">0.95</text>
<line x1="1442" y1="707.7" x2="1444" y2="707.7" stroke="#a9a9a9" stroke-width="0.8"/>
<text x="1440.7" y="710.2" font-family='"DejaVu Sans", "Liberation Sans", sans-serif' font-size="7.05" font-weight="bold" font-style="normal" text-anchor="end" fill="#111">1.00</text>
<line x1="1480.33" y1="885" x2="1480.33" y2="887" stroke="#a9a9a9" stroke-width="0.8"/>
<text x="1480.33" y="893.2" font-family='"DejaVu Sans", "Liberation Sans", sans-serif' font-size="7.05" font-weight="bold" font-style="normal" text-anchor="middle" fill="#111">500</text>
<line x1="1521.14" y1="885" x2="1521.14" y2="887" stroke="#a9a9a9" stroke-width="0.8"/>
<text x="1521.14" y="893.2" font-family='"DejaVu Sans", "Liberation Sans", sans-serif' font-size="7.05" font-weight="bold" font-style="normal" text-anchor="middle" fill="#111">600</text>
<line x1="1561.96" y1="885" x2="1561.96" y2="887" stroke="#a9a9a9" stroke-width="0.8"/>
<text x="1561.96" y="893.2" font-family='"DejaVu Sans", "Liberation Sans", sans-serif' font-size="7.05" font-weight="bold" font-style="normal" text-anchor="middle" fill="#111">700</text>
<line x1="1602.77" y1="885" x2="1602.77" y2="887" stroke="#a9a9a9" stroke-width="0.8"/>
<text x="1602.77" y="893.2" font-family='"DejaVu Sans", "Liberation Sans", sans-serif' font-size="7.05" font-weight="bold" font-style="normal" text-anchor="middle" fill="#111">800</text>
<line x1="1643.59" y1="885" x2="1643.59" y2="887" stroke="#a9a9a9" stroke-width="0.8"/>
<text x="1643.59" y="893.2" font-family='"DejaVu Sans", "Liberation Sans", sans-serif' font-size="7.05" font-weight="bold" font-style="normal" text-anchor="middle" fill="#111">900</text>
<line x1="1684.4" y1="885" x2="1684.4" y2="887" stroke="#a9a9a9" stroke-width="0.8"/>
<text x="1684.4" y="893.2" font-family='"DejaVu Sans", "Liberation Sans", sans-serif' font-size="7.05" font-weight="bold" font-style="normal" text-anchor="middle" fill="#111">1000</text>
<text x="1574.5" y="906.1" font-family='"DejaVu Sans", "Liberation Sans", sans-serif' font-size="11.75" font-weight="bold" font-style="normal" text-anchor="middle" fill="#111">Wavelength<tspan font-weight="normal" dx="7.99">[</tspan><tspan font-weight="normal" font-style="italic">nm</tspan><tspan font-weight="normal">]</tspan></text>
<text x="1420.3" y="796.35" font-family='"DejaVu Sans", "Liberation Sans", sans-serif' font-size="11.5" font-weight="bold" font-style="normal" text-anchor="middle" fill="#111" transform="rotate(-90 1420.3 796.35)">SSA</text>
<g clip-path="url(#c25)"><polygon points="1791.81,702.63 1887.54,702.63 1966.98,702.63 2028.09,702.63 2028.09,727.96 1966.98,726.19 1887.54,726.19 1791.81,725.94" fill="#0000ff" fill-opacity="0.25"/><polygon points="1791.81,728.27 1887.54,696.05 1966.98,692.5 2028.09,692.5 2028.09,731.61 1966.98,742.96 1887.54,752.78 1791.81,812.51" fill="#008000" fill-opacity="0.25"/><polyline points="1791.81,764.94 1887.54,726.95 1966.98,718.9 2028.09,716.92" fill="none" stroke="#2e7d2e" stroke-width="0.85" stroke-linejoin="round"/><polyline points="1791.81,760.23 1887.54,775.28 1966.98,793.92 2028.09,811.55" fill="none" stroke="#6a6aee" stroke-width="0.85" stroke-linejoin="round"/><polyline points="1791.81,772.95 1887.54,725.94 1966.98,717.53 2028.09,715.96" fill="none" stroke="#0b5c0b" stroke-width="1.55" stroke-linejoin="round" stroke-dasharray="5 2.3"/><polyline points="1791.81,715.55 1887.54,715.81 1966.98,715.3 2028.09,715.55" fill="none" stroke="#0000e6" stroke-width="1.55" stroke-linejoin="round" stroke-dasharray="5 2.3"/></g>
<rect x="1780" y="707.7" width="259.9" height="177.3" fill="none" stroke="#a9a9a9" stroke-width="1.25"/>
<line x1="1778" y1="885" x2="1780" y2="885" stroke="#a9a9a9" stroke-width="0.8"/>
<text x="1776.7" y="887.5" font-family='"DejaVu Sans", "Liberation Sans", sans-serif' font-size="7.05" font-weight="bold" font-style="normal" text-anchor="end" fill="#111">0.65</text>
<line x1="1778" y1="859.67" x2="1780" y2="859.67" stroke="#a9a9a9" stroke-width="0.8"/>
<text x="1776.7" y="862.17" font-family='"DejaVu Sans", "Liberation Sans", sans-serif' font-size="7.05" font-weight="bold" font-style="normal" text-anchor="end" fill="#111">0.70</text>
<line x1="1778" y1="834.34" x2="1780" y2="834.34" stroke="#a9a9a9" stroke-width="0.8"/>
<text x="1776.7" y="836.84" font-family='"DejaVu Sans", "Liberation Sans", sans-serif' font-size="7.05" font-weight="bold" font-style="normal" text-anchor="end" fill="#111">0.75</text>
<line x1="1778" y1="809.01" x2="1780" y2="809.01" stroke="#a9a9a9" stroke-width="0.8"/>
<text x="1776.7" y="811.51" font-family='"DejaVu Sans", "Liberation Sans", sans-serif' font-size="7.05" font-weight="bold" font-style="normal" text-anchor="end" fill="#111">0.80</text>
<line x1="1778" y1="783.69" x2="1780" y2="783.69" stroke="#a9a9a9" stroke-width="0.8"/>
<text x="1776.7" y="786.19" font-family='"DejaVu Sans", "Liberation Sans", sans-serif' font-size="7.05" font-weight="bold" font-style="normal" text-anchor="end" fill="#111">0.85</text>
<line x1="1778" y1="758.36" x2="1780" y2="758.36" stroke="#a9a9a9" stroke-width="0.8"/>
<text x="1776.7" y="760.86" font-family='"DejaVu Sans", "Liberation Sans", sans-serif' font-size="7.05" font-weight="bold" font-style="normal" text-anchor="end" fill="#111">0.90</text>
<line x1="1778" y1="733.03" x2="1780" y2="733.03" stroke="#a9a9a9" stroke-width="0.8"/>
<text x="1776.7" y="735.53" font-family='"DejaVu Sans", "Liberation Sans", sans-serif' font-size="7.05" font-weight="bold" font-style="normal" text-anchor="end" fill="#111">0.95</text>
<line x1="1778" y1="707.7" x2="1780" y2="707.7" stroke="#a9a9a9" stroke-width="0.8"/>
<text x="1776.7" y="710.2" font-family='"DejaVu Sans", "Liberation Sans", sans-serif' font-size="7.05" font-weight="bold" font-style="normal" text-anchor="end" fill="#111">1.00</text>
<line x1="1816.26" y1="885" x2="1816.26" y2="887" stroke="#a9a9a9" stroke-width="0.8"/>
<text x="1816.26" y="893.2" font-family='"DejaVu Sans", "Liberation Sans", sans-serif' font-size="7.05" font-weight="bold" font-style="normal" text-anchor="middle" fill="#111">500</text>
<line x1="1856.99" y1="885" x2="1856.99" y2="887" stroke="#a9a9a9" stroke-width="0.8"/>
<text x="1856.99" y="893.2" font-family='"DejaVu Sans", "Liberation Sans", sans-serif' font-size="7.05" font-weight="bold" font-style="normal" text-anchor="middle" fill="#111">600</text>
<line x1="1897.73" y1="885" x2="1897.73" y2="887" stroke="#a9a9a9" stroke-width="0.8"/>
<text x="1897.73" y="893.2" font-family='"DejaVu Sans", "Liberation Sans", sans-serif' font-size="7.05" font-weight="bold" font-style="normal" text-anchor="middle" fill="#111">700</text>
<line x1="1938.47" y1="885" x2="1938.47" y2="887" stroke="#a9a9a9" stroke-width="0.8"/>
<text x="1938.47" y="893.2" font-family='"DejaVu Sans", "Liberation Sans", sans-serif' font-size="7.05" font-weight="bold" font-style="normal" text-anchor="middle" fill="#111">800</text>
<line x1="1979.2" y1="885" x2="1979.2" y2="887" stroke="#a9a9a9" stroke-width="0.8"/>
<text x="1979.2" y="893.2" font-family='"DejaVu Sans", "Liberation Sans", sans-serif' font-size="7.05" font-weight="bold" font-style="normal" text-anchor="middle" fill="#111">900</text>
<line x1="2019.94" y1="885" x2="2019.94" y2="887" stroke="#a9a9a9" stroke-width="0.8"/>
<text x="2019.94" y="893.2" font-family='"DejaVu Sans", "Liberation Sans", sans-serif' font-size="7.05" font-weight="bold" font-style="normal" text-anchor="middle" fill="#111">1000</text>
<text x="1910.25" y="906.1" font-family='"DejaVu Sans", "Liberation Sans", sans-serif' font-size="11.75" font-weight="bold" font-style="normal" text-anchor="middle" fill="#111">Wavelength<tspan font-weight="normal" dx="7.99">[</tspan><tspan font-weight="normal" font-style="italic">nm</tspan><tspan font-weight="normal">]</tspan></text>
<text x="1756" y="796.35" font-family='"DejaVu Sans", "Liberation Sans", sans-serif' font-size="11.5" font-weight="bold" font-style="normal" text-anchor="middle" fill="#111" transform="rotate(-90 1756 796.35)">SSA</text>
<g clip-path="url(#c26)"><polygon points="1455.84,935.2 1551.75,1049.6 1631.34,1046.35 1692.56,1058.86 1692.56,1095.17 1631.34,1082.94 1551.75,1085.95 1455.84,1025.28" fill="#d9d9d9"/><polyline points="1455.84,970.86 1551.75,1052.37 1631.34,1061.64 1692.56,1061.17" fill="none" stroke="#4a4a4a" stroke-width="1.1" stroke-linejoin="round"/><polyline points="1455.84,984.29 1551.75,1068.58 1631.34,1065.34 1692.56,1079.24" fill="none" stroke="#000" stroke-width="1.75" stroke-linejoin="round" stroke-dasharray="5.15 2.3"/></g>
<rect x="1444" y="926.2" width="260.4" height="177.2" fill="none" stroke="#a9a9a9" stroke-width="1.25"/>
<line x1="1442" y1="1088.5" x2="1444" y2="1088.5" stroke="#a9a9a9" stroke-width="0.8"/>
<text x="1440.7" y="1091" font-family='"DejaVu Sans", "Liberation Sans", sans-serif' font-size="7.05" font-weight="bold" font-style="normal" text-anchor="end" fill="#111">25</text>
<line x1="1442" y1="1065.34" x2="1444" y2="1065.34" stroke="#a9a9a9" stroke-width="0.8"/>
<text x="1440.7" y="1067.84" font-family='"DejaVu Sans", "Liberation Sans", sans-serif' font-size="7.05" font-weight="bold" font-style="normal" text-anchor="end" fill="#111">30</text>
<line x1="1442" y1="1042.19" x2="1444" y2="1042.19" stroke="#a9a9a9" stroke-width="0.8"/>
<text x="1440.7" y="1044.69" font-family='"DejaVu Sans", "Liberation Sans", sans-serif' font-size="7.05" font-weight="bold" font-style="normal" text-anchor="end" fill="#111">35</text>
<line x1="1442" y1="1019.03" x2="1444" y2="1019.03" stroke="#a9a9a9" stroke-width="0.8"/>
<text x="1440.7" y="1021.53" font-family='"DejaVu Sans", "Liberation Sans", sans-serif' font-size="7.05" font-weight="bold" font-style="normal" text-anchor="end" fill="#111">40</text>
<line x1="1442" y1="995.87" x2="1444" y2="995.87" stroke="#a9a9a9" stroke-width="0.8"/>
<text x="1440.7" y="998.37" font-family='"DejaVu Sans", "Liberation Sans", sans-serif' font-size="7.05" font-weight="bold" font-style="normal" text-anchor="end" fill="#111">45</text>
<line x1="1442" y1="972.71" x2="1444" y2="972.71" stroke="#a9a9a9" stroke-width="0.8"/>
<text x="1440.7" y="975.21" font-family='"DejaVu Sans", "Liberation Sans", sans-serif' font-size="7.05" font-weight="bold" font-style="normal" text-anchor="end" fill="#111">50</text>
<line x1="1442" y1="949.56" x2="1444" y2="949.56" stroke="#a9a9a9" stroke-width="0.8"/>
<text x="1440.7" y="952.06" font-family='"DejaVu Sans", "Liberation Sans", sans-serif' font-size="7.05" font-weight="bold" font-style="normal" text-anchor="end" fill="#111">55</text>
<line x1="1442" y1="926.4" x2="1444" y2="926.4" stroke="#a9a9a9" stroke-width="0.8"/>
<text x="1440.7" y="928.9" font-family='"DejaVu Sans", "Liberation Sans", sans-serif' font-size="7.05" font-weight="bold" font-style="normal" text-anchor="end" fill="#111">60</text>
<line x1="1480.33" y1="1103.4" x2="1480.33" y2="1105.4" stroke="#a9a9a9" stroke-width="0.8"/>
<text x="1480.33" y="1111.6" font-family='"DejaVu Sans", "Liberation Sans", sans-serif' font-size="7.05" font-weight="bold" font-style="normal" text-anchor="middle" fill="#111">500</text>
<line x1="1521.14" y1="1103.4" x2="1521.14" y2="1105.4" stroke="#a9a9a9" stroke-width="0.8"/>
<text x="1521.14" y="1111.6" font-family='"DejaVu Sans", "Liberation Sans", sans-serif' font-size="7.05" font-weight="bold" font-style="normal" text-anchor="middle" fill="#111">600</text>
<line x1="1561.96" y1="1103.4" x2="1561.96" y2="1105.4" stroke="#a9a9a9" stroke-width="0.8"/>
<text x="1561.96" y="1111.6" font-family='"DejaVu Sans", "Liberation Sans", sans-serif' font-size="7.05" font-weight="bold" font-style="normal" text-anchor="middle" fill="#111">700</text>
<line x1="1602.77" y1="1103.4" x2="1602.77" y2="1105.4" stroke="#a9a9a9" stroke-width="0.8"/>
<text x="1602.77" y="1111.6" font-family='"DejaVu Sans", "Liberation Sans", sans-serif' font-size="7.05" font-weight="bold" font-style="normal" text-anchor="middle" fill="#111">800</text>
<line x1="1643.59" y1="1103.4" x2="1643.59" y2="1105.4" stroke="#a9a9a9" stroke-width="0.8"/>
<text x="1643.59" y="1111.6" font-family='"DejaVu Sans", "Liberation Sans", sans-serif' font-size="7.05" font-weight="bold" font-style="normal" text-anchor="middle" fill="#111">900</text>
<line x1="1684.4" y1="1103.4" x2="1684.4" y2="1105.4" stroke="#a9a9a9" stroke-width="0.8"/>
<text x="1684.4" y="1111.6" font-family='"DejaVu Sans", "Liberation Sans", sans-serif' font-size="7.05" font-weight="bold" font-style="normal" text-anchor="middle" fill="#111">1000</text>
<text x="1574.5" y="1124.5" font-family='"DejaVu Sans", "Liberation Sans", sans-serif' font-size="11.75" font-weight="bold" font-style="normal" text-anchor="middle" fill="#111">Wavelength<tspan font-weight="normal" dx="7.99">[</tspan><tspan font-weight="normal" font-style="italic">nm</tspan><tspan font-weight="normal">]</tspan></text>
<text x="1426.5" y="1014.8" font-family='"DejaVu Sans", "Liberation Sans", sans-serif' font-size="11.5" font-weight="bold" font-style="normal" text-anchor="middle" fill="#111" transform="rotate(-90 1426.5 1014.8)">Total LR</text>
<g clip-path="url(#c27)"><polygon points="1791.81,968.91 1887.54,934.55 1966.98,974.36 2028.09,960.14 2028.09,1049.49 1966.98,1059.92 1887.54,1050.2 1791.81,1057.08" fill="#0000ff" fill-opacity="0.25"/><polygon points="1791.81,1004.7 1887.54,1071.06 1966.98,1068.22 2028.09,1074.14 2028.09,1094.76 1966.98,1090.26 1887.54,1093.58 1791.81,1064.9" fill="#008000" fill-opacity="0.25"/><polyline points="1791.81,1038.35 1887.54,1072.24 1966.98,1075.33 2028.09,1073.67" fill="none" stroke="#2e7d2e" stroke-width="0.85" stroke-linejoin="round"/><polyline points="1791.81,944.26 1887.54,1016.79 1966.98,1056.37 2028.09,1073.67" fill="none" stroke="#4848e0" stroke-width="0.85" stroke-linejoin="round"/><polyline points="1791.81,1038.83 1887.54,1083.38 1966.98,1079.83 2028.09,1086.46" fill="none" stroke="#0b5c0b" stroke-width="1.55" stroke-linejoin="round" stroke-dasharray="5 2.3"/><polyline points="1791.81,1020.82 1887.54,1003.51 1966.98,1024.13 2028.09,1012.05" fill="none" stroke="#0000e6" stroke-width="1.55" stroke-linejoin="round" stroke-dasharray="5 2.3"/></g>
<rect x="1780" y="926.2" width="259.9" height="177.2" fill="none" stroke="#a9a9a9" stroke-width="1.25"/>
<line x1="1778" y1="1099.5" x2="1780" y2="1099.5" stroke="#a9a9a9" stroke-width="0.8"/>
<text x="1776.7" y="1102" font-family='"DejaVu Sans", "Liberation Sans", sans-serif' font-size="7.05" font-weight="bold" font-style="normal" text-anchor="end" fill="#111">20</text>
<line x1="1778" y1="1075.8" x2="1780" y2="1075.8" stroke="#a9a9a9" stroke-width="0.8"/>
<text x="1776.7" y="1078.3" font-family='"DejaVu Sans", "Liberation Sans", sans-serif' font-size="7.05" font-weight="bold" font-style="normal" text-anchor="end" fill="#111">30</text>
<line x1="1778" y1="1052.1" x2="1780" y2="1052.1" stroke="#a9a9a9" stroke-width="0.8"/>
<text x="1776.7" y="1054.6" font-family='"DejaVu Sans", "Liberation Sans", sans-serif' font-size="7.05" font-weight="bold" font-style="normal" text-anchor="end" fill="#111">40</text>
<line x1="1778" y1="1028.4" x2="1780" y2="1028.4" stroke="#a9a9a9" stroke-width="0.8"/>
<text x="1776.7" y="1030.9" font-family='"DejaVu Sans", "Liberation Sans", sans-serif' font-size="7.05" font-weight="bold" font-style="normal" text-anchor="end" fill="#111">50</text>
<line x1="1778" y1="1004.7" x2="1780" y2="1004.7" stroke="#a9a9a9" stroke-width="0.8"/>
<text x="1776.7" y="1007.2" font-family='"DejaVu Sans", "Liberation Sans", sans-serif' font-size="7.05" font-weight="bold" font-style="normal" text-anchor="end" fill="#111">60</text>
<line x1="1778" y1="981" x2="1780" y2="981" stroke="#a9a9a9" stroke-width="0.8"/>
<text x="1776.7" y="983.5" font-family='"DejaVu Sans", "Liberation Sans", sans-serif' font-size="7.05" font-weight="bold" font-style="normal" text-anchor="end" fill="#111">70</text>
<line x1="1778" y1="957.3" x2="1780" y2="957.3" stroke="#a9a9a9" stroke-width="0.8"/>
<text x="1776.7" y="959.8" font-family='"DejaVu Sans", "Liberation Sans", sans-serif' font-size="7.05" font-weight="bold" font-style="normal" text-anchor="end" fill="#111">80</text>
<line x1="1778" y1="933.6" x2="1780" y2="933.6" stroke="#a9a9a9" stroke-width="0.8"/>
<text x="1776.7" y="936.1" font-family='"DejaVu Sans", "Liberation Sans", sans-serif' font-size="7.05" font-weight="bold" font-style="normal" text-anchor="end" fill="#111">90</text>
<line x1="1816.26" y1="1103.4" x2="1816.26" y2="1105.4" stroke="#a9a9a9" stroke-width="0.8"/>
<text x="1816.26" y="1111.6" font-family='"DejaVu Sans", "Liberation Sans", sans-serif' font-size="7.05" font-weight="bold" font-style="normal" text-anchor="middle" fill="#111">500</text>
<line x1="1856.99" y1="1103.4" x2="1856.99" y2="1105.4" stroke="#a9a9a9" stroke-width="0.8"/>
<text x="1856.99" y="1111.6" font-family='"DejaVu Sans", "Liberation Sans", sans-serif' font-size="7.05" font-weight="bold" font-style="normal" text-anchor="middle" fill="#111">600</text>
<line x1="1897.73" y1="1103.4" x2="1897.73" y2="1105.4" stroke="#a9a9a9" stroke-width="0.8"/>
<text x="1897.73" y="1111.6" font-family='"DejaVu Sans", "Liberation Sans", sans-serif' font-size="7.05" font-weight="bold" font-style="normal" text-anchor="middle" fill="#111">700</text>
<line x1="1938.47" y1="1103.4" x2="1938.47" y2="1105.4" stroke="#a9a9a9" stroke-width="0.8"/>
<text x="1938.47" y="1111.6" font-family='"DejaVu Sans", "Liberation Sans", sans-serif' font-size="7.05" font-weight="bold" font-style="normal" text-anchor="middle" fill="#111">800</text>
<line x1="1979.2" y1="1103.4" x2="1979.2" y2="1105.4" stroke="#a9a9a9" stroke-width="0.8"/>
<text x="1979.2" y="1111.6" font-family='"DejaVu Sans", "Liberation Sans", sans-serif' font-size="7.05" font-weight="bold" font-style="normal" text-anchor="middle" fill="#111">900</text>
<line x1="2019.94" y1="1103.4" x2="2019.94" y2="1105.4" stroke="#a9a9a9" stroke-width="0.8"/>
<text x="2019.94" y="1111.6" font-family='"DejaVu Sans", "Liberation Sans", sans-serif' font-size="7.05" font-weight="bold" font-style="normal" text-anchor="middle" fill="#111">1000</text>
<text x="1910.25" y="1124.5" font-family='"DejaVu Sans", "Liberation Sans", sans-serif' font-size="11.75" font-weight="bold" font-style="normal" text-anchor="middle" fill="#111">Wavelength<tspan font-weight="normal" dx="7.99">[</tspan><tspan font-weight="normal" font-style="italic">nm</tspan><tspan font-weight="normal">]</tspan></text>
<text x="1763" y="1014.8" font-family='"DejaVu Sans", "Liberation Sans", sans-serif' font-size="11.5" font-weight="bold" font-style="normal" text-anchor="middle" fill="#111" transform="rotate(-90 1763 1014.8)">LR</text>
</g>
</svg>
</body></html>
